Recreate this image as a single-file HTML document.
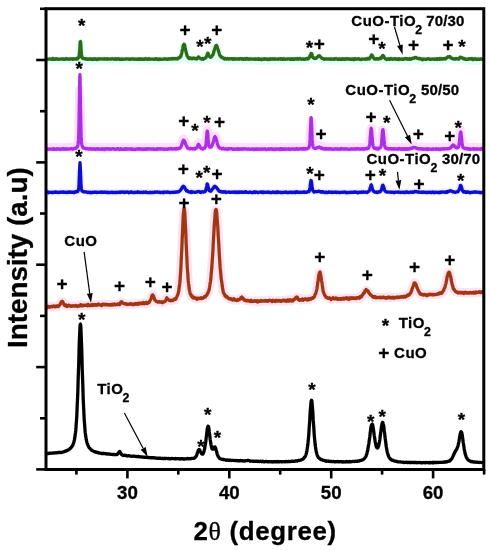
<!DOCTYPE html>
<html><head><meta charset="utf-8"><title>XRD patterns</title>
<style>html,body{margin:0;padding:0;background:#fff}body{width:490px;height:550px;overflow:hidden}</style></head>
<body>
<svg width="490" height="550" viewBox="0 0 490 550" style="display:block">
<rect width="490" height="550" fill="#fff"/>
<path d="M46.5,60.73 L47.5,60.68 L48.5,60.73 L49.5,60.50 L50.5,60.63 L51.5,60.55 L52.5,60.04 L53.5,60.61 L54.5,60.61 L55.5,60.41 L56.5,60.32 L57.5,60.50 L58.5,60.73 L59.5,60.60 L60.5,60.65 L61.5,60.59 L62.5,60.48 L63.5,60.38 L64.5,60.48 L65.5,60.46 L66.5,60.69 L67.5,60.68 L68.5,60.68 L69.5,60.54 L70.5,60.33 L71.5,60.53 L72.5,60.83 L73.5,60.67 L74.5,60.52 L75.5,60.33 L76.5,60.51 L77.5,60.51 L78.5,59.27 L79.5,53.78 L80.5,43.04 L81.5,55.74 L82.5,59.70 L83.5,60.14 L84.5,60.02 L85.5,60.38 L86.5,60.61 L87.5,60.71 L88.5,60.43 L89.5,60.56 L90.5,60.42 L91.5,60.77 L92.5,60.87 L93.5,60.32 L94.5,60.61 L95.5,60.64 L96.5,60.98 L97.5,60.49 L98.5,60.55 L99.5,60.43 L100.5,60.38 L101.5,60.60 L102.5,60.41 L103.5,60.36 L104.5,60.37 L105.5,60.43 L106.5,60.49 L107.5,60.71 L108.5,60.61 L109.5,60.56 L110.5,60.40 L111.5,60.47 L112.5,60.38 L113.5,60.66 L114.5,60.46 L115.5,60.67 L116.5,60.75 L117.5,60.51 L118.5,60.26 L119.5,60.77 L120.5,60.53 L121.5,60.44 L122.5,60.52 L123.5,60.73 L124.5,60.53 L125.5,60.32 L126.5,60.64 L127.5,60.42 L128.5,60.56 L129.5,60.55 L130.5,60.81 L131.5,60.46 L132.5,60.63 L133.5,60.49 L134.5,60.62 L135.5,60.60 L136.5,60.74 L137.5,60.69 L138.5,60.62 L139.5,60.45 L140.5,60.65 L141.5,60.78 L142.5,60.49 L143.5,60.71 L144.5,60.60 L145.5,60.48 L146.5,60.35 L147.5,60.51 L148.5,60.72 L149.5,60.39 L150.5,60.75 L151.5,60.55 L152.5,60.64 L153.5,60.59 L154.5,60.83 L155.5,60.60 L156.5,60.29 L157.5,60.85 L158.5,60.89 L159.5,60.48 L160.5,60.72 L161.5,60.97 L162.5,60.54 L163.5,60.48 L164.5,60.30 L165.5,60.61 L166.5,60.44 L167.5,60.96 L168.5,60.49 L169.5,60.69 L170.5,60.31 L171.5,60.36 L172.5,60.17 L173.5,60.53 L174.5,60.42 L175.5,60.37 L176.5,60.25 L177.5,60.46 L178.5,59.44 L179.5,59.13 L180.5,58.12 L181.5,55.42 L182.5,51.00 L183.5,46.62 L184.5,46.27 L185.5,51.12 L186.5,55.20 L187.5,57.94 L188.5,59.22 L189.5,60.08 L190.5,59.34 L191.5,60.19 L192.5,60.08 L193.5,59.78 L194.5,60.01 L195.5,60.19 L196.5,59.88 L197.5,59.77 L198.5,58.40 L199.5,59.26 L200.5,60.19 L201.5,60.60 L202.5,60.00 L203.5,60.65 L204.5,59.73 L205.5,59.26 L206.5,57.96 L207.5,55.25 L208.5,55.97 L209.5,57.97 L210.5,58.58 L211.5,58.02 L212.5,56.64 L213.5,54.82 L214.5,51.08 L215.5,48.00 L216.5,46.94 L217.5,49.49 L218.5,52.59 L219.5,56.09 L220.5,57.70 L221.5,58.84 L222.5,59.36 L223.5,59.58 L224.5,60.49 L225.5,59.98 L226.5,60.59 L227.5,60.16 L228.5,60.50 L229.5,60.36 L230.5,60.38 L231.5,60.18 L232.5,60.56 L233.5,60.20 L234.5,60.75 L235.5,60.35 L236.5,60.37 L237.5,60.35 L238.5,60.32 L239.5,60.33 L240.5,60.11 L241.5,60.42 L242.5,60.40 L243.5,60.75 L244.5,60.64 L245.5,60.12 L246.5,60.40 L247.5,60.58 L248.5,60.71 L249.5,60.49 L250.5,60.37 L251.5,60.57 L252.5,60.68 L253.5,60.67 L254.5,60.63 L255.5,60.38 L256.5,60.47 L257.5,60.85 L258.5,60.24 L259.5,60.89 L260.5,60.72 L261.5,61.19 L262.5,60.80 L263.5,60.84 L264.5,60.19 L265.5,60.55 L266.5,60.44 L267.5,60.68 L268.5,60.71 L269.5,60.42 L270.5,60.41 L271.5,60.33 L272.5,60.69 L273.5,60.50 L274.5,60.57 L275.5,60.40 L276.5,60.67 L277.5,60.55 L278.5,60.66 L279.5,60.43 L280.5,60.49 L281.5,60.55 L282.5,60.77 L283.5,60.81 L284.5,60.52 L285.5,60.81 L286.5,60.50 L287.5,60.56 L288.5,60.42 L289.5,60.32 L290.5,60.80 L291.5,60.24 L292.5,60.87 L293.5,60.51 L294.5,60.54 L295.5,60.10 L296.5,60.69 L297.5,60.07 L298.5,60.45 L299.5,60.19 L300.5,60.36 L301.5,60.87 L302.5,60.46 L303.5,60.78 L304.5,60.74 L305.5,60.64 L306.5,60.09 L307.5,60.14 L308.5,60.01 L309.5,58.76 L310.5,56.21 L311.5,54.88 L312.5,57.95 L313.5,59.37 L314.5,59.79 L315.5,59.69 L316.5,59.16 L317.5,58.55 L318.5,57.41 L319.5,57.44 L320.5,58.36 L321.5,59.29 L322.5,60.16 L323.5,60.20 L324.5,60.51 L325.5,60.46 L326.5,60.55 L327.5,60.46 L328.5,60.50 L329.5,60.68 L330.5,60.79 L331.5,60.47 L332.5,60.62 L333.5,60.83 L334.5,60.15 L335.5,60.43 L336.5,60.30 L337.5,60.85 L338.5,60.81 L339.5,60.42 L340.5,60.52 L341.5,60.96 L342.5,60.23 L343.5,60.42 L344.5,60.62 L345.5,60.28 L346.5,60.55 L347.5,60.30 L348.5,60.54 L349.5,60.65 L350.5,60.83 L351.5,60.63 L352.5,60.75 L353.5,60.89 L354.5,60.42 L355.5,60.65 L356.5,60.34 L357.5,60.56 L358.5,60.10 L359.5,60.71 L360.5,61.01 L361.5,60.81 L362.5,60.58 L363.5,60.61 L364.5,60.52 L365.5,60.51 L366.5,60.67 L367.5,60.02 L368.5,60.48 L369.5,60.22 L370.5,58.68 L371.5,56.60 L372.5,57.32 L373.5,59.10 L374.5,60.54 L375.5,60.61 L376.5,60.48 L377.5,60.23 L378.5,60.56 L379.5,60.01 L380.5,59.77 L381.5,59.34 L382.5,57.31 L383.5,57.65 L384.5,59.38 L385.5,60.36 L386.5,60.81 L387.5,60.40 L388.5,60.37 L389.5,60.40 L390.5,60.53 L391.5,60.58 L392.5,60.32 L393.5,60.50 L394.5,60.09 L395.5,60.18 L396.5,60.59 L397.5,60.48 L398.5,61.05 L399.5,60.51 L400.5,60.57 L401.5,60.50 L402.5,60.66 L403.5,60.81 L404.5,60.30 L405.5,60.23 L406.5,60.31 L407.5,60.67 L408.5,60.65 L409.5,60.43 L410.5,60.87 L411.5,60.41 L412.5,59.97 L413.5,59.92 L414.5,59.26 L415.5,59.08 L416.5,59.21 L417.5,59.82 L418.5,60.01 L419.5,60.39 L420.5,60.26 L421.5,60.72 L422.5,60.91 L423.5,60.98 L424.5,60.70 L425.5,60.79 L426.5,60.71 L427.5,60.49 L428.5,60.14 L429.5,60.49 L430.5,60.55 L431.5,60.65 L432.5,60.55 L433.5,60.57 L434.5,60.87 L435.5,60.77 L436.5,60.85 L437.5,61.02 L438.5,60.30 L439.5,60.49 L440.5,60.56 L441.5,60.37 L442.5,60.69 L443.5,60.48 L444.5,60.06 L445.5,60.27 L446.5,59.54 L447.5,58.83 L448.5,58.54 L449.5,58.37 L450.5,58.87 L451.5,59.30 L452.5,60.13 L453.5,60.39 L454.5,60.51 L455.5,60.57 L456.5,60.08 L457.5,60.51 L458.5,60.61 L459.5,59.61 L460.5,58.67 L461.5,59.11 L462.5,59.76 L463.5,59.78 L464.5,60.56 L465.5,60.43 L466.5,60.80 L467.5,60.90 L468.5,60.62 L469.5,60.43 L470.5,60.13 L471.5,60.21 L472.5,61.04 L473.5,61.02 L474.5,60.21 L475.5,60.31 L476.5,61.01 L477.5,60.71 L478.5,60.62 L479.5,60.71 L480.5,60.43 L481.5,60.66 L482.5,60.76" fill="none" stroke="#d8fff6" stroke-width="8" stroke-linejoin="round" opacity="0.8"/>
<path d="M46.5,147.57 L47.5,147.77 L48.5,147.64 L49.5,147.44 L50.5,147.61 L51.5,147.65 L52.5,147.51 L53.5,147.04 L54.5,147.81 L55.5,147.63 L56.5,147.71 L57.5,147.46 L58.5,147.46 L59.5,147.56 L60.5,148.03 L61.5,147.57 L62.5,147.55 L63.5,147.54 L64.5,147.44 L65.5,147.41 L66.5,147.43 L67.5,147.34 L68.5,147.59 L69.5,147.34 L70.5,147.28 L71.5,147.02 L72.5,147.66 L73.5,147.36 L74.5,146.84 L75.5,146.69 L76.5,146.04 L77.5,144.94 L78.5,138.21 L79.5,89.96 L80.5,104.74 L81.5,140.90 L82.5,145.03 L83.5,146.49 L84.5,146.65 L85.5,147.13 L86.5,146.91 L87.5,147.23 L88.5,147.56 L89.5,147.42 L90.5,147.18 L91.5,147.60 L92.5,147.58 L93.5,147.41 L94.5,147.50 L95.5,147.62 L96.5,147.42 L97.5,147.71 L98.5,147.44 L99.5,147.58 L100.5,147.51 L101.5,147.88 L102.5,147.56 L103.5,147.55 L104.5,148.21 L105.5,147.26 L106.5,147.26 L107.5,147.65 L108.5,147.44 L109.5,147.40 L110.5,147.84 L111.5,147.39 L112.5,147.33 L113.5,147.14 L114.5,147.69 L115.5,147.62 L116.5,147.47 L117.5,147.21 L118.5,147.38 L119.5,147.82 L120.5,147.26 L121.5,147.94 L122.5,147.87 L123.5,147.54 L124.5,147.67 L125.5,147.14 L126.5,147.50 L127.5,147.45 L128.5,147.61 L129.5,147.41 L130.5,147.44 L131.5,147.87 L132.5,147.63 L133.5,147.98 L134.5,147.68 L135.5,147.82 L136.5,147.45 L137.5,147.68 L138.5,147.16 L139.5,147.52 L140.5,147.78 L141.5,147.43 L142.5,147.41 L143.5,147.63 L144.5,147.92 L145.5,147.27 L146.5,147.58 L147.5,147.55 L148.5,147.45 L149.5,147.68 L150.5,147.39 L151.5,147.51 L152.5,147.24 L153.5,147.70 L154.5,147.51 L155.5,147.83 L156.5,147.76 L157.5,147.08 L158.5,147.23 L159.5,147.36 L160.5,147.16 L161.5,147.50 L162.5,147.52 L163.5,147.42 L164.5,147.98 L165.5,147.61 L166.5,147.55 L167.5,147.76 L168.5,147.26 L169.5,147.32 L170.5,147.43 L171.5,147.38 L172.5,147.59 L173.5,147.45 L174.5,147.24 L175.5,147.27 L176.5,147.05 L177.5,147.09 L178.5,146.83 L179.5,146.50 L180.5,146.05 L181.5,144.08 L182.5,140.99 L183.5,138.71 L184.5,139.91 L185.5,142.25 L186.5,144.57 L187.5,146.22 L188.5,146.91 L189.5,147.20 L190.5,147.01 L191.5,147.07 L192.5,147.33 L193.5,147.44 L194.5,146.86 L195.5,146.92 L196.5,146.40 L197.5,144.95 L198.5,142.72 L199.5,144.25 L200.5,146.12 L201.5,146.84 L202.5,147.49 L203.5,146.86 L204.5,146.66 L205.5,144.82 L206.5,136.98 L207.5,129.94 L208.5,141.34 L209.5,145.58 L210.5,145.68 L211.5,144.78 L212.5,142.67 L213.5,139.67 L214.5,136.00 L215.5,135.83 L216.5,138.72 L217.5,142.61 L218.5,145.07 L219.5,146.33 L220.5,146.59 L221.5,147.02 L222.5,146.91 L223.5,147.14 L224.5,147.61 L225.5,147.30 L226.5,147.45 L227.5,147.77 L228.5,147.21 L229.5,147.32 L230.5,147.43 L231.5,147.23 L232.5,147.34 L233.5,147.57 L234.5,147.93 L235.5,147.51 L236.5,147.70 L237.5,147.07 L238.5,147.88 L239.5,147.77 L240.5,147.40 L241.5,147.79 L242.5,147.17 L243.5,147.39 L244.5,147.32 L245.5,147.41 L246.5,147.38 L247.5,147.69 L248.5,147.58 L249.5,147.56 L250.5,147.55 L251.5,147.65 L252.5,147.37 L253.5,147.58 L254.5,147.78 L255.5,147.71 L256.5,147.27 L257.5,147.75 L258.5,147.40 L259.5,147.67 L260.5,147.81 L261.5,147.51 L262.5,147.85 L263.5,147.64 L264.5,147.63 L265.5,147.82 L266.5,148.08 L267.5,147.68 L268.5,147.22 L269.5,147.81 L270.5,147.35 L271.5,147.24 L272.5,147.91 L273.5,147.78 L274.5,148.10 L275.5,147.56 L276.5,147.77 L277.5,147.56 L278.5,147.38 L279.5,147.52 L280.5,147.13 L281.5,147.91 L282.5,147.65 L283.5,147.53 L284.5,147.91 L285.5,147.65 L286.5,147.71 L287.5,147.67 L288.5,147.22 L289.5,147.81 L290.5,147.78 L291.5,147.59 L292.5,147.33 L293.5,147.57 L294.5,147.70 L295.5,147.42 L296.5,147.25 L297.5,147.58 L298.5,147.83 L299.5,147.50 L300.5,147.14 L301.5,147.35 L302.5,147.48 L303.5,147.00 L304.5,147.33 L305.5,147.09 L306.5,147.18 L307.5,147.01 L308.5,146.37 L309.5,143.61 L310.5,126.69 L311.5,121.59 L312.5,141.75 L313.5,146.08 L314.5,146.77 L315.5,146.87 L316.5,146.47 L317.5,146.36 L318.5,145.60 L319.5,145.50 L320.5,146.20 L321.5,146.87 L322.5,146.98 L323.5,147.12 L324.5,147.48 L325.5,146.98 L326.5,147.49 L327.5,147.51 L328.5,147.51 L329.5,147.44 L330.5,147.42 L331.5,147.37 L332.5,147.72 L333.5,147.61 L334.5,147.64 L335.5,147.25 L336.5,147.54 L337.5,147.27 L338.5,147.70 L339.5,147.28 L340.5,147.48 L341.5,147.40 L342.5,147.41 L343.5,147.52 L344.5,147.58 L345.5,147.50 L346.5,147.27 L347.5,147.52 L348.5,147.61 L349.5,147.83 L350.5,147.35 L351.5,147.61 L352.5,147.52 L353.5,147.45 L354.5,147.59 L355.5,147.13 L356.5,147.35 L357.5,147.25 L358.5,147.40 L359.5,147.33 L360.5,147.28 L361.5,147.61 L362.5,147.63 L363.5,147.69 L364.5,147.14 L365.5,147.17 L366.5,147.10 L367.5,147.13 L368.5,146.65 L369.5,143.43 L370.5,133.31 L371.5,128.20 L372.5,140.31 L373.5,145.61 L374.5,146.80 L375.5,146.59 L376.5,146.96 L377.5,146.79 L378.5,147.52 L379.5,146.50 L380.5,145.80 L381.5,141.89 L382.5,130.05 L383.5,132.74 L384.5,143.11 L385.5,146.55 L386.5,146.91 L387.5,146.87 L388.5,147.40 L389.5,147.36 L390.5,147.26 L391.5,147.52 L392.5,147.26 L393.5,147.74 L394.5,147.49 L395.5,147.38 L396.5,147.66 L397.5,147.39 L398.5,147.41 L399.5,147.31 L400.5,147.46 L401.5,147.64 L402.5,147.41 L403.5,147.48 L404.5,147.67 L405.5,147.62 L406.5,147.12 L407.5,147.59 L408.5,147.71 L409.5,147.14 L410.5,146.65 L411.5,146.77 L412.5,146.30 L413.5,146.22 L414.5,145.93 L415.5,146.14 L416.5,146.80 L417.5,147.12 L418.5,147.35 L419.5,147.30 L420.5,147.22 L421.5,147.67 L422.5,147.20 L423.5,147.74 L424.5,147.56 L425.5,147.67 L426.5,147.24 L427.5,148.07 L428.5,147.36 L429.5,147.58 L430.5,147.65 L431.5,147.82 L432.5,147.50 L433.5,147.81 L434.5,147.62 L435.5,147.67 L436.5,147.09 L437.5,147.56 L438.5,147.51 L439.5,147.42 L440.5,147.90 L441.5,147.61 L442.5,147.58 L443.5,147.30 L444.5,147.55 L445.5,147.37 L446.5,147.34 L447.5,147.19 L448.5,147.15 L449.5,146.86 L450.5,146.33 L451.5,145.25 L452.5,143.98 L453.5,143.76 L454.5,144.85 L455.5,145.70 L456.5,146.14 L457.5,146.19 L458.5,145.44 L459.5,139.98 L460.5,130.81 L461.5,135.83 L462.5,144.01 L463.5,146.19 L464.5,146.72 L465.5,147.06 L466.5,146.99 L467.5,146.98 L468.5,147.50 L469.5,147.69 L470.5,147.45 L471.5,147.60 L472.5,147.42 L473.5,147.06 L474.5,147.84 L475.5,147.30 L476.5,147.71 L477.5,147.37 L478.5,147.53 L479.5,147.55 L480.5,147.76 L481.5,147.30 L482.5,147.34" fill="none" stroke="#ffd6ff" stroke-width="9" stroke-linejoin="round" opacity="0.8"/>
<path d="M46.5,192.41 L47.5,192.16 L48.5,192.40 L49.5,192.16 L50.5,192.32 L51.5,192.40 L52.5,192.26 L53.5,192.31 L54.5,192.45 L55.5,191.97 L56.5,192.25 L57.5,192.20 L58.5,192.46 L59.5,192.35 L60.5,192.05 L61.5,192.06 L62.5,191.94 L63.5,191.98 L64.5,192.38 L65.5,192.40 L66.5,192.45 L67.5,192.35 L68.5,192.28 L69.5,192.29 L70.5,192.18 L71.5,192.19 L72.5,192.13 L73.5,192.42 L74.5,191.84 L75.5,191.74 L76.5,191.43 L77.5,191.64 L78.5,189.64 L79.5,172.18 L80.5,172.32 L81.5,189.12 L82.5,191.07 L83.5,191.94 L84.5,191.88 L85.5,191.92 L86.5,192.21 L87.5,192.48 L88.5,192.20 L89.5,192.49 L90.5,192.25 L91.5,192.76 L92.5,192.31 L93.5,192.42 L94.5,192.17 L95.5,192.28 L96.5,192.60 L97.5,192.06 L98.5,192.42 L99.5,192.22 L100.5,192.25 L101.5,191.91 L102.5,192.42 L103.5,192.15 L104.5,192.09 L105.5,192.34 L106.5,192.17 L107.5,192.08 L108.5,192.45 L109.5,192.61 L110.5,192.31 L111.5,192.21 L112.5,192.55 L113.5,192.42 L114.5,192.50 L115.5,192.53 L116.5,192.36 L117.5,192.44 L118.5,192.26 L119.5,192.46 L120.5,192.45 L121.5,192.18 L122.5,192.08 L123.5,192.36 L124.5,192.01 L125.5,192.45 L126.5,192.21 L127.5,192.00 L128.5,192.56 L129.5,192.39 L130.5,192.01 L131.5,192.43 L132.5,192.26 L133.5,192.29 L134.5,192.37 L135.5,192.17 L136.5,192.43 L137.5,191.80 L138.5,192.02 L139.5,192.16 L140.5,192.38 L141.5,192.17 L142.5,192.48 L143.5,192.19 L144.5,192.42 L145.5,192.21 L146.5,192.02 L147.5,192.32 L148.5,192.58 L149.5,192.34 L150.5,192.17 L151.5,192.38 L152.5,192.29 L153.5,192.31 L154.5,191.99 L155.5,192.28 L156.5,192.10 L157.5,192.24 L158.5,192.30 L159.5,192.20 L160.5,192.62 L161.5,192.35 L162.5,192.20 L163.5,192.80 L164.5,192.10 L165.5,192.04 L166.5,192.36 L167.5,192.22 L168.5,192.17 L169.5,192.64 L170.5,192.56 L171.5,192.40 L172.5,192.40 L173.5,192.14 L174.5,192.31 L175.5,192.10 L176.5,191.99 L177.5,191.76 L178.5,191.74 L179.5,191.08 L180.5,190.31 L181.5,188.65 L182.5,187.01 L183.5,186.33 L184.5,187.22 L185.5,189.32 L186.5,190.91 L187.5,191.02 L188.5,191.76 L189.5,192.09 L190.5,192.09 L191.5,191.61 L192.5,192.28 L193.5,192.12 L194.5,192.34 L195.5,192.06 L196.5,192.01 L197.5,191.79 L198.5,191.41 L199.5,191.61 L200.5,192.27 L201.5,191.93 L202.5,191.87 L203.5,192.00 L204.5,191.93 L205.5,190.84 L206.5,187.13 L207.5,184.47 L208.5,188.76 L209.5,190.74 L210.5,191.08 L211.5,190.42 L212.5,188.79 L213.5,187.86 L214.5,186.36 L215.5,186.70 L216.5,187.70 L217.5,188.76 L218.5,190.12 L219.5,191.36 L220.5,191.76 L221.5,191.67 L222.5,192.02 L223.5,191.98 L224.5,192.19 L225.5,191.78 L226.5,192.08 L227.5,192.12 L228.5,191.98 L229.5,192.32 L230.5,192.06 L231.5,192.26 L232.5,192.13 L233.5,192.01 L234.5,192.02 L235.5,192.47 L236.5,191.95 L237.5,192.42 L238.5,192.03 L239.5,192.54 L240.5,192.04 L241.5,192.42 L242.5,192.43 L243.5,192.33 L244.5,192.27 L245.5,191.58 L246.5,192.43 L247.5,192.41 L248.5,192.49 L249.5,192.14 L250.5,192.17 L251.5,192.68 L252.5,192.68 L253.5,192.30 L254.5,192.04 L255.5,191.95 L256.5,192.11 L257.5,192.43 L258.5,192.36 L259.5,192.22 L260.5,192.26 L261.5,192.27 L262.5,192.53 L263.5,192.22 L264.5,192.17 L265.5,192.29 L266.5,192.32 L267.5,192.44 L268.5,192.15 L269.5,192.41 L270.5,192.55 L271.5,192.58 L272.5,192.05 L273.5,192.22 L274.5,192.13 L275.5,192.49 L276.5,192.26 L277.5,191.87 L278.5,192.07 L279.5,192.14 L280.5,192.44 L281.5,192.60 L282.5,192.32 L283.5,192.40 L284.5,192.45 L285.5,192.02 L286.5,192.23 L287.5,192.45 L288.5,192.53 L289.5,192.43 L290.5,192.36 L291.5,192.39 L292.5,192.53 L293.5,192.08 L294.5,192.26 L295.5,192.52 L296.5,191.94 L297.5,191.92 L298.5,192.17 L299.5,192.33 L300.5,192.22 L301.5,192.30 L302.5,192.16 L303.5,192.21 L304.5,192.09 L305.5,192.23 L306.5,192.16 L307.5,192.02 L308.5,191.24 L309.5,190.03 L310.5,183.51 L311.5,182.15 L312.5,189.25 L313.5,191.24 L314.5,191.99 L315.5,191.62 L316.5,191.54 L317.5,191.61 L318.5,191.20 L319.5,191.27 L320.5,191.74 L321.5,191.64 L322.5,191.70 L323.5,192.19 L324.5,192.38 L325.5,192.55 L326.5,192.08 L327.5,192.58 L328.5,192.24 L329.5,191.95 L330.5,192.19 L331.5,192.04 L332.5,192.64 L333.5,192.04 L334.5,192.42 L335.5,192.19 L336.5,192.50 L337.5,192.39 L338.5,192.38 L339.5,192.59 L340.5,192.43 L341.5,192.32 L342.5,192.08 L343.5,192.30 L344.5,191.91 L345.5,192.34 L346.5,192.62 L347.5,192.34 L348.5,192.51 L349.5,192.30 L350.5,192.31 L351.5,192.31 L352.5,192.31 L353.5,192.05 L354.5,192.11 L355.5,192.02 L356.5,192.28 L357.5,192.27 L358.5,192.60 L359.5,192.23 L360.5,192.36 L361.5,191.99 L362.5,192.25 L363.5,191.91 L364.5,192.44 L365.5,192.02 L366.5,192.18 L367.5,192.23 L368.5,191.37 L369.5,190.31 L370.5,187.00 L371.5,185.51 L372.5,189.25 L373.5,191.13 L374.5,191.95 L375.5,192.06 L376.5,192.13 L377.5,192.48 L378.5,191.93 L379.5,191.62 L380.5,191.37 L381.5,189.45 L382.5,185.53 L383.5,186.41 L384.5,189.89 L385.5,191.25 L386.5,191.85 L387.5,192.15 L388.5,192.03 L389.5,192.05 L390.5,191.99 L391.5,192.42 L392.5,192.16 L393.5,192.27 L394.5,192.37 L395.5,192.11 L396.5,192.04 L397.5,192.10 L398.5,192.04 L399.5,192.43 L400.5,192.51 L401.5,192.33 L402.5,192.06 L403.5,192.48 L404.5,192.29 L405.5,192.49 L406.5,191.98 L407.5,191.86 L408.5,192.33 L409.5,192.34 L410.5,192.22 L411.5,192.45 L412.5,191.89 L413.5,192.23 L414.5,191.77 L415.5,191.73 L416.5,191.65 L417.5,191.99 L418.5,191.95 L419.5,192.35 L420.5,192.12 L421.5,192.13 L422.5,192.20 L423.5,192.05 L424.5,192.41 L425.5,192.34 L426.5,192.44 L427.5,192.52 L428.5,192.26 L429.5,192.49 L430.5,192.39 L431.5,192.63 L432.5,192.01 L433.5,192.27 L434.5,192.47 L435.5,192.40 L436.5,192.23 L437.5,192.42 L438.5,192.53 L439.5,192.25 L440.5,192.14 L441.5,192.23 L442.5,191.90 L443.5,192.03 L444.5,192.09 L445.5,192.47 L446.5,191.70 L447.5,191.53 L448.5,191.53 L449.5,190.90 L450.5,190.77 L451.5,191.07 L452.5,191.76 L453.5,191.73 L454.5,192.21 L455.5,192.19 L456.5,191.93 L457.5,191.80 L458.5,190.75 L459.5,188.77 L460.5,185.36 L461.5,187.17 L462.5,190.62 L463.5,191.87 L464.5,191.96 L465.5,192.29 L466.5,192.16 L467.5,191.76 L468.5,192.39 L469.5,192.43 L470.5,192.36 L471.5,192.42 L472.5,192.45 L473.5,192.10 L474.5,191.92 L475.5,192.02 L476.5,192.03 L477.5,192.09 L478.5,192.32 L479.5,192.29 L480.5,192.30 L481.5,192.35 L482.5,192.05" fill="none" stroke="#ececff" stroke-width="7" stroke-linejoin="round" opacity="0.8"/>
<path d="M46.5,306.71 L47.5,306.50 L48.5,306.43 L49.5,307.16 L50.5,306.67 L51.5,306.28 L52.5,306.78 L53.5,306.37 L54.5,306.27 L55.5,306.72 L56.5,306.66 L57.5,305.85 L58.5,306.49 L59.5,305.08 L60.5,303.62 L61.5,301.78 L62.5,301.45 L63.5,303.34 L64.5,305.04 L65.5,305.59 L66.5,305.31 L67.5,306.09 L68.5,305.26 L69.5,305.63 L70.5,306.10 L71.5,305.80 L72.5,306.14 L73.5,305.64 L74.5,305.94 L75.5,305.78 L76.5,305.87 L77.5,306.57 L78.5,306.20 L79.5,305.90 L80.5,304.74 L81.5,305.52 L82.5,305.43 L83.5,305.42 L84.5,305.37 L85.5,305.34 L86.5,304.98 L87.5,305.77 L88.5,305.59 L89.5,305.53 L90.5,305.68 L91.5,305.20 L92.5,304.42 L93.5,304.88 L94.5,304.86 L95.5,305.29 L96.5,304.69 L97.5,304.60 L98.5,304.22 L99.5,304.90 L100.5,305.00 L101.5,305.54 L102.5,304.19 L103.5,304.61 L104.5,304.30 L105.5,304.79 L106.5,304.56 L107.5,304.71 L108.5,304.49 L109.5,305.19 L110.5,304.61 L111.5,304.54 L112.5,304.22 L113.5,304.59 L114.5,304.48 L115.5,304.77 L116.5,304.37 L117.5,304.39 L118.5,303.81 L119.5,304.76 L120.5,302.81 L121.5,302.07 L122.5,303.08 L123.5,303.26 L124.5,303.85 L125.5,303.64 L126.5,304.13 L127.5,304.24 L128.5,304.24 L129.5,304.25 L130.5,304.03 L131.5,303.97 L132.5,304.61 L133.5,304.68 L134.5,303.92 L135.5,303.60 L136.5,303.96 L137.5,303.46 L138.5,303.89 L139.5,303.72 L140.5,303.64 L141.5,303.46 L142.5,303.54 L143.5,302.41 L144.5,303.73 L145.5,303.37 L146.5,302.28 L147.5,303.35 L148.5,302.52 L149.5,301.70 L150.5,299.78 L151.5,297.31 L152.5,294.96 L153.5,296.05 L154.5,299.00 L155.5,300.35 L156.5,301.40 L157.5,301.87 L158.5,302.09 L159.5,301.69 L160.5,302.07 L161.5,302.40 L162.5,302.76 L163.5,301.86 L164.5,301.76 L165.5,300.55 L166.5,298.22 L167.5,299.08 L168.5,299.64 L169.5,300.44 L170.5,300.73 L171.5,300.09 L172.5,300.58 L173.5,299.94 L174.5,298.94 L175.5,299.28 L176.5,297.52 L177.5,295.25 L178.5,291.90 L179.5,285.15 L180.5,273.49 L181.5,254.90 L182.5,232.16 L183.5,212.72 L184.5,210.47 L185.5,227.26 L186.5,249.84 L187.5,270.13 L188.5,283.17 L189.5,290.31 L190.5,294.24 L191.5,296.23 L192.5,297.12 L193.5,298.08 L194.5,297.49 L195.5,298.01 L196.5,298.94 L197.5,298.70 L198.5,298.63 L199.5,298.54 L200.5,298.09 L201.5,298.48 L202.5,298.24 L203.5,298.01 L204.5,296.46 L205.5,296.56 L206.5,295.35 L207.5,293.61 L208.5,291.34 L209.5,287.55 L210.5,281.51 L211.5,270.92 L212.5,257.14 L213.5,239.39 L214.5,222.58 L215.5,210.58 L216.5,211.09 L217.5,223.20 L218.5,239.97 L219.5,257.15 L220.5,270.90 L221.5,280.68 L222.5,287.69 L223.5,292.70 L224.5,294.26 L225.5,295.56 L226.5,297.07 L227.5,297.33 L228.5,298.28 L229.5,298.48 L230.5,298.85 L231.5,299.00 L232.5,300.01 L233.5,299.67 L234.5,300.03 L235.5,299.96 L236.5,300.05 L237.5,300.05 L238.5,299.80 L239.5,299.74 L240.5,298.31 L241.5,297.46 L242.5,298.25 L243.5,299.10 L244.5,299.61 L245.5,300.47 L246.5,300.81 L247.5,300.81 L248.5,300.75 L249.5,300.95 L250.5,301.34 L251.5,300.92 L252.5,301.31 L253.5,301.35 L254.5,301.15 L255.5,300.86 L256.5,300.84 L257.5,302.10 L258.5,301.21 L259.5,301.23 L260.5,301.28 L261.5,300.67 L262.5,301.21 L263.5,300.85 L264.5,300.69 L265.5,301.07 L266.5,300.64 L267.5,300.77 L268.5,300.88 L269.5,300.35 L270.5,300.66 L271.5,301.02 L272.5,300.88 L273.5,300.60 L274.5,301.21 L275.5,301.10 L276.5,300.93 L277.5,300.61 L278.5,300.30 L279.5,300.78 L280.5,301.23 L281.5,301.21 L282.5,300.43 L283.5,300.53 L284.5,300.98 L285.5,300.34 L286.5,301.38 L287.5,299.80 L288.5,299.96 L289.5,300.63 L290.5,299.97 L291.5,300.97 L292.5,300.09 L293.5,299.83 L294.5,299.02 L295.5,298.37 L296.5,297.20 L297.5,297.53 L298.5,299.39 L299.5,300.06 L300.5,299.63 L301.5,300.03 L302.5,298.92 L303.5,299.74 L304.5,299.52 L305.5,299.03 L306.5,299.54 L307.5,299.89 L308.5,298.88 L309.5,299.39 L310.5,298.96 L311.5,298.28 L312.5,298.12 L313.5,297.54 L314.5,296.46 L315.5,293.97 L316.5,290.69 L317.5,284.94 L318.5,277.58 L319.5,272.67 L320.5,274.24 L321.5,280.52 L322.5,286.44 L323.5,291.92 L324.5,294.63 L325.5,296.23 L326.5,297.32 L327.5,297.64 L328.5,298.22 L329.5,297.97 L330.5,298.84 L331.5,298.97 L332.5,298.55 L333.5,298.58 L334.5,298.45 L335.5,298.81 L336.5,298.46 L337.5,299.09 L338.5,298.94 L339.5,298.65 L340.5,299.15 L341.5,298.68 L342.5,298.44 L343.5,298.76 L344.5,298.35 L345.5,298.53 L346.5,298.01 L347.5,298.31 L348.5,299.05 L349.5,298.54 L350.5,298.48 L351.5,298.16 L352.5,298.02 L353.5,298.03 L354.5,298.33 L355.5,298.23 L356.5,298.48 L357.5,298.06 L358.5,297.80 L359.5,298.28 L360.5,296.38 L361.5,296.89 L362.5,294.76 L363.5,293.19 L364.5,292.53 L365.5,291.01 L366.5,290.38 L367.5,290.87 L368.5,292.19 L369.5,293.52 L370.5,294.96 L371.5,295.49 L372.5,296.55 L373.5,297.38 L374.5,296.84 L375.5,297.48 L376.5,297.31 L377.5,297.55 L378.5,297.72 L379.5,297.49 L380.5,297.90 L381.5,297.73 L382.5,297.54 L383.5,297.24 L384.5,297.63 L385.5,297.42 L386.5,298.03 L387.5,297.52 L388.5,296.93 L389.5,297.64 L390.5,297.33 L391.5,297.70 L392.5,297.58 L393.5,297.46 L394.5,297.51 L395.5,297.58 L396.5,297.21 L397.5,297.40 L398.5,297.39 L399.5,297.03 L400.5,296.86 L401.5,296.66 L402.5,296.64 L403.5,296.62 L404.5,296.31 L405.5,297.02 L406.5,296.27 L407.5,294.99 L408.5,295.05 L409.5,294.36 L410.5,293.14 L411.5,290.92 L412.5,287.86 L413.5,285.61 L414.5,282.91 L415.5,283.67 L416.5,286.00 L417.5,288.71 L418.5,291.05 L419.5,292.66 L420.5,294.08 L421.5,294.50 L422.5,294.70 L423.5,295.11 L424.5,294.46 L425.5,294.59 L426.5,295.49 L427.5,295.45 L428.5,294.47 L429.5,294.47 L430.5,294.65 L431.5,294.51 L432.5,294.40 L433.5,294.35 L434.5,294.50 L435.5,294.53 L436.5,294.43 L437.5,294.24 L438.5,293.54 L439.5,293.87 L440.5,292.76 L441.5,293.29 L442.5,292.07 L443.5,290.40 L444.5,288.15 L445.5,284.83 L446.5,280.52 L447.5,275.65 L448.5,272.76 L449.5,272.59 L450.5,276.17 L451.5,281.52 L452.5,285.72 L453.5,289.10 L454.5,289.99 L455.5,291.42 L456.5,292.20 L457.5,292.48 L458.5,292.19 L459.5,292.46 L460.5,292.91 L461.5,292.34 L462.5,292.72 L463.5,292.90 L464.5,292.65 L465.5,292.32 L466.5,292.93 L467.5,292.93 L468.5,292.67 L469.5,293.14 L470.5,292.38 L471.5,293.02 L472.5,292.92 L473.5,292.15 L474.5,292.66 L475.5,292.27 L476.5,292.79 L477.5,292.43 L478.5,292.40 L479.5,291.90 L480.5,292.22 L481.5,292.00 L482.5,291.56" fill="none" stroke="#ffdbee" stroke-width="9" stroke-linejoin="round" opacity="0.8"/>
<path d="M46.5,59.23 L46.8,59.30 L47.0,59.11 L47.2,58.97 L47.5,59.18 L47.8,59.20 L48.0,59.09 L48.2,59.18 L48.5,59.23 L48.8,59.18 L49.0,59.17 L49.2,59.13 L49.5,59.00 L49.8,58.96 L50.0,59.05 L50.2,59.16 L50.5,59.13 L50.8,58.97 L51.0,58.91 L51.2,58.98 L51.5,59.05 L51.8,59.16 L52.0,59.38 L52.2,59.14 L52.5,58.54 L52.8,58.50 L53.0,58.86 L53.2,59.02 L53.5,59.11 L53.8,59.33 L54.0,59.38 L54.2,59.05 L54.5,59.11 L54.8,59.47 L55.0,59.44 L55.2,59.22 L55.5,58.91 L55.8,58.77 L56.0,58.98 L56.2,59.01 L56.5,58.82 L56.8,58.85 L57.0,58.93 L57.2,58.91 L57.5,59.00 L57.8,59.10 L58.0,59.06 L58.2,59.05 L58.5,59.23 L58.8,59.32 L59.0,59.15 L59.2,59.03 L59.5,59.10 L59.8,59.14 L60.0,59.10 L60.2,59.05 L60.5,59.15 L60.8,59.05 L61.0,58.84 L61.2,58.92 L61.5,59.09 L61.8,59.05 L62.0,58.84 L62.2,58.82 L62.5,58.98 L62.8,59.04 L63.0,59.15 L63.2,59.09 L63.5,58.88 L63.8,59.09 L64.0,59.29 L64.2,59.06 L64.5,58.98 L64.8,59.16 L65.0,59.27 L65.2,59.23 L65.5,58.96 L65.8,58.77 L66.0,58.89 L66.2,59.05 L66.5,59.19 L66.8,59.03 L67.0,58.70 L67.2,58.79 L67.5,59.18 L67.8,59.21 L68.0,59.01 L68.2,59.05 L68.5,59.18 L68.8,59.26 L69.0,59.28 L69.2,59.17 L69.5,59.04 L69.8,59.10 L70.0,59.02 L70.2,58.74 L70.5,58.83 L70.8,58.92 L71.0,58.83 L71.2,58.92 L71.5,59.03 L71.8,59.12 L72.0,59.15 L72.2,59.24 L72.5,59.33 L72.8,59.12 L73.0,58.76 L73.2,58.82 L73.5,59.17 L73.8,59.07 L74.0,58.87 L74.2,58.93 L74.5,59.02 L74.8,59.09 L75.0,59.03 L75.2,58.87 L75.5,58.83 L75.8,58.82 L76.0,58.79 L76.2,59.01 L76.5,59.01 L76.8,58.42 L77.0,58.21 L77.2,58.79 L77.5,59.01 L77.8,58.44 L78.0,58.13 L78.2,58.12 L78.5,57.77 L78.8,57.21 L79.0,56.41 L79.2,54.86 L79.5,52.28 L79.8,48.82 L80.0,44.90 L80.2,41.87 L80.5,41.54 L80.8,44.07 L81.0,47.87 L81.2,51.36 L81.5,54.24 L81.8,56.36 L82.0,57.37 L82.2,57.86 L82.5,58.20 L82.8,58.30 L83.0,58.44 L83.2,58.66 L83.5,58.64 L83.8,58.61 L84.0,58.76 L84.2,58.68 L84.5,58.52 L84.8,58.58 L85.0,58.88 L85.2,59.06 L85.5,58.88 L85.8,58.68 L86.0,58.59 L86.2,58.86 L86.5,59.11 L86.8,58.97 L87.0,58.88 L87.2,59.05 L87.5,59.21 L87.8,59.36 L88.0,59.44 L88.2,59.18 L88.5,58.93 L88.8,58.95 L89.0,59.02 L89.2,59.05 L89.5,59.06 L89.8,58.92 L90.0,58.84 L90.2,59.00 L90.5,58.92 L90.8,58.85 L91.0,59.18 L91.2,59.39 L91.5,59.27 L91.8,59.05 L92.0,59.16 L92.2,59.56 L92.5,59.37 L92.8,58.87 L93.0,58.84 L93.2,58.88 L93.5,58.82 L93.8,58.92 L94.0,59.11 L94.2,59.33 L94.5,59.11 L94.8,58.68 L95.0,58.70 L95.2,58.89 L95.5,59.14 L95.8,59.25 L96.0,59.09 L96.2,59.10 L96.5,59.48 L96.8,59.50 L97.0,59.10 L97.2,58.99 L97.5,58.99 L97.8,58.90 L98.0,59.02 L98.2,59.21 L98.5,59.05 L98.8,58.99 L99.0,59.09 L99.2,58.99 L99.5,58.93 L99.8,58.95 L100.0,58.90 L100.2,58.83 L100.5,58.88 L100.8,58.98 L101.0,59.01 L101.2,59.04 L101.5,59.10 L101.8,59.16 L102.0,59.08 L102.2,58.97 L102.5,58.91 L102.8,58.82 L103.0,58.86 L103.2,58.96 L103.5,58.86 L103.8,58.88 L104.0,59.12 L104.2,59.15 L104.5,58.87 L104.8,58.73 L105.0,59.00 L105.2,59.04 L105.5,58.93 L105.8,59.03 L106.0,58.93 L106.2,58.83 L106.5,58.99 L106.8,59.08 L107.0,58.96 L107.2,58.98 L107.5,59.21 L107.8,59.00 L108.0,58.82 L108.2,59.03 L108.5,59.11 L108.8,59.08 L109.0,59.05 L109.2,59.07 L109.5,59.06 L109.8,59.04 L110.0,59.10 L110.2,58.99 L110.5,58.90 L110.8,59.06 L111.0,59.15 L111.2,59.01 L111.5,58.97 L111.8,58.96 L112.0,58.74 L112.2,58.75 L112.5,58.88 L112.8,58.85 L113.0,58.97 L113.2,59.16 L113.5,59.16 L113.8,58.95 L114.0,58.92 L114.2,58.87 L114.5,58.96 L114.8,59.35 L115.0,59.17 L115.2,58.97 L115.5,59.17 L115.8,59.00 L116.0,58.82 L116.2,59.12 L116.5,59.25 L116.8,59.06 L117.0,59.04 L117.2,59.07 L117.5,59.01 L117.8,59.10 L118.0,59.10 L118.2,58.86 L118.5,58.76 L118.8,58.85 L119.0,59.00 L119.2,59.20 L119.5,59.27 L119.8,59.25 L120.0,59.20 L120.2,59.07 L120.5,59.03 L120.8,59.29 L121.0,59.43 L121.2,59.14 L121.5,58.94 L121.8,58.96 L122.0,58.92 L122.2,58.93 L122.5,59.02 L122.8,59.17 L123.0,59.31 L123.2,59.24 L123.5,59.23 L123.8,59.25 L124.0,59.24 L124.2,59.26 L124.5,59.03 L124.8,58.85 L125.0,58.94 L125.2,58.91 L125.5,58.82 L125.8,58.81 L126.0,58.91 L126.2,59.18 L126.5,59.14 L126.8,58.88 L127.0,58.83 L127.2,58.92 L127.5,58.92 L127.8,58.80 L128.0,58.81 L128.2,58.92 L128.5,59.06 L128.8,59.30 L129.0,59.37 L129.2,59.23 L129.5,59.05 L129.8,58.95 L130.0,59.07 L130.2,59.18 L130.5,59.31 L130.8,59.21 L131.0,58.84 L131.2,58.83 L131.5,58.96 L131.8,58.97 L132.0,58.86 L132.2,58.90 L132.5,59.13 L132.8,59.21 L133.0,59.08 L133.2,58.90 L133.5,58.99 L133.8,59.19 L134.0,59.01 L134.2,58.86 L134.5,59.12 L134.8,59.30 L135.0,59.24 L135.2,59.17 L135.5,59.10 L135.8,59.02 L136.0,59.04 L136.2,59.10 L136.5,59.24 L136.8,59.25 L137.0,59.03 L137.2,59.01 L137.5,59.19 L137.8,59.35 L138.0,59.20 L138.2,58.97 L138.5,59.12 L138.8,59.44 L139.0,59.37 L139.2,58.92 L139.5,58.95 L139.8,59.15 L140.0,58.85 L140.2,58.79 L140.5,59.15 L140.8,59.24 L141.0,59.10 L141.2,59.12 L141.5,59.28 L141.8,59.35 L142.0,59.30 L142.2,59.17 L142.5,58.99 L142.8,58.95 L143.0,59.14 L143.2,59.32 L143.5,59.21 L143.8,59.05 L144.0,59.20 L144.2,59.26 L144.5,59.10 L144.8,59.00 L145.0,58.87 L145.2,58.77 L145.5,58.98 L145.8,59.05 L146.0,59.00 L146.2,59.00 L146.5,58.85 L146.8,58.81 L147.0,59.11 L147.2,59.24 L147.5,59.01 L147.8,59.11 L148.0,59.32 L148.2,59.32 L148.5,59.22 L148.8,58.79 L149.0,58.65 L149.2,58.90 L149.5,58.89 L149.8,58.80 L150.0,58.92 L150.2,59.22 L150.5,59.25 L150.8,59.09 L151.0,59.17 L151.2,59.15 L151.5,59.05 L151.8,59.04 L152.0,59.09 L152.2,59.18 L152.5,59.14 L152.8,59.11 L153.0,59.15 L153.2,59.07 L153.5,59.09 L153.8,59.29 L154.0,59.31 L154.2,59.25 L154.5,59.33 L154.8,59.22 L155.0,58.98 L155.2,58.97 L155.5,59.10 L155.8,59.02 L156.0,58.76 L156.2,58.71 L156.5,58.79 L156.8,58.98 L157.0,59.30 L157.2,59.46 L157.5,59.35 L157.8,59.15 L158.0,59.01 L158.2,59.10 L158.5,59.39 L158.8,59.58 L159.0,59.37 L159.2,59.08 L159.5,58.98 L159.8,58.89 L160.0,58.84 L160.2,58.95 L160.5,59.22 L160.8,59.38 L161.0,59.32 L161.2,59.43 L161.5,59.47 L161.8,59.34 L162.0,59.38 L162.2,59.26 L162.5,59.04 L162.8,59.04 L163.0,59.03 L163.2,58.97 L163.5,58.98 L163.8,59.06 L164.0,59.03 L164.2,58.90 L164.5,58.80 L164.8,58.77 L165.0,58.98 L165.2,59.15 L165.5,59.11 L165.8,59.12 L166.0,59.07 L166.2,58.91 L166.5,58.94 L166.8,59.15 L167.0,59.25 L167.2,59.37 L167.5,59.46 L167.8,59.28 L168.0,59.26 L168.2,59.27 L168.5,58.99 L168.8,58.71 L169.0,58.70 L169.2,58.98 L169.5,59.19 L169.8,59.11 L170.0,58.97 L170.2,58.94 L170.5,58.81 L170.8,58.62 L171.0,58.78 L171.2,58.82 L171.5,58.86 L171.8,59.04 L172.0,58.75 L172.2,58.47 L172.5,58.67 L172.8,58.88 L173.0,58.86 L173.2,58.94 L173.5,59.03 L173.8,58.81 L174.0,58.56 L174.2,58.73 L174.5,58.92 L174.8,58.62 L175.0,58.49 L175.2,58.71 L175.5,58.87 L175.8,58.88 L176.0,58.74 L176.2,58.62 L176.5,58.75 L176.8,58.64 L177.0,58.47 L177.2,58.86 L177.5,58.96 L177.8,58.52 L178.0,58.46 L178.2,58.45 L178.5,57.94 L178.8,57.56 L179.0,57.59 L179.2,57.64 L179.5,57.63 L179.8,57.59 L180.0,57.23 L180.2,56.75 L180.5,56.62 L180.8,56.43 L181.0,55.79 L181.2,54.87 L181.5,53.92 L181.8,52.87 L182.0,51.69 L182.2,50.60 L182.5,49.50 L182.8,48.36 L183.0,47.05 L183.2,45.78 L183.5,45.12 L183.8,44.67 L184.0,44.21 L184.2,44.28 L184.5,44.77 L184.8,45.67 L185.0,47.11 L185.2,48.51 L185.5,49.62 L185.8,50.65 L186.0,51.73 L186.2,52.74 L186.5,53.70 L186.8,54.76 L187.0,55.65 L187.2,56.14 L187.5,56.44 L187.8,56.82 L188.0,57.34 L188.2,57.80 L188.5,57.72 L188.8,57.59 L189.0,58.08 L189.2,58.55 L189.5,58.58 L189.8,58.50 L190.0,58.26 L190.2,57.89 L190.5,57.84 L190.8,58.09 L191.0,58.41 L191.2,58.65 L191.5,58.69 L191.8,58.68 L192.0,58.73 L192.2,58.61 L192.5,58.58 L192.8,58.67 L193.0,58.35 L193.2,58.04 L193.5,58.28 L193.8,58.36 L194.0,58.15 L194.2,58.36 L194.5,58.51 L194.8,58.32 L195.0,58.30 L195.2,58.47 L195.5,58.69 L195.8,58.92 L196.0,58.73 L196.2,58.34 L196.5,58.38 L196.8,58.75 L197.0,58.84 L197.2,58.50 L197.5,58.27 L197.8,58.11 L198.0,57.64 L198.2,57.12 L198.5,56.90 L198.8,57.27 L199.0,57.71 L199.2,57.70 L199.5,57.76 L199.8,57.99 L200.0,58.37 L200.2,58.66 L200.5,58.69 L200.8,58.81 L201.0,58.90 L201.2,58.97 L201.5,59.10 L201.8,58.95 L202.0,58.64 L202.2,58.46 L202.5,58.50 L202.8,58.64 L203.0,58.87 L203.2,59.24 L203.5,59.15 L203.8,58.67 L204.0,58.62 L204.2,58.61 L204.5,58.23 L204.8,58.22 L205.0,58.33 L205.2,58.03 L205.5,57.76 L205.8,57.64 L206.0,57.43 L206.2,57.00 L206.5,56.46 L206.8,55.84 L207.0,55.19 L207.2,54.54 L207.5,53.75 L207.8,53.19 L208.0,53.15 L208.2,53.60 L208.5,54.47 L208.8,55.38 L209.0,55.89 L209.2,56.15 L209.5,56.47 L209.8,56.85 L210.0,57.11 L210.2,57.13 L210.5,57.08 L210.8,57.27 L211.0,57.24 L211.2,56.83 L211.5,56.52 L211.8,56.31 L212.0,56.15 L212.2,55.70 L212.5,55.14 L212.8,55.05 L213.0,54.81 L213.2,54.11 L213.5,53.32 L213.8,52.24 L214.0,51.16 L214.2,50.49 L214.5,49.58 L214.8,48.62 L215.0,48.02 L215.2,47.26 L215.5,46.50 L215.8,45.98 L216.0,45.56 L216.2,45.38 L216.5,45.44 L216.8,45.70 L217.0,46.26 L217.2,47.11 L217.5,47.99 L217.8,48.74 L218.0,49.37 L218.2,50.25 L218.5,51.09 L218.8,51.58 L219.0,52.55 L219.2,53.77 L219.5,54.59 L219.8,55.13 L220.0,55.58 L220.2,55.99 L220.5,56.20 L220.8,56.30 L221.0,56.60 L221.2,57.03 L221.5,57.34 L221.8,57.25 L222.0,57.01 L222.2,57.29 L222.5,57.86 L222.8,58.14 L223.0,58.11 L223.2,57.92 L223.5,58.08 L223.8,58.49 L224.0,58.61 L224.2,58.85 L224.5,58.99 L224.8,58.71 L225.0,58.54 L225.2,58.50 L225.5,58.48 L225.8,58.62 L226.0,58.76 L226.2,58.89 L226.5,59.09 L226.8,59.10 L227.0,58.93 L227.2,58.85 L227.5,58.66 L227.8,58.51 L228.0,58.53 L228.2,58.68 L228.5,59.00 L228.8,59.20 L229.0,59.15 L229.2,58.99 L229.5,58.86 L229.8,58.69 L230.0,58.67 L230.2,58.89 L230.5,58.88 L230.8,58.78 L231.0,58.76 L231.2,58.64 L231.5,58.68 L231.8,58.75 L232.0,58.68 L232.2,58.78 L232.5,59.06 L232.8,59.23 L233.0,59.22 L233.2,58.96 L233.5,58.70 L233.8,58.67 L234.0,58.76 L234.2,59.04 L234.5,59.25 L234.8,59.08 L235.0,58.86 L235.2,58.87 L235.5,58.85 L235.8,58.76 L236.0,58.90 L236.2,58.98 L236.5,58.87 L236.8,58.88 L237.0,58.91 L237.2,58.79 L237.5,58.85 L237.8,59.08 L238.0,59.25 L238.2,59.23 L238.5,58.82 L238.8,58.68 L239.0,59.10 L239.2,59.19 L239.5,58.83 L239.8,58.68 L240.0,58.72 L240.2,58.67 L240.5,58.61 L240.8,58.58 L241.0,58.59 L241.2,58.60 L241.5,58.92 L241.8,59.24 L242.0,59.17 L242.2,59.07 L242.5,58.90 L242.8,58.67 L243.0,58.77 L243.2,59.07 L243.5,59.25 L243.8,59.20 L244.0,58.94 L244.2,58.89 L244.5,59.14 L244.8,59.44 L245.0,59.41 L245.2,58.97 L245.5,58.62 L245.8,58.74 L246.0,59.10 L246.2,59.07 L246.5,58.90 L246.8,58.74 L247.0,58.42 L247.2,58.58 L247.5,59.08 L247.8,59.20 L248.0,59.01 L248.2,58.92 L248.5,59.21 L248.8,59.29 L249.0,58.98 L249.2,58.89 L249.5,58.99 L249.8,59.06 L250.0,59.06 L250.2,58.93 L250.5,58.87 L250.8,58.90 L251.0,58.92 L251.2,58.95 L251.5,59.07 L251.8,59.10 L252.0,58.97 L252.2,59.03 L252.5,59.18 L252.8,59.07 L253.0,59.05 L253.2,59.20 L253.5,59.17 L253.8,59.10 L254.0,58.98 L254.2,58.89 L254.5,59.13 L254.8,59.37 L255.0,59.13 L255.2,58.85 L255.5,58.88 L255.8,58.89 L256.0,58.94 L256.2,58.95 L256.5,58.97 L256.8,59.18 L257.0,59.23 L257.2,59.24 L257.5,59.35 L257.8,59.45 L258.0,59.25 L258.2,58.90 L258.5,58.74 L258.8,58.64 L259.0,58.85 L259.2,59.22 L259.5,59.39 L259.8,59.33 L260.0,59.13 L260.2,59.09 L260.5,59.22 L260.8,59.43 L261.0,59.42 L261.2,59.47 L261.5,59.69 L261.8,59.36 L262.0,59.05 L262.2,59.20 L262.5,59.30 L262.8,59.17 L263.0,59.13 L263.2,59.27 L263.5,59.34 L263.8,59.46 L264.0,59.33 L264.2,58.88 L264.5,58.69 L264.8,58.83 L265.0,59.03 L265.2,59.12 L265.5,59.05 L265.8,58.99 L266.0,59.19 L266.2,59.24 L266.5,58.94 L266.8,58.94 L267.0,59.08 L267.2,59.05 L267.5,59.18 L267.8,59.48 L268.0,59.53 L268.2,59.27 L268.5,59.21 L268.8,59.43 L269.0,59.28 L269.2,58.97 L269.5,58.92 L269.8,59.14 L270.0,59.42 L270.2,59.30 L270.5,58.91 L270.8,58.76 L271.0,58.92 L271.2,58.85 L271.5,58.83 L271.8,59.00 L272.0,59.05 L272.2,59.24 L272.5,59.19 L272.8,58.84 L273.0,58.75 L273.2,58.78 L273.5,59.00 L273.8,59.11 L274.0,59.07 L274.2,59.24 L274.5,59.07 L274.8,58.83 L275.0,59.02 L275.2,59.08 L275.5,58.90 L275.8,58.83 L276.0,58.94 L276.2,59.18 L276.5,59.17 L276.8,59.10 L277.0,59.10 L277.2,58.90 L277.5,59.05 L277.8,59.35 L278.0,59.33 L278.2,59.32 L278.5,59.16 L278.8,58.94 L279.0,58.97 L279.2,59.03 L279.5,58.93 L279.8,58.82 L280.0,58.73 L280.2,58.75 L280.5,58.99 L280.8,59.22 L281.0,59.08 L281.2,58.89 L281.5,59.05 L281.8,59.01 L282.0,58.83 L282.2,59.03 L282.5,59.27 L282.8,59.30 L283.0,59.33 L283.2,59.38 L283.5,59.31 L283.8,58.96 L284.0,58.63 L284.2,58.78 L284.5,59.02 L284.8,59.08 L285.0,59.22 L285.2,59.27 L285.5,59.31 L285.8,59.32 L286.0,59.14 L286.2,59.11 L286.5,59.00 L286.8,58.94 L287.0,59.05 L287.2,59.09 L287.5,59.06 L287.8,58.94 L288.0,58.90 L288.2,58.90 L288.5,58.92 L288.8,58.88 L289.0,58.89 L289.2,58.97 L289.5,58.82 L289.8,58.86 L290.0,59.22 L290.2,59.37 L290.5,59.30 L290.8,59.39 L291.0,59.39 L291.2,58.99 L291.5,58.74 L291.8,58.90 L292.0,59.16 L292.2,59.29 L292.5,59.37 L292.8,59.31 L293.0,59.04 L293.2,58.81 L293.5,59.01 L293.8,59.45 L294.0,59.48 L294.2,59.22 L294.5,59.04 L294.8,58.97 L295.0,58.95 L295.2,58.76 L295.5,58.60 L295.8,58.80 L296.0,59.01 L296.2,59.09 L296.5,59.19 L296.8,59.22 L297.0,59.20 L297.2,58.97 L297.5,58.57 L297.8,58.78 L298.0,59.15 L298.2,58.96 L298.5,58.95 L298.8,59.07 L299.0,59.02 L299.2,58.97 L299.5,58.69 L299.8,58.46 L300.0,58.49 L300.2,58.63 L300.5,58.86 L300.8,59.01 L301.0,58.97 L301.2,59.10 L301.5,59.37 L301.8,59.23 L302.0,59.05 L302.2,59.07 L302.5,58.96 L302.8,58.89 L303.0,59.05 L303.2,59.23 L303.5,59.28 L303.8,59.17 L304.0,58.90 L304.2,58.97 L304.5,59.24 L304.8,59.15 L305.0,59.09 L305.2,59.25 L305.5,59.14 L305.8,58.78 L306.0,58.68 L306.2,58.76 L306.5,58.59 L306.8,58.41 L307.0,58.37 L307.2,58.33 L307.5,58.64 L307.8,58.93 L308.0,58.75 L308.2,58.55 L308.5,58.51 L308.8,58.20 L309.0,57.79 L309.2,57.51 L309.5,57.26 L309.8,57.00 L310.0,56.33 L310.2,55.31 L310.5,54.71 L310.8,54.33 L311.0,53.82 L311.2,53.38 L311.5,53.38 L311.8,53.84 L312.0,54.41 L312.2,55.33 L312.5,56.45 L312.8,57.17 L313.0,57.54 L313.2,57.77 L313.5,57.87 L313.8,58.12 L314.0,58.47 L314.2,58.48 L314.5,58.29 L314.8,58.20 L315.0,58.39 L315.2,58.44 L315.5,58.19 L315.8,58.21 L316.0,58.36 L316.2,58.11 L316.5,57.66 L316.8,57.32 L317.0,57.15 L317.2,57.16 L317.5,57.05 L317.8,56.79 L318.0,56.56 L318.2,56.12 L318.5,55.91 L318.8,55.96 L319.0,55.79 L319.2,55.69 L319.5,55.94 L319.8,56.10 L320.0,56.12 L320.2,56.46 L320.5,56.86 L320.8,57.18 L321.0,57.49 L321.2,57.62 L321.5,57.79 L321.8,58.12 L322.0,58.36 L322.2,58.54 L322.5,58.66 L322.8,58.68 L323.0,58.74 L323.2,58.67 L323.5,58.70 L323.8,59.05 L324.0,59.32 L324.2,59.17 L324.5,59.01 L324.8,59.08 L325.0,58.93 L325.2,58.82 L325.5,58.96 L325.8,59.10 L326.0,59.09 L326.2,58.99 L326.5,59.05 L326.8,59.16 L327.0,59.09 L327.2,58.95 L327.5,58.96 L327.8,59.12 L328.0,59.16 L328.2,59.08 L328.5,59.00 L328.8,58.90 L329.0,58.85 L329.2,59.02 L329.5,59.18 L329.8,59.19 L330.0,59.22 L330.2,59.29 L330.5,59.29 L330.8,58.98 L331.0,58.78 L331.2,58.96 L331.5,58.97 L331.8,58.92 L332.0,59.10 L332.2,59.19 L332.5,59.12 L332.8,59.05 L333.0,59.08 L333.2,59.27 L333.5,59.33 L333.8,59.09 L334.0,59.03 L334.2,58.97 L334.5,58.65 L334.8,58.82 L335.0,59.15 L335.2,58.99 L335.5,58.93 L335.8,58.90 L336.0,58.68 L336.2,58.57 L336.5,58.80 L336.8,59.00 L337.0,58.94 L337.2,59.08 L337.5,59.35 L337.8,59.41 L338.0,59.27 L338.2,59.33 L338.5,59.31 L338.8,58.95 L339.0,58.89 L339.2,59.07 L339.5,58.92 L339.8,58.95 L340.0,59.28 L340.2,59.27 L340.5,59.02 L340.8,58.97 L341.0,59.13 L341.2,59.48 L341.5,59.46 L341.8,59.05 L342.0,58.82 L342.2,58.65 L342.5,58.73 L342.8,59.06 L343.0,59.34 L343.2,59.22 L343.5,58.92 L343.8,58.87 L344.0,58.95 L344.2,59.05 L344.5,59.12 L344.8,59.31 L345.0,59.47 L345.2,59.23 L345.5,58.78 L345.8,58.62 L346.0,58.89 L346.2,59.17 L346.5,59.05 L346.8,58.94 L347.0,58.92 L347.2,58.74 L347.5,58.80 L347.8,59.04 L348.0,59.03 L348.2,59.00 L348.5,59.04 L348.8,58.94 L349.0,58.87 L349.2,58.99 L349.5,59.15 L349.8,59.04 L350.0,58.85 L350.2,58.98 L350.5,59.33 L350.8,59.36 L351.0,59.07 L351.2,59.01 L351.5,59.13 L351.8,59.24 L352.0,59.36 L352.2,59.42 L352.5,59.25 L352.8,58.98 L353.0,58.97 L353.2,59.14 L353.5,59.39 L353.8,59.68 L354.0,59.48 L354.2,59.05 L354.5,58.92 L354.8,58.73 L355.0,58.73 L355.2,59.11 L355.5,59.15 L355.8,59.08 L356.0,59.19 L356.2,58.94 L356.5,58.84 L356.8,59.10 L357.0,59.15 L357.2,59.06 L357.5,59.06 L357.8,59.09 L358.0,59.05 L358.2,58.86 L358.5,58.60 L358.8,58.72 L359.0,58.99 L359.2,59.04 L359.5,59.21 L359.8,59.30 L360.0,59.14 L360.2,59.26 L360.5,59.51 L360.8,59.53 L361.0,59.58 L361.2,59.56 L361.5,59.31 L361.8,59.03 L362.0,58.80 L362.2,58.83 L362.5,59.08 L362.8,59.16 L363.0,59.13 L363.2,59.13 L363.5,59.11 L363.8,59.18 L364.0,59.14 L364.2,59.03 L364.5,59.02 L364.8,59.23 L365.0,59.31 L365.2,58.97 L365.5,59.01 L365.8,59.30 L366.0,59.21 L366.2,59.15 L366.5,59.17 L366.8,58.82 L367.0,58.69 L367.2,58.80 L367.5,58.52 L367.8,58.45 L368.0,58.90 L368.2,59.14 L368.5,58.98 L368.8,58.76 L369.0,58.60 L369.2,58.58 L369.5,58.72 L369.8,58.56 L370.0,57.94 L370.2,57.33 L370.5,57.18 L370.8,56.99 L371.0,56.41 L371.2,55.72 L371.5,55.10 L371.8,54.87 L372.0,55.07 L372.2,55.43 L372.5,55.82 L372.8,56.44 L373.0,57.03 L373.2,57.29 L373.5,57.60 L373.8,58.07 L374.0,58.59 L374.2,58.96 L374.5,59.04 L374.8,58.84 L375.0,58.78 L375.2,59.11 L375.5,59.11 L375.8,58.90 L376.0,58.85 L376.2,58.88 L376.5,58.98 L376.8,58.97 L377.0,58.66 L377.2,58.43 L377.5,58.73 L377.8,59.05 L378.0,59.04 L378.2,58.97 L378.5,59.06 L378.8,59.08 L379.0,59.02 L379.2,58.91 L379.5,58.51 L379.8,58.33 L380.0,58.26 L380.2,58.07 L380.5,58.27 L380.8,58.63 L381.0,58.50 L381.2,58.15 L381.5,57.84 L381.8,57.23 L382.0,56.57 L382.2,56.13 L382.5,55.81 L382.8,55.49 L383.0,55.37 L383.2,55.69 L383.5,56.15 L383.8,56.50 L384.0,56.77 L384.2,57.24 L384.5,57.88 L384.8,58.19 L385.0,58.38 L385.2,58.77 L385.5,58.86 L385.8,58.82 L386.0,59.00 L386.2,59.09 L386.5,59.31 L386.8,59.50 L387.0,59.23 L387.2,58.89 L387.5,58.90 L387.8,59.07 L388.0,59.01 L388.2,58.81 L388.5,58.87 L388.8,59.27 L389.0,59.25 L389.2,58.83 L389.5,58.90 L389.8,59.12 L390.0,59.23 L390.2,59.26 L390.5,59.03 L390.8,58.74 L391.0,58.54 L391.2,58.70 L391.5,59.08 L391.8,59.07 L392.0,58.91 L392.2,58.84 L392.5,58.82 L392.8,59.11 L393.0,59.41 L393.2,59.24 L393.5,59.00 L393.8,59.09 L394.0,58.88 L394.2,58.55 L394.5,58.59 L394.8,58.78 L395.0,58.89 L395.2,58.75 L395.5,58.68 L395.8,59.05 L396.0,59.32 L396.2,59.15 L396.5,59.09 L396.8,59.35 L397.0,59.37 L397.2,59.06 L397.5,58.98 L397.8,58.89 L398.0,58.84 L398.2,59.28 L398.5,59.55 L398.8,59.05 L399.0,58.78 L399.2,59.05 L399.5,59.01 L399.8,58.95 L400.0,59.05 L400.2,59.07 L400.5,59.07 L400.8,59.13 L401.0,59.23 L401.2,59.21 L401.5,59.00 L401.8,58.80 L402.0,58.86 L402.2,59.07 L402.5,59.16 L402.8,59.20 L403.0,59.35 L403.2,59.42 L403.5,59.31 L403.8,59.10 L404.0,58.82 L404.2,58.73 L404.5,58.80 L404.8,58.87 L405.0,58.95 L405.2,58.88 L405.5,58.73 L405.8,58.52 L406.0,58.61 L406.2,58.86 L406.5,58.81 L406.8,58.71 L407.0,58.98 L407.2,59.27 L407.5,59.17 L407.8,58.92 L408.0,58.76 L408.2,58.81 L408.5,59.15 L408.8,59.27 L409.0,58.88 L409.2,58.66 L409.5,58.93 L409.8,58.87 L410.0,58.54 L410.2,58.90 L410.5,59.37 L410.8,59.26 L411.0,59.05 L411.2,59.02 L411.5,58.91 L411.8,58.57 L412.0,58.46 L412.2,58.53 L412.5,58.47 L412.8,58.27 L413.0,58.13 L413.2,58.33 L413.5,58.42 L413.8,58.21 L414.0,58.21 L414.2,58.16 L414.5,57.76 L414.8,57.49 L415.0,57.49 L415.2,57.53 L415.5,57.58 L415.8,57.68 L416.0,57.63 L416.2,57.48 L416.5,57.71 L416.8,58.15 L417.0,58.24 L417.2,58.21 L417.5,58.32 L417.8,58.48 L418.0,58.67 L418.2,58.68 L418.5,58.51 L418.8,58.40 L419.0,58.37 L419.2,58.60 L419.5,58.89 L419.8,58.65 L420.0,58.39 L420.2,58.52 L420.5,58.76 L420.8,58.87 L421.0,58.89 L421.2,59.03 L421.5,59.22 L421.8,59.45 L422.0,59.75 L422.2,59.83 L422.5,59.41 L422.8,58.90 L423.0,58.88 L423.2,59.22 L423.5,59.48 L423.8,59.44 L424.0,59.30 L424.2,59.17 L424.5,59.20 L424.8,59.18 L425.0,59.10 L425.2,59.24 L425.5,59.29 L425.8,59.21 L426.0,59.36 L426.2,59.44 L426.5,59.21 L426.8,59.03 L427.0,58.95 L427.2,58.93 L427.5,58.99 L427.8,58.97 L428.0,58.90 L428.2,58.76 L428.5,58.64 L428.8,58.79 L429.0,58.93 L429.2,58.82 L429.5,58.99 L429.8,59.39 L430.0,59.34 L430.2,59.09 L430.5,59.05 L430.8,59.14 L431.0,59.24 L431.2,59.11 L431.5,59.15 L431.8,59.24 L432.0,59.15 L432.2,59.14 L432.5,59.05 L432.8,59.00 L433.0,59.02 L433.2,59.03 L433.5,59.07 L433.8,58.97 L434.0,58.95 L434.2,59.18 L434.5,59.37 L434.8,59.47 L435.0,59.29 L435.2,59.05 L435.5,59.27 L435.8,59.35 L436.0,59.16 L436.2,59.31 L436.5,59.35 L436.8,58.96 L437.0,58.72 L437.2,59.10 L437.5,59.52 L437.8,59.22 L438.0,58.82 L438.2,58.80 L438.5,58.80 L438.8,58.88 L439.0,58.78 L439.2,58.61 L439.5,58.99 L439.8,59.28 L440.0,59.07 L440.2,59.02 L440.5,59.06 L440.8,58.77 L441.0,58.54 L441.2,58.62 L441.5,58.87 L441.8,59.03 L442.0,59.04 L442.2,59.12 L442.5,59.19 L442.8,59.02 L443.0,58.80 L443.2,58.89 L443.5,58.98 L443.8,58.75 L444.0,58.64 L444.2,58.66 L444.5,58.56 L444.8,58.34 L445.0,58.50 L445.2,58.94 L445.5,58.77 L445.8,58.30 L446.0,58.22 L446.2,58.20 L446.5,58.04 L446.8,57.87 L447.0,57.62 L447.2,57.43 L447.5,57.33 L447.8,56.97 L448.0,56.68 L448.2,56.85 L448.5,57.04 L448.8,56.92 L449.0,56.78 L449.2,56.89 L449.5,56.87 L449.8,56.55 L450.0,56.64 L450.2,57.08 L450.5,57.37 L450.8,57.83 L451.0,58.11 L451.2,57.86 L451.5,57.80 L451.8,58.10 L452.0,58.24 L452.2,58.30 L452.5,58.63 L452.8,58.85 L453.0,58.74 L453.2,58.69 L453.5,58.89 L453.8,58.88 L454.0,58.84 L454.2,59.05 L454.5,59.01 L454.8,58.86 L455.0,58.86 L455.2,59.02 L455.5,59.07 L455.8,58.72 L456.0,58.51 L456.2,58.58 L456.5,58.58 L456.8,58.65 L457.0,58.81 L457.2,58.98 L457.5,59.01 L457.8,58.82 L458.0,58.74 L458.2,58.82 L458.5,59.11 L458.8,59.19 L459.0,58.91 L459.2,58.63 L459.5,58.11 L459.8,57.58 L460.0,57.33 L460.2,57.18 L460.5,57.17 L460.8,57.37 L461.0,57.60 L461.2,57.66 L461.5,57.61 L461.8,57.56 L462.0,57.68 L462.2,57.99 L462.5,58.26 L462.8,58.47 L463.0,58.60 L463.2,58.48 L463.5,58.28 L463.8,58.36 L464.0,58.76 L464.2,59.09 L464.5,59.06 L464.8,59.16 L465.0,59.32 L465.2,59.14 L465.5,58.93 L465.8,58.83 L466.0,58.83 L466.2,59.08 L466.5,59.30 L466.8,59.30 L467.0,59.28 L467.2,59.41 L467.5,59.40 L467.8,59.12 L468.0,59.08 L468.2,59.30 L468.5,59.12 L468.8,58.69 L469.0,58.73 L469.2,58.88 L469.5,58.93 L469.8,59.14 L470.0,59.14 L470.2,58.87 L470.5,58.63 L470.8,58.60 L471.0,58.82 L471.2,58.95 L471.5,58.71 L471.8,58.47 L472.0,58.58 L472.2,58.99 L472.5,59.54 L472.8,59.62 L473.0,59.29 L473.2,59.32 L473.5,59.52 L473.8,59.42 L474.0,59.06 L474.2,58.80 L474.5,58.71 L474.8,58.73 L475.0,59.03 L475.2,59.07 L475.5,58.81 L475.8,58.93 L476.0,59.24 L476.2,59.45 L476.5,59.51 L476.8,59.28 L477.0,59.00 L477.2,59.06 L477.5,59.21 L477.8,59.08 L478.0,59.16 L478.2,59.37 L478.5,59.12 L478.8,58.83 L479.0,58.97 L479.2,59.16 L479.5,59.21 L479.8,59.39 L480.0,59.36 L480.2,59.04 L480.5,58.93 L480.8,58.92 L481.0,58.90 L481.2,59.03 L481.5,59.16 L481.8,59.16 L482.0,58.97 L482.2,59.04 L482.5,59.26 L482.8,59.04 L483.0,58.91" fill="none" stroke="#2f6b17" stroke-width="3.3" stroke-linejoin="round" stroke-linecap="butt"/>
<path d="M46.5,149.07 L46.8,148.98 L47.0,148.78 L47.2,148.80 L47.5,149.27 L47.8,149.38 L48.0,149.18 L48.2,149.20 L48.5,149.14 L48.8,149.09 L49.0,149.17 L49.2,149.08 L49.5,148.94 L49.8,148.96 L50.0,149.08 L50.2,149.14 L50.5,149.11 L50.8,149.03 L51.0,148.98 L51.2,149.01 L51.5,149.15 L51.8,149.20 L52.0,149.18 L52.2,149.09 L52.5,149.01 L52.8,149.28 L53.0,149.33 L53.2,148.84 L53.5,148.54 L53.8,148.76 L54.0,149.10 L54.2,149.25 L54.5,149.31 L54.8,149.29 L55.0,149.18 L55.2,149.12 L55.5,149.13 L55.8,149.10 L56.0,148.92 L56.2,148.93 L56.5,149.21 L56.8,149.31 L57.0,149.00 L57.2,148.78 L57.5,148.96 L57.8,149.15 L58.0,149.21 L58.2,149.10 L58.5,148.96 L58.8,149.17 L59.0,149.20 L59.2,148.92 L59.5,149.06 L59.8,149.27 L60.0,149.24 L60.2,149.41 L60.5,149.53 L60.8,149.26 L61.0,148.96 L61.2,148.95 L61.5,149.07 L61.8,149.05 L62.0,148.99 L62.2,149.06 L62.5,149.05 L62.8,148.80 L63.0,148.51 L63.2,148.62 L63.5,149.04 L63.8,149.26 L64.0,149.28 L64.2,149.09 L64.5,148.94 L64.8,149.03 L65.0,148.94 L65.2,148.74 L65.5,148.91 L65.8,149.25 L66.0,149.24 L66.2,149.08 L66.5,148.93 L66.8,148.94 L67.0,149.07 L67.2,148.98 L67.5,148.84 L67.8,148.83 L68.0,148.83 L68.2,149.02 L68.5,149.09 L68.8,149.03 L69.0,149.06 L69.2,148.96 L69.5,148.84 L69.8,148.79 L70.0,148.82 L70.2,148.87 L70.5,148.78 L70.8,148.69 L71.0,148.65 L71.2,148.56 L71.5,148.52 L71.8,148.70 L72.0,148.94 L72.2,149.03 L72.5,149.16 L72.8,149.23 L73.0,148.95 L73.2,148.81 L73.5,148.86 L73.8,148.70 L74.0,148.60 L74.2,148.52 L74.5,148.34 L74.8,148.24 L75.0,148.36 L75.2,148.28 L75.5,148.19 L75.8,148.37 L76.0,148.25 L76.2,147.85 L76.5,147.54 L76.8,147.35 L77.0,147.17 L77.2,146.95 L77.5,146.44 L77.8,145.57 L78.0,144.50 L78.2,142.82 L78.5,139.71 L78.8,134.09 L79.0,124.36 L79.2,109.66 L79.5,91.46 L79.8,76.28 L80.0,74.57 L80.2,87.83 L80.5,106.24 L80.8,121.97 L81.0,132.69 L81.2,138.96 L81.5,142.40 L81.8,144.37 L82.0,145.48 L82.2,146.10 L82.5,146.53 L82.8,146.99 L83.0,147.42 L83.2,147.80 L83.5,147.99 L83.8,148.00 L84.0,147.99 L84.2,148.09 L84.5,148.15 L84.8,148.23 L85.0,148.38 L85.2,148.47 L85.5,148.63 L85.8,148.79 L86.0,148.79 L86.2,148.60 L86.5,148.41 L86.8,148.48 L87.0,148.49 L87.2,148.48 L87.5,148.73 L87.8,148.82 L88.0,148.85 L88.2,149.03 L88.5,149.06 L88.8,148.88 L89.0,148.77 L89.2,148.90 L89.5,148.92 L89.8,148.89 L90.0,149.06 L90.2,148.94 L90.5,148.68 L90.8,148.71 L91.0,148.85 L91.2,149.11 L91.5,149.10 L91.8,148.79 L92.0,148.76 L92.2,148.91 L92.5,149.08 L92.8,149.27 L93.0,149.21 L93.2,149.06 L93.5,148.91 L93.8,148.75 L94.0,148.96 L94.2,149.16 L94.5,149.00 L94.8,148.93 L95.0,149.21 L95.2,149.40 L95.5,149.12 L95.8,148.98 L96.0,149.02 L96.2,148.89 L96.5,148.92 L96.8,149.06 L97.0,149.07 L97.2,149.08 L97.5,149.21 L97.8,149.06 L98.0,148.63 L98.2,148.56 L98.5,148.94 L98.8,149.24 L99.0,149.18 L99.2,149.05 L99.5,149.08 L99.8,149.18 L100.0,149.19 L100.2,149.05 L100.5,149.01 L100.8,149.27 L101.0,149.26 L101.2,149.14 L101.5,149.38 L101.8,149.32 L102.0,148.89 L102.2,148.77 L102.5,149.06 L102.8,149.16 L103.0,148.87 L103.2,148.82 L103.5,149.05 L103.8,149.02 L104.0,149.17 L104.2,149.65 L104.5,149.71 L104.8,149.35 L105.0,149.12 L105.2,148.95 L105.5,148.76 L105.8,148.84 L106.0,148.85 L106.2,148.68 L106.5,148.76 L106.8,149.03 L107.0,149.14 L107.2,149.17 L107.5,149.15 L107.8,148.90 L108.0,148.66 L108.2,148.66 L108.5,148.94 L108.8,149.16 L109.0,149.16 L109.2,149.07 L109.5,148.90 L109.8,148.84 L110.0,148.81 L110.2,148.96 L110.5,149.34 L110.8,149.30 L111.0,148.96 L111.2,148.89 L111.5,148.89 L111.8,148.88 L112.0,148.93 L112.2,148.87 L112.5,148.83 L112.8,148.84 L113.0,148.81 L113.2,148.70 L113.5,148.64 L113.8,148.74 L114.0,148.87 L114.2,148.98 L114.5,149.19 L114.8,149.39 L115.0,149.31 L115.2,149.16 L115.5,149.12 L115.8,149.14 L116.0,149.30 L116.2,149.17 L116.5,148.97 L116.8,149.16 L117.0,149.06 L117.2,148.66 L117.5,148.71 L117.8,148.79 L118.0,148.65 L118.2,148.68 L118.5,148.88 L118.8,149.11 L119.0,149.38 L119.2,149.49 L119.5,149.32 L119.8,149.24 L120.0,149.21 L120.2,149.04 L120.5,148.76 L120.8,148.62 L121.0,148.87 L121.2,149.27 L121.5,149.44 L121.8,149.34 L122.0,149.14 L122.2,149.11 L122.5,149.37 L122.8,149.38 L123.0,149.10 L123.2,148.95 L123.5,149.04 L123.8,149.27 L124.0,149.26 L124.2,149.13 L124.5,149.17 L124.8,149.15 L125.0,148.95 L125.2,148.75 L125.5,148.64 L125.8,148.74 L126.0,149.19 L126.2,149.34 L126.5,149.00 L126.8,149.00 L127.0,149.08 L127.2,148.97 L127.5,148.95 L127.8,149.02 L128.0,149.14 L128.2,149.09 L128.5,149.11 L128.8,149.16 L129.0,148.92 L129.2,148.72 L129.5,148.91 L129.8,149.15 L130.0,149.15 L130.2,149.03 L130.5,148.94 L130.8,149.08 L131.0,149.21 L131.2,149.30 L131.5,149.37 L131.8,149.12 L132.0,148.77 L132.2,148.83 L132.5,149.13 L132.8,149.25 L133.0,149.28 L133.2,149.37 L133.5,149.48 L133.8,149.38 L134.0,149.14 L134.2,149.18 L134.5,149.18 L134.8,149.09 L135.0,149.31 L135.2,149.47 L135.5,149.32 L135.8,149.15 L136.0,149.02 L136.2,148.93 L136.5,148.95 L136.8,149.00 L137.0,149.01 L137.2,149.03 L137.5,149.18 L137.8,149.19 L138.0,149.04 L138.2,148.96 L138.5,148.66 L138.8,148.57 L139.0,148.89 L139.2,149.11 L139.5,149.02 L139.8,148.85 L140.0,148.95 L140.2,149.20 L140.5,149.28 L140.8,149.21 L141.0,149.08 L141.2,148.95 L141.5,148.93 L141.8,149.05 L142.0,149.08 L142.2,148.91 L142.5,148.91 L142.8,149.25 L143.0,149.44 L143.2,149.31 L143.5,149.13 L143.8,149.13 L144.0,149.27 L144.2,149.39 L144.5,149.42 L144.8,149.19 L145.0,148.91 L145.2,148.83 L145.5,148.77 L145.8,148.90 L146.0,149.24 L146.2,149.21 L146.5,149.08 L146.8,149.28 L147.0,149.18 L147.2,148.97 L147.5,149.05 L147.8,149.03 L148.0,148.79 L148.2,148.70 L148.5,148.95 L148.8,148.92 L149.0,148.73 L149.2,149.01 L149.5,149.18 L149.8,149.06 L150.0,149.03 L150.2,148.97 L150.5,148.89 L150.8,149.06 L151.0,149.14 L151.2,148.97 L151.5,149.01 L151.8,149.06 L152.0,148.94 L152.2,148.83 L152.5,148.74 L152.8,148.82 L153.0,149.03 L153.2,149.05 L153.5,149.20 L153.8,149.44 L154.0,149.23 L154.2,149.02 L154.5,149.01 L154.8,149.09 L155.0,149.20 L155.2,149.20 L155.5,149.33 L155.8,149.27 L156.0,149.07 L156.2,149.09 L156.5,149.26 L156.8,149.42 L157.0,149.14 L157.2,148.73 L157.5,148.58 L157.8,148.65 L158.0,148.78 L158.2,148.76 L158.5,148.73 L158.8,148.83 L159.0,149.09 L159.2,149.14 L159.5,148.86 L159.8,148.76 L160.0,148.74 L160.2,148.63 L160.5,148.66 L160.8,148.86 L161.0,149.08 L161.2,149.03 L161.5,149.00 L161.8,149.13 L162.0,149.13 L162.2,149.07 L162.5,149.02 L162.8,148.99 L163.0,149.12 L163.2,149.14 L163.5,148.92 L163.8,148.94 L164.0,149.19 L164.2,149.42 L164.5,149.48 L164.8,149.25 L165.0,149.09 L165.2,149.05 L165.5,149.11 L165.8,149.12 L166.0,148.96 L166.2,148.96 L166.5,149.05 L166.8,149.10 L167.0,149.21 L167.2,149.30 L167.5,149.26 L167.8,149.10 L168.0,148.89 L168.2,148.75 L168.5,148.76 L168.8,148.92 L169.0,149.04 L169.2,148.90 L169.5,148.82 L169.8,148.93 L170.0,148.86 L170.2,148.79 L170.5,148.93 L170.8,148.85 L171.0,148.54 L171.2,148.62 L171.5,148.88 L171.8,148.85 L172.0,148.75 L172.2,148.91 L172.5,149.09 L172.8,149.04 L173.0,149.08 L173.2,149.08 L173.5,148.95 L173.8,148.92 L174.0,148.83 L174.2,148.68 L174.5,148.74 L174.8,148.90 L175.0,148.84 L175.2,148.65 L175.5,148.77 L175.8,149.10 L176.0,149.08 L176.2,148.79 L176.5,148.55 L176.8,148.49 L177.0,148.70 L177.2,148.68 L177.5,148.59 L177.8,148.80 L178.0,148.77 L178.2,148.45 L178.5,148.33 L178.8,148.37 L179.0,148.37 L179.2,148.14 L179.5,148.00 L179.8,148.13 L180.0,148.07 L180.2,147.89 L180.5,147.55 L180.8,147.00 L181.0,146.57 L181.2,146.19 L181.5,145.58 L181.8,144.77 L182.0,144.00 L182.2,143.28 L182.5,142.49 L182.8,141.63 L183.0,140.94 L183.2,140.54 L183.5,140.21 L183.8,140.08 L184.0,140.29 L184.2,140.80 L184.5,141.41 L184.8,141.74 L185.0,142.16 L185.2,142.94 L185.5,143.75 L185.8,144.46 L186.0,145.02 L186.2,145.53 L186.5,146.07 L186.8,146.42 L187.0,146.70 L187.2,147.16 L187.5,147.72 L187.8,148.06 L188.0,148.08 L188.2,148.16 L188.5,148.41 L188.8,148.65 L189.0,148.80 L189.2,148.73 L189.5,148.70 L189.8,148.92 L190.0,148.93 L190.2,148.70 L190.5,148.51 L190.8,148.39 L191.0,148.43 L191.2,148.52 L191.5,148.57 L191.8,148.62 L192.0,148.66 L192.2,148.75 L192.5,148.83 L192.8,148.77 L193.0,148.57 L193.2,148.59 L193.5,148.94 L193.8,149.02 L194.0,148.80 L194.2,148.64 L194.5,148.36 L194.8,148.27 L195.0,148.59 L195.2,148.73 L195.5,148.42 L195.8,148.36 L196.0,148.37 L196.2,148.03 L196.5,147.90 L196.8,147.70 L197.0,147.19 L197.2,146.90 L197.5,146.45 L197.8,145.53 L198.0,144.83 L198.2,144.48 L198.5,144.22 L198.8,144.45 L199.0,145.14 L199.2,145.52 L199.5,145.75 L199.8,146.40 L200.0,147.15 L200.2,147.49 L200.5,147.62 L200.8,147.95 L201.0,148.28 L201.2,148.44 L201.5,148.34 L201.8,148.32 L202.0,148.62 L202.2,148.78 L202.5,148.99 L202.8,149.03 L203.0,148.52 L203.2,148.24 L203.5,148.36 L203.8,148.29 L204.0,148.04 L204.2,148.06 L204.5,148.16 L204.8,147.79 L205.0,147.29 L205.2,146.91 L205.5,146.32 L205.8,145.35 L206.0,143.67 L206.2,141.32 L206.5,138.48 L206.8,135.23 L207.0,132.48 L207.2,131.04 L207.5,131.44 L207.8,133.78 L208.0,137.15 L208.2,140.36 L208.5,142.84 L208.8,144.64 L209.0,145.88 L209.2,146.69 L209.5,147.08 L209.8,147.12 L210.0,147.19 L210.2,147.24 L210.5,147.18 L210.8,147.17 L211.0,147.08 L211.2,146.74 L211.5,146.28 L211.8,146.01 L212.0,145.85 L212.2,145.19 L212.5,144.17 L212.8,143.52 L213.0,143.12 L213.2,142.28 L213.5,141.17 L213.8,140.07 L214.0,138.92 L214.2,138.17 L214.5,137.50 L214.8,136.73 L215.0,136.57 L215.2,136.97 L215.5,137.33 L215.8,137.71 L216.0,138.57 L216.2,139.57 L216.5,140.22 L216.8,140.98 L217.0,142.03 L217.2,143.12 L217.5,144.11 L217.8,144.74 L218.0,145.42 L218.2,146.20 L218.5,146.57 L218.8,146.92 L219.0,147.39 L219.2,147.66 L219.5,147.83 L219.8,147.98 L220.0,147.95 L220.2,147.90 L220.5,148.09 L220.8,148.27 L221.0,148.37 L221.2,148.41 L221.5,148.52 L221.8,148.83 L222.0,148.76 L222.2,148.39 L222.5,148.41 L222.8,148.35 L223.0,148.25 L223.2,148.52 L223.5,148.64 L223.8,148.59 L224.0,148.72 L224.2,149.01 L224.5,149.11 L224.8,149.01 L225.0,148.95 L225.2,148.89 L225.5,148.80 L225.8,148.75 L226.0,148.76 L226.2,148.80 L226.5,148.95 L226.8,149.08 L227.0,149.11 L227.2,149.34 L227.5,149.27 L227.8,148.80 L228.0,148.72 L228.2,148.81 L228.5,148.71 L228.8,148.69 L229.0,148.83 L229.2,148.87 L229.5,148.82 L229.8,148.82 L230.0,148.66 L230.2,148.63 L230.5,148.93 L230.8,148.94 L231.0,148.83 L231.2,148.90 L231.5,148.73 L231.8,148.66 L232.0,148.83 L232.2,148.78 L232.5,148.84 L232.8,149.11 L233.0,149.32 L233.2,149.32 L233.5,149.07 L233.8,148.87 L234.0,148.97 L234.2,149.30 L234.5,149.43 L234.8,149.20 L235.0,149.04 L235.2,149.10 L235.5,149.01 L235.8,148.91 L236.0,148.99 L236.2,149.12 L236.5,149.20 L236.8,149.31 L237.0,149.36 L237.2,149.03 L237.5,148.57 L237.8,148.59 L238.0,148.92 L238.2,149.21 L238.5,149.38 L238.8,149.19 L239.0,149.09 L239.2,149.26 L239.5,149.27 L239.8,149.13 L240.0,149.01 L240.2,148.83 L240.5,148.90 L240.8,149.06 L241.0,148.99 L241.2,149.14 L241.5,149.29 L241.8,149.30 L242.0,149.30 L242.2,149.04 L242.5,148.67 L242.8,148.67 L243.0,148.95 L243.2,149.06 L243.5,148.89 L243.8,148.82 L244.0,149.05 L244.2,149.12 L244.5,148.82 L244.8,148.78 L245.0,148.88 L245.2,148.80 L245.5,148.91 L245.8,148.89 L246.0,148.74 L246.2,148.79 L246.5,148.88 L246.8,149.04 L247.0,149.25 L247.2,149.33 L247.5,149.19 L247.8,149.03 L248.0,148.98 L248.2,149.10 L248.5,149.08 L248.8,148.89 L249.0,148.97 L249.2,149.04 L249.5,149.06 L249.8,149.19 L250.0,149.25 L250.2,149.14 L250.5,149.05 L250.8,149.09 L251.0,149.08 L251.2,149.05 L251.5,149.15 L251.8,149.24 L252.0,149.17 L252.2,149.00 L252.5,148.87 L252.8,148.80 L253.0,148.82 L253.2,148.96 L253.5,149.08 L253.8,149.44 L254.0,149.62 L254.2,149.35 L254.5,149.28 L254.8,149.20 L255.0,148.95 L255.2,148.94 L255.5,149.21 L255.8,149.37 L256.0,149.12 L256.2,148.78 L256.5,148.77 L256.8,149.06 L257.0,149.29 L257.2,149.25 L257.5,149.25 L257.8,149.28 L258.0,149.13 L258.2,149.03 L258.5,148.90 L258.8,148.81 L259.0,149.04 L259.2,149.26 L259.5,149.17 L259.8,148.90 L260.0,148.92 L260.2,149.19 L260.5,149.31 L260.8,149.25 L261.0,149.06 L261.2,148.98 L261.5,149.01 L261.8,149.03 L262.0,149.07 L262.2,149.21 L262.5,149.35 L262.8,149.13 L263.0,148.92 L263.2,149.12 L263.5,149.14 L263.8,148.87 L264.0,148.85 L264.2,149.05 L264.5,149.13 L264.8,148.92 L265.0,148.80 L265.2,149.01 L265.5,149.32 L265.8,149.38 L266.0,149.27 L266.2,149.52 L266.5,149.58 L266.8,149.40 L267.0,149.38 L267.2,149.30 L267.5,149.18 L267.8,149.05 L268.0,148.95 L268.2,148.80 L268.5,148.72 L268.8,148.86 L269.0,149.00 L269.2,149.22 L269.5,149.31 L269.8,149.16 L270.0,149.09 L270.2,148.98 L270.5,148.85 L270.8,148.99 L271.0,149.10 L271.2,148.98 L271.5,148.74 L271.8,148.65 L272.0,148.90 L272.2,149.22 L272.5,149.41 L272.8,149.48 L273.0,149.43 L273.2,149.35 L273.5,149.28 L273.8,149.19 L274.0,149.24 L274.2,149.49 L274.5,149.60 L274.8,149.23 L275.0,149.00 L275.2,149.13 L275.5,149.06 L275.8,148.98 L276.0,148.95 L276.2,149.02 L276.5,149.27 L276.8,149.23 L277.0,149.03 L277.2,149.00 L277.5,149.06 L277.8,149.11 L278.0,149.00 L278.2,148.87 L278.5,148.88 L278.8,148.98 L279.0,149.01 L279.2,148.95 L279.5,149.02 L279.8,149.33 L280.0,149.55 L280.2,149.16 L280.5,148.63 L280.8,148.72 L281.0,149.00 L281.2,149.22 L281.5,149.41 L281.8,149.14 L282.0,148.79 L282.2,148.95 L282.5,149.15 L282.8,149.26 L283.0,149.24 L283.2,149.10 L283.5,149.03 L283.8,148.90 L284.0,148.98 L284.2,149.32 L284.5,149.41 L284.8,149.01 L285.0,148.80 L285.2,148.99 L285.5,149.15 L285.8,149.21 L286.0,149.01 L286.2,148.97 L286.5,149.21 L286.8,149.26 L287.0,149.12 L287.2,149.05 L287.5,149.17 L287.8,149.17 L288.0,149.07 L288.2,148.85 L288.5,148.72 L288.8,148.92 L289.0,149.20 L289.2,149.36 L289.5,149.31 L289.8,149.26 L290.0,149.48 L290.2,149.55 L290.5,149.28 L290.8,149.19 L291.0,149.16 L291.2,149.05 L291.5,149.09 L291.8,149.10 L292.0,148.85 L292.2,148.73 L292.5,148.83 L292.8,148.91 L293.0,149.15 L293.2,149.20 L293.5,149.07 L293.8,149.07 L294.0,149.01 L294.2,148.99 L294.5,149.20 L294.8,149.35 L295.0,149.13 L295.2,148.83 L295.5,148.92 L295.8,149.03 L296.0,148.84 L296.2,148.80 L296.5,148.75 L296.8,148.58 L297.0,148.85 L297.2,149.18 L297.5,149.08 L297.8,148.96 L298.0,149.11 L298.2,149.33 L298.5,149.33 L298.8,149.03 L299.0,148.90 L299.2,148.98 L299.5,149.00 L299.8,149.01 L300.0,148.94 L300.2,148.76 L300.5,148.64 L300.8,148.67 L301.0,148.64 L301.2,148.66 L301.5,148.85 L301.8,149.08 L302.0,149.06 L302.2,148.89 L302.5,148.98 L302.8,149.09 L303.0,148.86 L303.2,148.49 L303.5,148.50 L303.8,148.93 L304.0,149.12 L304.2,148.91 L304.5,148.83 L304.8,149.09 L305.0,149.13 L305.2,148.88 L305.5,148.59 L305.8,148.48 L306.0,148.56 L306.2,148.54 L306.5,148.68 L306.8,148.78 L307.0,148.74 L307.2,148.71 L307.5,148.51 L307.8,148.43 L308.0,148.37 L308.2,148.09 L308.5,147.87 L308.8,147.74 L309.0,147.26 L309.2,146.39 L309.5,145.11 L309.8,143.16 L310.0,139.88 L310.2,134.69 L310.5,128.19 L310.8,121.77 L311.0,117.61 L311.2,118.14 L311.5,123.09 L311.8,129.53 L312.0,135.32 L312.2,139.94 L312.5,143.25 L312.8,145.19 L313.0,146.29 L313.2,147.11 L313.5,147.58 L313.8,147.85 L314.0,148.03 L314.2,148.15 L314.5,148.27 L314.8,148.24 L315.0,148.35 L315.2,148.45 L315.5,148.37 L315.8,148.26 L316.0,148.00 L316.2,147.89 L316.5,147.97 L316.8,148.00 L317.0,148.02 L317.2,147.97 L317.5,147.86 L317.8,147.71 L318.0,147.51 L318.2,147.31 L318.5,147.10 L318.8,147.16 L319.0,147.20 L319.2,146.91 L319.5,147.00 L319.8,147.35 L320.0,147.55 L320.2,147.74 L320.5,147.70 L320.8,147.57 L321.0,147.65 L321.2,147.90 L321.5,148.37 L321.8,148.61 L322.0,148.53 L322.2,148.56 L322.5,148.48 L322.8,148.39 L323.0,148.43 L323.2,148.45 L323.5,148.62 L323.8,148.90 L324.0,149.11 L324.2,149.13 L324.5,148.98 L324.8,148.97 L325.0,149.06 L325.2,148.84 L325.5,148.48 L325.8,148.67 L326.0,148.94 L326.2,148.87 L326.5,148.99 L326.8,148.98 L327.0,148.73 L327.2,148.82 L327.5,149.01 L327.8,148.89 L328.0,148.78 L328.2,148.89 L328.5,149.01 L328.8,149.13 L329.0,149.10 L329.2,148.97 L329.5,148.94 L329.8,148.86 L330.0,148.72 L330.2,148.69 L330.5,148.92 L330.8,149.14 L331.0,149.10 L331.2,148.97 L331.5,148.87 L331.8,148.94 L332.0,148.98 L332.2,149.00 L332.5,149.22 L332.8,149.35 L333.0,149.46 L333.2,149.35 L333.5,149.11 L333.8,149.13 L334.0,149.16 L334.2,149.18 L334.5,149.14 L334.8,148.95 L335.0,148.85 L335.2,148.80 L335.5,148.75 L335.8,148.89 L336.0,149.06 L336.2,149.10 L336.5,149.04 L336.8,149.04 L337.0,148.95 L337.2,148.72 L337.5,148.77 L337.8,149.01 L338.0,149.19 L338.2,149.26 L338.5,149.20 L338.8,149.16 L339.0,149.09 L339.2,148.94 L339.5,148.78 L339.8,148.82 L340.0,149.25 L340.2,149.36 L340.5,148.98 L340.8,148.66 L341.0,148.49 L341.2,148.61 L341.5,148.90 L341.8,148.88 L342.0,148.73 L342.2,148.76 L342.5,148.91 L342.8,149.09 L343.0,149.15 L343.2,149.05 L343.5,149.02 L343.8,148.86 L344.0,148.70 L344.2,148.87 L344.5,149.08 L344.8,148.98 L345.0,148.84 L345.2,148.94 L345.5,149.00 L345.8,149.10 L346.0,149.11 L346.2,148.77 L346.5,148.77 L346.8,148.98 L347.0,148.84 L347.2,148.82 L347.5,149.02 L347.8,149.09 L348.0,149.15 L348.2,149.12 L348.5,149.11 L348.8,149.34 L349.0,149.43 L349.2,149.29 L349.5,149.33 L349.8,149.32 L350.0,149.16 L350.2,149.02 L350.5,148.85 L350.8,148.86 L351.0,149.00 L351.2,149.13 L351.5,149.11 L351.8,148.88 L352.0,148.81 L352.2,148.87 L352.5,149.02 L352.8,149.08 L353.0,148.97 L353.2,149.00 L353.5,148.95 L353.8,148.98 L354.0,149.11 L354.2,149.09 L354.5,149.09 L354.8,149.06 L355.0,148.95 L355.2,148.79 L355.5,148.63 L355.8,148.75 L356.0,148.98 L356.2,148.92 L356.5,148.85 L356.8,149.08 L357.0,149.06 L357.2,148.74 L357.5,148.75 L357.8,148.84 L358.0,148.68 L358.2,148.72 L358.5,148.90 L358.8,148.95 L359.0,148.98 L359.2,148.96 L359.5,148.83 L359.8,148.99 L360.0,149.14 L360.2,148.86 L360.5,148.78 L360.8,148.88 L361.0,148.95 L361.2,149.09 L361.5,149.11 L361.8,148.85 L362.0,148.66 L362.2,148.99 L362.5,149.13 L362.8,148.98 L363.0,149.07 L363.2,149.11 L363.5,149.19 L363.8,149.24 L364.0,148.94 L364.2,148.69 L364.5,148.64 L364.8,148.54 L365.0,148.50 L365.2,148.53 L365.5,148.67 L365.8,148.92 L366.0,148.85 L366.2,148.68 L366.5,148.60 L366.8,148.35 L367.0,148.27 L367.2,148.48 L367.5,148.63 L367.8,148.54 L368.0,148.42 L368.2,148.33 L368.5,148.15 L368.8,147.72 L369.0,146.87 L369.2,145.88 L369.5,144.93 L369.8,143.46 L370.0,141.14 L370.2,138.19 L370.5,134.81 L370.8,131.49 L371.0,128.99 L371.2,128.29 L371.5,129.70 L371.8,132.45 L372.0,135.73 L372.2,139.02 L372.5,141.81 L372.8,143.97 L373.0,145.55 L373.2,146.47 L373.5,147.11 L373.8,147.52 L374.0,147.80 L374.2,148.12 L374.5,148.30 L374.8,148.37 L375.0,148.21 L375.2,148.01 L375.5,148.09 L375.8,148.47 L376.0,148.71 L376.2,148.62 L376.5,148.46 L376.8,148.58 L377.0,148.91 L377.2,148.71 L377.5,148.29 L377.8,148.13 L378.0,148.20 L378.2,148.70 L378.5,149.02 L378.8,148.81 L379.0,148.43 L379.2,148.10 L379.5,148.00 L379.8,148.04 L380.0,147.87 L380.2,147.60 L380.5,147.30 L380.8,146.93 L381.0,146.43 L381.2,145.33 L381.5,143.39 L381.8,140.81 L382.0,137.69 L382.2,134.38 L382.5,131.55 L382.8,129.84 L383.0,129.75 L383.2,131.46 L383.5,134.24 L383.8,137.23 L384.0,140.10 L384.2,142.57 L384.5,144.61 L384.8,146.25 L385.0,147.06 L385.2,147.56 L385.5,148.05 L385.8,148.17 L386.0,148.23 L386.2,148.35 L386.5,148.41 L386.8,148.48 L387.0,148.70 L387.2,148.76 L387.5,148.37 L387.8,148.33 L388.0,148.76 L388.2,148.95 L388.5,148.90 L388.8,148.94 L389.0,149.18 L389.2,149.15 L389.5,148.86 L389.8,148.82 L390.0,148.70 L390.2,148.55 L390.5,148.76 L390.8,148.86 L391.0,148.63 L391.2,148.70 L391.5,149.02 L391.8,149.07 L392.0,148.91 L392.2,148.74 L392.5,148.76 L392.8,148.93 L393.0,149.01 L393.2,149.12 L393.5,149.24 L393.8,148.99 L394.0,148.66 L394.2,148.70 L394.5,148.99 L394.8,149.12 L395.0,148.93 L395.2,148.85 L395.5,148.88 L395.8,148.79 L396.0,148.77 L396.2,148.95 L396.5,149.16 L396.8,149.12 L397.0,149.01 L397.2,148.92 L397.5,148.89 L397.8,149.10 L398.0,149.21 L398.2,148.96 L398.5,148.91 L398.8,148.95 L399.0,148.60 L399.2,148.51 L399.5,148.81 L399.8,148.90 L400.0,148.82 L400.2,148.89 L400.5,148.96 L400.8,149.00 L401.0,149.22 L401.2,149.32 L401.5,149.14 L401.8,148.79 L402.0,148.72 L402.2,149.02 L402.5,148.91 L402.8,148.67 L403.0,148.98 L403.2,149.22 L403.5,148.98 L403.8,148.96 L404.0,149.30 L404.2,149.29 L404.5,149.17 L404.8,149.00 L405.0,148.70 L405.2,148.77 L405.5,149.12 L405.8,149.28 L406.0,149.01 L406.2,148.72 L406.5,148.62 L406.8,148.69 L407.0,148.87 L407.2,148.95 L407.5,149.09 L407.8,149.27 L408.0,149.21 L408.2,149.15 L408.5,149.21 L408.8,149.04 L409.0,148.68 L409.2,148.55 L409.5,148.64 L409.8,148.74 L410.0,148.77 L410.2,148.44 L410.5,148.15 L410.8,148.41 L411.0,148.58 L411.2,148.40 L411.5,148.27 L411.8,148.32 L412.0,148.36 L412.2,148.12 L412.5,147.80 L412.8,147.49 L413.0,147.43 L413.2,147.74 L413.5,147.72 L413.8,147.44 L414.0,147.49 L414.2,147.53 L414.5,147.43 L414.8,147.53 L415.0,147.63 L415.2,147.55 L415.5,147.64 L415.8,147.88 L416.0,148.01 L416.2,148.13 L416.5,148.30 L416.8,148.37 L417.0,148.33 L417.2,148.40 L417.5,148.62 L417.8,148.72 L418.0,148.57 L418.2,148.64 L418.5,148.85 L418.8,148.80 L419.0,148.72 L419.2,148.78 L419.5,148.80 L419.8,148.74 L420.0,148.81 L420.2,148.79 L420.5,148.72 L420.8,148.84 L421.0,148.93 L421.2,149.05 L421.5,149.17 L421.8,149.01 L422.0,148.85 L422.2,148.81 L422.5,148.70 L422.8,148.88 L423.0,149.21 L423.2,149.26 L423.5,149.24 L423.8,149.10 L424.0,148.91 L424.2,148.91 L424.5,149.06 L424.8,149.11 L425.0,149.14 L425.2,149.18 L425.5,149.17 L425.8,149.12 L426.0,149.05 L426.2,148.97 L426.5,148.74 L426.8,148.67 L427.0,149.11 L427.2,149.50 L427.5,149.57 L427.8,149.54 L428.0,149.23 L428.2,148.84 L428.5,148.86 L428.8,149.11 L429.0,149.15 L429.2,149.11 L429.5,149.08 L429.8,149.01 L430.0,149.04 L430.2,149.06 L430.5,149.15 L430.8,149.24 L431.0,149.24 L431.2,149.37 L431.5,149.32 L431.8,149.22 L432.0,149.27 L432.2,149.03 L432.5,149.00 L432.8,148.98 L433.0,148.83 L433.2,149.13 L433.5,149.31 L433.8,149.15 L434.0,149.10 L434.2,149.09 L434.5,149.12 L434.8,149.18 L435.0,149.07 L435.2,149.04 L435.5,149.17 L435.8,149.31 L436.0,149.18 L436.2,148.73 L436.5,148.59 L436.8,148.85 L437.0,148.94 L437.2,148.89 L437.5,149.06 L437.8,149.20 L438.0,149.29 L438.2,149.25 L438.5,149.01 L438.8,149.11 L439.0,149.41 L439.2,149.21 L439.5,148.92 L439.8,149.07 L440.0,149.41 L440.2,149.51 L440.5,149.40 L440.8,149.18 L441.0,148.91 L441.2,148.98 L441.5,149.11 L441.8,148.95 L442.0,148.77 L442.2,148.82 L442.5,149.08 L442.8,149.14 L443.0,148.96 L443.2,148.69 L443.5,148.80 L443.8,149.14 L444.0,149.03 L444.2,148.90 L444.5,149.05 L444.8,148.93 L445.0,148.60 L445.2,148.64 L445.5,148.87 L445.8,148.97 L446.0,148.95 L446.2,148.85 L446.5,148.84 L446.8,148.85 L447.0,148.72 L447.2,148.63 L447.5,148.69 L447.8,148.77 L448.0,148.74 L448.2,148.66 L448.5,148.65 L448.8,148.68 L449.0,148.70 L449.2,148.53 L449.5,148.36 L449.8,148.27 L450.0,148.08 L450.2,147.95 L450.5,147.83 L450.8,147.76 L451.0,147.44 L451.2,146.92 L451.5,146.75 L451.8,146.52 L452.0,146.11 L452.2,145.80 L452.5,145.48 L452.8,145.17 L453.0,145.01 L453.2,145.12 L453.5,145.26 L453.8,145.27 L454.0,145.46 L454.2,146.01 L454.5,146.35 L454.8,146.31 L455.0,146.39 L455.2,146.73 L455.5,147.20 L455.8,147.43 L456.0,147.26 L456.2,147.27 L456.5,147.64 L456.8,147.86 L457.0,147.93 L457.2,147.87 L457.5,147.69 L457.8,147.62 L458.0,147.52 L458.2,147.35 L458.5,146.94 L458.8,145.97 L459.0,144.78 L459.2,143.46 L459.5,141.48 L459.8,138.79 L460.0,135.98 L460.2,133.71 L460.5,132.31 L460.8,131.95 L461.0,132.87 L461.2,134.89 L461.5,137.33 L461.8,139.88 L462.0,142.24 L462.2,144.06 L462.5,145.51 L462.8,146.68 L463.0,147.33 L463.2,147.55 L463.5,147.69 L463.8,147.75 L464.0,147.94 L464.2,148.24 L464.5,148.22 L464.8,148.20 L465.0,148.42 L465.2,148.49 L465.5,148.56 L465.8,148.76 L466.0,148.81 L466.2,148.61 L466.5,148.49 L466.8,148.68 L467.0,148.65 L467.2,148.38 L467.5,148.48 L467.8,148.91 L468.0,149.01 L468.2,148.97 L468.5,149.00 L468.8,148.83 L469.0,148.73 L469.2,149.00 L469.5,149.19 L469.8,149.23 L470.0,149.39 L470.2,149.32 L470.5,148.95 L470.8,148.90 L471.0,149.09 L471.2,149.09 L471.5,149.10 L471.8,149.21 L472.0,149.15 L472.2,148.99 L472.5,148.92 L472.8,148.88 L473.0,148.82 L473.2,148.65 L473.5,148.56 L473.8,148.73 L474.0,148.95 L474.2,149.24 L474.5,149.34 L474.8,149.19 L475.0,149.05 L475.2,148.89 L475.5,148.80 L475.8,148.89 L476.0,148.99 L476.2,149.07 L476.5,149.21 L476.8,149.29 L477.0,149.00 L477.2,148.77 L477.5,148.87 L477.8,148.96 L478.0,149.11 L478.2,149.19 L478.5,149.03 L478.8,149.02 L479.0,149.05 L479.2,148.96 L479.5,149.05 L479.8,149.22 L480.0,149.31 L480.2,149.34 L480.5,149.26 L480.8,149.05 L481.0,148.65 L481.2,148.44 L481.5,148.80 L481.8,149.22 L482.0,149.01 L482.2,148.68 L482.5,148.84 L482.8,148.94 L483.0,148.80" fill="none" stroke="#ab2fe4" stroke-width="3.3" stroke-linejoin="round" stroke-linecap="butt"/>
<path d="M46.5,192.41 L46.8,192.08 L47.0,192.11 L47.2,192.20 L47.5,192.16 L47.8,192.06 L48.0,191.93 L48.2,192.02 L48.5,192.40 L48.8,192.77 L49.0,192.56 L49.2,192.23 L49.5,192.16 L49.8,192.08 L50.0,192.04 L50.2,192.18 L50.5,192.32 L50.8,192.37 L51.0,192.41 L51.2,192.34 L51.5,192.40 L51.8,192.58 L52.0,192.46 L52.2,192.24 L52.5,192.26 L52.8,192.52 L53.0,192.62 L53.2,192.38 L53.5,192.31 L53.8,192.36 L54.0,192.20 L54.2,192.24 L54.5,192.45 L54.8,192.46 L55.0,192.40 L55.2,192.18 L55.5,191.97 L55.8,192.15 L56.0,192.08 L56.2,191.96 L56.5,192.25 L56.8,192.38 L57.0,192.18 L57.2,192.08 L57.5,192.20 L57.8,192.39 L58.0,192.56 L58.2,192.53 L58.5,192.46 L58.8,192.46 L59.0,192.26 L59.2,192.16 L59.5,192.35 L59.8,192.40 L60.0,192.23 L60.2,192.16 L60.5,192.05 L60.8,191.95 L61.0,192.23 L61.2,192.28 L61.5,192.06 L61.8,192.08 L62.0,192.19 L62.2,192.16 L62.5,191.94 L62.8,192.02 L63.0,192.41 L63.2,192.34 L63.5,191.98 L63.8,192.05 L64.0,192.24 L64.2,192.33 L64.5,192.38 L64.8,192.23 L65.0,192.15 L65.2,192.24 L65.5,192.40 L65.8,192.34 L66.0,192.06 L66.2,192.09 L66.5,192.45 L66.8,192.57 L67.0,192.53 L67.2,192.53 L67.5,192.35 L67.8,192.11 L68.0,192.01 L68.2,192.17 L68.5,192.28 L68.8,192.07 L69.0,192.00 L69.2,192.16 L69.5,192.29 L69.8,192.24 L70.0,191.94 L70.2,191.85 L70.5,192.18 L70.8,192.47 L71.0,192.45 L71.2,192.28 L71.5,192.19 L71.8,192.20 L72.0,192.24 L72.2,192.23 L72.5,192.13 L72.8,192.12 L73.0,192.20 L73.2,192.25 L73.5,192.42 L73.8,192.67 L74.0,192.67 L74.2,192.29 L74.5,191.84 L74.8,191.79 L75.0,191.95 L75.2,191.85 L75.5,191.74 L75.8,192.02 L76.0,192.04 L76.2,191.63 L76.5,191.43 L76.8,191.47 L77.0,191.57 L77.2,191.71 L77.5,191.64 L77.8,191.25 L78.0,190.85 L78.2,190.44 L78.5,189.64 L78.8,187.89 L79.0,184.52 L79.2,179.13 L79.5,172.18 L79.8,165.44 L80.0,162.53 L80.2,165.67 L80.5,172.32 L80.8,179.15 L81.0,184.31 L81.2,187.37 L81.5,189.12 L81.8,190.41 L82.0,191.14 L82.2,191.16 L82.5,191.07 L82.8,191.11 L83.0,191.31 L83.2,191.72 L83.5,191.94 L83.8,191.92 L84.0,191.94 L84.2,191.98 L84.5,191.88 L84.8,191.73 L85.0,191.84 L85.2,191.97 L85.5,191.92 L85.8,191.89 L86.0,191.91 L86.2,192.07 L86.5,192.21 L86.8,192.14 L87.0,192.17 L87.2,192.34 L87.5,192.48 L87.8,192.34 L88.0,192.06 L88.2,192.13 L88.5,192.20 L88.8,192.26 L89.0,192.44 L89.2,192.54 L89.5,192.49 L89.8,192.46 L90.0,192.48 L90.2,192.30 L90.5,192.25 L90.8,192.31 L91.0,192.39 L91.2,192.63 L91.5,192.76 L91.8,192.67 L92.0,192.39 L92.2,192.20 L92.5,192.31 L92.8,192.34 L93.0,192.25 L93.2,192.27 L93.5,192.42 L93.8,192.46 L94.0,192.37 L94.2,192.33 L94.5,192.17 L94.8,192.00 L95.0,191.98 L95.2,192.03 L95.5,192.28 L95.8,192.46 L96.0,192.43 L96.2,192.51 L96.5,192.60 L96.8,192.46 L97.0,192.30 L97.2,192.12 L97.5,192.06 L97.8,192.13 L98.0,192.11 L98.2,192.24 L98.5,192.42 L98.8,192.45 L99.0,192.29 L99.2,192.17 L99.5,192.22 L99.8,192.20 L100.0,192.21 L100.2,192.26 L100.5,192.25 L100.8,192.17 L101.0,192.12 L101.2,192.01 L101.5,191.91 L101.8,191.99 L102.0,192.17 L102.2,192.47 L102.5,192.42 L102.8,192.08 L103.0,192.14 L103.2,192.19 L103.5,192.15 L103.8,192.25 L104.0,192.11 L104.2,191.94 L104.5,192.09 L104.8,192.25 L105.0,192.19 L105.2,192.15 L105.5,192.34 L105.8,192.36 L106.0,192.11 L106.2,192.08 L106.5,192.17 L106.8,192.33 L107.0,192.54 L107.2,192.38 L107.5,192.08 L107.8,192.07 L108.0,192.40 L108.2,192.64 L108.5,192.45 L108.8,192.33 L109.0,192.38 L109.2,192.50 L109.5,192.61 L109.8,192.44 L110.0,192.38 L110.2,192.42 L110.5,192.31 L110.8,192.29 L111.0,192.47 L111.2,192.41 L111.5,192.21 L111.8,192.08 L112.0,192.14 L112.2,192.40 L112.5,192.55 L112.8,192.58 L113.0,192.60 L113.2,192.50 L113.5,192.42 L113.8,192.47 L114.0,192.44 L114.2,192.38 L114.5,192.50 L114.8,192.57 L115.0,192.40 L115.2,192.31 L115.5,192.53 L115.8,192.63 L116.0,192.40 L116.2,192.25 L116.5,192.36 L116.8,192.33 L117.0,192.12 L117.2,192.30 L117.5,192.44 L117.8,192.37 L118.0,192.51 L118.2,192.45 L118.5,192.26 L118.8,192.16 L119.0,192.01 L119.2,192.22 L119.5,192.46 L119.8,192.44 L120.0,192.51 L120.2,192.50 L120.5,192.45 L120.8,192.20 L121.0,191.89 L121.2,192.03 L121.5,192.18 L121.8,192.01 L122.0,192.01 L122.2,192.19 L122.5,192.08 L122.8,191.91 L123.0,192.11 L123.2,192.33 L123.5,192.36 L123.8,192.52 L124.0,192.61 L124.2,192.33 L124.5,192.01 L124.8,191.99 L125.0,192.25 L125.2,192.45 L125.5,192.45 L125.8,192.36 L126.0,192.29 L126.2,192.26 L126.5,192.21 L126.8,192.10 L127.0,191.93 L127.2,191.90 L127.5,192.00 L127.8,192.00 L128.0,192.10 L128.2,192.31 L128.5,192.56 L128.8,192.82 L129.0,192.62 L129.2,192.32 L129.5,192.39 L129.8,192.35 L130.0,192.30 L130.2,192.35 L130.5,192.01 L130.8,191.80 L131.0,192.12 L131.2,192.37 L131.5,192.43 L131.8,192.21 L132.0,192.17 L132.2,192.36 L132.5,192.26 L132.8,192.35 L133.0,192.55 L133.2,192.42 L133.5,192.29 L133.8,192.37 L134.0,192.37 L134.2,192.27 L134.5,192.37 L134.8,192.62 L135.0,192.68 L135.2,192.35 L135.5,192.17 L135.8,192.30 L136.0,192.31 L136.2,192.31 L136.5,192.43 L136.8,192.43 L137.0,192.27 L137.2,192.02 L137.5,191.80 L137.8,192.06 L138.0,192.41 L138.2,192.24 L138.5,192.02 L138.8,192.08 L139.0,192.30 L139.2,192.27 L139.5,192.16 L139.8,192.32 L140.0,192.44 L140.2,192.38 L140.5,192.38 L140.8,192.55 L141.0,192.48 L141.2,192.26 L141.5,192.17 L141.8,192.27 L142.0,192.38 L142.2,192.40 L142.5,192.48 L142.8,192.57 L143.0,192.61 L143.2,192.52 L143.5,192.19 L143.8,192.00 L144.0,192.24 L144.2,192.45 L144.5,192.42 L144.8,192.35 L145.0,192.22 L145.2,192.11 L145.5,192.21 L145.8,192.44 L146.0,192.38 L146.2,192.11 L146.5,192.02 L146.8,192.27 L147.0,192.54 L147.2,192.41 L147.5,192.32 L147.8,192.57 L148.0,192.70 L148.2,192.62 L148.5,192.58 L148.8,192.57 L149.0,192.52 L149.2,192.39 L149.5,192.34 L149.8,192.48 L150.0,192.60 L150.2,192.46 L150.5,192.17 L150.8,192.31 L151.0,192.47 L151.2,192.34 L151.5,192.38 L151.8,192.48 L152.0,192.39 L152.2,192.23 L152.5,192.29 L152.8,192.53 L153.0,192.57 L153.2,192.40 L153.5,192.31 L153.8,192.40 L154.0,192.37 L154.2,192.08 L154.5,191.99 L154.8,192.10 L155.0,192.06 L155.2,192.10 L155.5,192.28 L155.8,192.27 L156.0,192.20 L156.2,192.17 L156.5,192.10 L156.8,192.09 L157.0,191.96 L157.2,191.99 L157.5,192.24 L157.8,192.19 L158.0,192.07 L158.2,192.17 L158.5,192.30 L158.8,192.29 L159.0,192.34 L159.2,192.38 L159.5,192.20 L159.8,192.09 L160.0,192.24 L160.2,192.49 L160.5,192.62 L160.8,192.55 L161.0,192.35 L161.2,192.30 L161.5,192.35 L161.8,192.33 L162.0,192.42 L162.2,192.39 L162.5,192.20 L162.8,192.18 L163.0,192.37 L163.2,192.73 L163.5,192.80 L163.8,192.45 L164.0,192.07 L164.2,191.91 L164.5,192.10 L164.8,192.18 L165.0,192.14 L165.2,192.16 L165.5,192.04 L165.8,192.10 L166.0,192.15 L166.2,192.12 L166.5,192.36 L166.8,192.37 L167.0,191.99 L167.2,191.95 L167.5,192.22 L167.8,192.18 L168.0,192.01 L168.2,192.08 L168.5,192.17 L168.8,192.26 L169.0,192.37 L169.2,192.49 L169.5,192.64 L169.8,192.63 L170.0,192.52 L170.2,192.54 L170.5,192.56 L170.8,192.32 L171.0,192.13 L171.2,192.24 L171.5,192.40 L171.8,192.46 L172.0,192.37 L172.2,192.30 L172.5,192.40 L172.8,192.48 L173.0,192.30 L173.2,192.15 L173.5,192.14 L173.8,192.11 L174.0,192.13 L174.2,192.16 L174.5,192.31 L174.8,192.41 L175.0,192.19 L175.2,192.04 L175.5,192.10 L175.8,192.06 L176.0,191.86 L176.2,191.82 L176.5,191.99 L176.8,192.07 L177.0,191.96 L177.2,191.78 L177.5,191.76 L177.8,191.98 L178.0,192.10 L178.2,191.91 L178.5,191.74 L178.8,191.57 L179.0,191.30 L179.2,191.15 L179.5,191.08 L179.8,190.94 L180.0,190.60 L180.2,190.30 L180.5,190.31 L180.8,190.08 L181.0,189.48 L181.2,189.01 L181.5,188.65 L181.8,188.10 L182.0,187.59 L182.2,187.32 L182.5,187.01 L182.8,186.73 L183.0,186.44 L183.2,186.21 L183.5,186.33 L183.8,186.53 L184.0,186.63 L184.2,186.90 L184.5,187.22 L184.8,187.68 L185.0,188.45 L185.2,188.96 L185.5,189.32 L185.8,189.69 L186.0,189.88 L186.2,190.32 L186.5,190.91 L186.8,190.93 L187.0,190.49 L187.2,190.42 L187.5,191.02 L187.8,191.54 L188.0,191.59 L188.2,191.66 L188.5,191.76 L188.8,191.73 L189.0,191.88 L189.2,192.07 L189.5,192.09 L189.8,192.00 L190.0,191.95 L190.2,191.99 L190.5,192.09 L190.8,192.40 L191.0,192.49 L191.2,191.96 L191.5,191.61 L191.8,191.85 L192.0,192.18 L192.2,192.36 L192.5,192.28 L192.8,191.99 L193.0,192.01 L193.2,192.15 L193.5,192.12 L193.8,192.17 L194.0,192.22 L194.2,192.27 L194.5,192.34 L194.8,192.35 L195.0,192.22 L195.2,192.03 L195.5,192.06 L195.8,192.13 L196.0,192.22 L196.2,192.24 L196.5,192.01 L196.8,191.77 L197.0,191.71 L197.2,191.79 L197.5,191.79 L197.8,191.71 L198.0,191.75 L198.2,191.68 L198.5,191.41 L198.8,191.34 L199.0,191.59 L199.2,191.66 L199.5,191.61 L199.8,192.00 L200.0,192.26 L200.2,192.15 L200.5,192.27 L200.8,192.52 L201.0,192.33 L201.2,191.97 L201.5,191.93 L201.8,191.98 L202.0,191.78 L202.2,191.67 L202.5,191.87 L202.8,191.94 L203.0,191.91 L203.2,191.98 L203.5,192.00 L203.8,191.82 L204.0,191.71 L204.2,191.90 L204.5,191.93 L204.8,191.75 L205.0,191.64 L205.2,191.28 L205.5,190.84 L205.8,190.35 L206.0,189.47 L206.2,188.40 L206.5,187.13 L206.8,185.72 L207.0,184.45 L207.2,183.98 L207.5,184.47 L207.8,185.36 L208.0,186.46 L208.2,187.70 L208.5,188.76 L208.8,189.43 L209.0,190.01 L209.2,190.53 L209.5,190.74 L209.8,190.87 L210.0,191.01 L210.2,191.02 L210.5,191.08 L210.8,191.22 L211.0,191.14 L211.2,190.85 L211.5,190.42 L211.8,189.93 L212.0,189.55 L212.2,189.20 L212.5,188.79 L212.8,188.64 L213.0,188.65 L213.2,188.45 L213.5,187.86 L213.8,187.23 L214.0,186.83 L214.2,186.54 L214.5,186.36 L214.8,186.24 L215.0,186.37 L215.2,186.60 L215.5,186.70 L215.8,186.83 L216.0,186.84 L216.2,187.06 L216.5,187.70 L216.8,188.12 L217.0,188.25 L217.2,188.46 L217.5,188.76 L217.8,189.30 L218.0,189.84 L218.2,190.06 L218.5,190.12 L218.8,190.35 L219.0,190.83 L219.2,191.22 L219.5,191.36 L219.8,191.32 L220.0,191.41 L220.2,191.73 L220.5,191.76 L220.8,191.74 L221.0,191.71 L221.2,191.53 L221.5,191.67 L221.8,191.90 L222.0,192.09 L222.2,192.24 L222.5,192.02 L222.8,191.72 L223.0,191.83 L223.2,192.05 L223.5,191.98 L223.8,191.73 L224.0,191.75 L224.2,192.07 L224.5,192.19 L224.8,191.99 L225.0,191.98 L225.2,192.03 L225.5,191.78 L225.8,192.01 L226.0,192.43 L226.2,192.31 L226.5,192.08 L226.8,192.10 L227.0,192.18 L227.2,192.09 L227.5,192.12 L227.8,192.14 L228.0,192.10 L228.2,192.13 L228.5,191.98 L228.8,191.97 L229.0,192.10 L229.2,192.17 L229.5,192.32 L229.8,192.37 L230.0,192.19 L230.2,192.06 L230.5,192.06 L230.8,192.18 L231.0,192.30 L231.2,192.28 L231.5,192.26 L231.8,192.17 L232.0,192.15 L232.2,192.22 L232.5,192.13 L232.8,192.27 L233.0,192.38 L233.2,192.17 L233.5,192.01 L233.8,191.94 L234.0,191.91 L234.2,191.93 L234.5,192.02 L234.8,192.14 L235.0,192.35 L235.2,192.53 L235.5,192.47 L235.8,192.37 L236.0,192.27 L236.2,192.14 L236.5,191.95 L236.8,191.90 L237.0,192.25 L237.2,192.56 L237.5,192.42 L237.8,192.34 L238.0,192.44 L238.2,192.27 L238.5,192.03 L238.8,191.94 L239.0,191.99 L239.2,192.30 L239.5,192.54 L239.8,192.31 L240.0,192.03 L240.2,192.07 L240.5,192.04 L240.8,191.98 L241.0,192.20 L241.2,192.41 L241.5,192.42 L241.8,192.28 L242.0,191.97 L242.2,192.00 L242.5,192.43 L242.8,192.42 L243.0,192.13 L243.2,192.18 L243.5,192.33 L243.8,192.38 L244.0,192.31 L244.2,192.22 L244.5,192.27 L244.8,192.31 L245.0,192.13 L245.2,191.73 L245.5,191.58 L245.8,191.78 L246.0,191.97 L246.2,192.24 L246.5,192.43 L246.8,192.34 L247.0,192.24 L247.2,192.35 L247.5,192.41 L247.8,192.33 L248.0,192.42 L248.2,192.48 L248.5,192.49 L248.8,192.47 L249.0,192.35 L249.2,192.30 L249.5,192.14 L249.8,192.00 L250.0,192.08 L250.2,192.19 L250.5,192.17 L250.8,192.12 L251.0,192.19 L251.2,192.51 L251.5,192.68 L251.8,192.59 L252.0,192.61 L252.2,192.67 L252.5,192.68 L252.8,192.34 L253.0,192.16 L253.2,192.38 L253.5,192.30 L253.8,192.05 L254.0,191.96 L254.2,191.96 L254.5,192.04 L254.8,192.22 L255.0,192.49 L255.2,192.37 L255.5,191.95 L255.8,191.86 L256.0,191.92 L256.2,191.92 L256.5,192.11 L256.8,192.21 L257.0,192.11 L257.2,192.17 L257.5,192.43 L257.8,192.67 L258.0,192.64 L258.2,192.48 L258.5,192.36 L258.8,192.27 L259.0,192.21 L259.2,192.22 L259.5,192.22 L259.8,192.07 L260.0,192.03 L260.2,192.25 L260.5,192.26 L260.8,192.06 L261.0,192.09 L261.2,192.28 L261.5,192.27 L261.8,192.18 L262.0,192.21 L262.2,192.36 L262.5,192.53 L262.8,192.38 L263.0,191.94 L263.2,191.84 L263.5,192.22 L263.8,192.50 L264.0,192.48 L264.2,192.40 L264.5,192.17 L264.8,192.09 L265.0,192.30 L265.2,192.42 L265.5,192.29 L265.8,192.13 L266.0,192.15 L266.2,192.27 L266.5,192.32 L266.8,192.21 L267.0,192.10 L267.2,192.25 L267.5,192.44 L267.8,192.33 L268.0,192.09 L268.2,191.98 L268.5,192.15 L268.8,192.29 L269.0,192.05 L269.2,192.06 L269.5,192.41 L269.8,192.51 L270.0,192.42 L270.2,192.46 L270.5,192.55 L270.8,192.51 L271.0,192.51 L271.2,192.57 L271.5,192.58 L271.8,192.47 L272.0,192.31 L272.2,192.26 L272.5,192.05 L272.8,191.99 L273.0,192.19 L273.2,192.24 L273.5,192.22 L273.8,192.29 L274.0,192.47 L274.2,192.34 L274.5,192.13 L274.8,192.31 L275.0,192.39 L275.2,192.29 L275.5,192.49 L275.8,192.74 L276.0,192.60 L276.2,192.32 L276.5,192.26 L276.8,192.23 L277.0,191.86 L277.2,191.64 L277.5,191.87 L277.8,192.22 L278.0,192.51 L278.2,192.39 L278.5,192.07 L278.8,192.08 L279.0,192.23 L279.2,192.17 L279.5,192.14 L279.8,192.25 L280.0,192.32 L280.2,192.34 L280.5,192.44 L280.8,192.66 L281.0,192.55 L281.2,192.39 L281.5,192.60 L281.8,192.63 L282.0,192.46 L282.2,192.32 L282.5,192.32 L282.8,192.38 L283.0,192.41 L283.2,192.50 L283.5,192.40 L283.8,192.19 L284.0,192.27 L284.2,192.47 L284.5,192.45 L284.8,192.29 L285.0,192.22 L285.2,192.17 L285.5,192.02 L285.8,192.14 L286.0,192.42 L286.2,192.38 L286.5,192.23 L286.8,192.30 L287.0,192.60 L287.2,192.67 L287.5,192.45 L287.8,192.31 L288.0,192.37 L288.2,192.60 L288.5,192.53 L288.8,192.35 L289.0,192.47 L289.2,192.50 L289.5,192.43 L289.8,192.34 L290.0,192.18 L290.2,192.21 L290.5,192.36 L290.8,192.27 L291.0,192.31 L291.2,192.54 L291.5,192.39 L291.8,192.14 L292.0,192.20 L292.2,192.43 L292.5,192.53 L292.8,192.49 L293.0,192.34 L293.2,192.10 L293.5,192.08 L293.8,192.19 L294.0,192.30 L294.2,192.21 L294.5,192.26 L294.8,192.56 L295.0,192.43 L295.2,192.35 L295.5,192.52 L295.8,192.51 L296.0,192.16 L296.2,191.76 L296.5,191.94 L296.8,192.25 L297.0,192.11 L297.2,191.85 L297.5,191.92 L297.8,192.33 L298.0,192.39 L298.2,192.16 L298.5,192.17 L298.8,192.16 L299.0,192.06 L299.2,192.16 L299.5,192.33 L299.8,192.47 L300.0,192.51 L300.2,192.33 L300.5,192.22 L300.8,192.23 L301.0,192.08 L301.2,192.09 L301.5,192.30 L301.8,192.28 L302.0,192.28 L302.2,192.26 L302.5,192.16 L302.8,192.28 L303.0,192.34 L303.2,192.27 L303.5,192.21 L303.8,191.95 L304.0,191.77 L304.2,191.90 L304.5,192.09 L304.8,192.27 L305.0,192.24 L305.2,192.10 L305.5,192.23 L305.8,192.45 L306.0,192.44 L306.2,192.29 L306.5,192.16 L306.8,192.04 L307.0,192.04 L307.2,192.08 L307.5,192.02 L307.8,191.87 L308.0,191.57 L308.2,191.29 L308.5,191.24 L308.8,191.42 L309.0,191.55 L309.2,191.10 L309.5,190.03 L309.8,188.94 L310.0,187.77 L310.2,185.84 L310.5,183.51 L310.8,181.62 L311.0,180.51 L311.2,180.69 L311.5,182.15 L311.8,184.24 L312.0,186.25 L312.2,187.90 L312.5,189.25 L312.8,190.29 L313.0,190.94 L313.2,191.08 L313.5,191.24 L313.8,191.72 L314.0,192.08 L314.2,192.19 L314.5,191.99 L314.8,191.63 L315.0,191.58 L315.2,191.71 L315.5,191.62 L315.8,191.46 L316.0,191.62 L316.2,191.69 L316.5,191.54 L316.8,191.63 L317.0,191.72 L317.2,191.63 L317.5,191.61 L317.8,191.56 L318.0,191.39 L318.2,191.22 L318.5,191.20 L318.8,191.25 L319.0,191.12 L319.2,191.10 L319.5,191.27 L319.8,191.33 L320.0,191.54 L320.2,191.75 L320.5,191.74 L320.8,191.81 L321.0,192.01 L321.2,191.94 L321.5,191.64 L321.8,191.76 L322.0,192.18 L322.2,192.08 L322.5,191.70 L322.8,191.75 L323.0,191.97 L323.2,192.05 L323.5,192.19 L323.8,192.29 L324.0,192.20 L324.2,192.12 L324.5,192.38 L324.8,192.53 L325.0,192.37 L325.2,192.46 L325.5,192.55 L325.8,192.42 L326.0,192.19 L326.2,191.99 L326.5,192.08 L326.8,192.38 L327.0,192.57 L327.2,192.61 L327.5,192.58 L327.8,192.45 L328.0,192.17 L328.2,192.05 L328.5,192.24 L328.8,192.37 L329.0,192.20 L329.2,191.99 L329.5,191.95 L329.8,192.01 L330.0,192.09 L330.2,192.10 L330.5,192.19 L330.8,192.32 L331.0,192.43 L331.2,192.42 L331.5,192.04 L331.8,191.92 L332.0,192.37 L332.2,192.69 L332.5,192.64 L332.8,192.48 L333.0,192.40 L333.2,192.24 L333.5,192.04 L333.8,192.13 L334.0,192.27 L334.2,192.38 L334.5,192.42 L334.8,192.16 L335.0,192.18 L335.2,192.38 L335.5,192.19 L335.8,191.95 L336.0,191.92 L336.2,192.18 L336.5,192.50 L336.8,192.52 L337.0,192.36 L337.2,192.31 L337.5,192.39 L337.8,192.30 L338.0,192.11 L338.2,192.16 L338.5,192.38 L338.8,192.49 L339.0,192.41 L339.2,192.53 L339.5,192.59 L339.8,192.23 L340.0,192.11 L340.2,192.38 L340.5,192.43 L340.8,192.33 L341.0,192.30 L341.2,192.30 L341.5,192.32 L341.8,192.34 L342.0,192.30 L342.2,192.10 L342.5,192.08 L342.8,192.21 L343.0,192.28 L343.2,192.36 L343.5,192.30 L343.8,192.22 L344.0,192.24 L344.2,192.10 L344.5,191.91 L344.8,191.92 L345.0,192.04 L345.2,192.16 L345.5,192.34 L345.8,192.49 L346.0,192.60 L346.2,192.72 L346.5,192.62 L346.8,192.50 L347.0,192.64 L347.2,192.58 L347.5,192.34 L347.8,192.39 L348.0,192.51 L348.2,192.50 L348.5,192.51 L348.8,192.49 L349.0,192.41 L349.2,192.33 L349.5,192.30 L349.8,192.32 L350.0,192.24 L350.2,192.10 L350.5,192.31 L350.8,192.57 L351.0,192.48 L351.2,192.38 L351.5,192.31 L351.8,192.13 L352.0,192.06 L352.2,192.15 L352.5,192.31 L352.8,192.36 L353.0,192.30 L353.2,192.25 L353.5,192.05 L353.8,192.03 L354.0,192.31 L354.2,192.42 L354.5,192.11 L354.8,191.93 L355.0,192.18 L355.2,192.23 L355.5,192.02 L355.8,191.97 L356.0,192.09 L356.2,192.29 L356.5,192.28 L356.8,192.28 L357.0,192.52 L357.2,192.42 L357.5,192.27 L357.8,192.36 L358.0,192.53 L358.2,192.74 L358.5,192.60 L358.8,192.27 L359.0,192.14 L359.2,192.13 L359.5,192.23 L359.8,192.29 L360.0,192.34 L360.2,192.46 L360.5,192.36 L360.8,192.30 L361.0,192.24 L361.2,191.94 L361.5,191.99 L361.8,192.27 L362.0,192.29 L362.2,192.27 L362.5,192.25 L362.8,192.15 L363.0,192.04 L363.2,191.84 L363.5,191.91 L363.8,192.19 L364.0,192.10 L364.2,192.12 L364.5,192.44 L364.8,192.42 L365.0,192.13 L365.2,192.03 L365.5,192.02 L365.8,192.03 L366.0,192.15 L366.2,192.19 L366.5,192.18 L366.8,192.26 L367.0,192.37 L367.2,192.49 L367.5,192.23 L367.8,191.84 L368.0,191.78 L368.2,191.54 L368.5,191.37 L368.8,191.38 L369.0,191.07 L369.2,190.74 L369.5,190.31 L369.8,189.43 L370.0,188.51 L370.2,187.80 L370.5,187.00 L370.8,185.90 L371.0,184.98 L371.2,184.84 L371.5,185.51 L371.8,186.54 L372.0,187.48 L372.2,188.41 L372.5,189.25 L372.8,189.89 L373.0,190.52 L373.2,190.95 L373.5,191.13 L373.8,191.46 L374.0,191.66 L374.2,191.70 L374.5,191.95 L374.8,192.17 L375.0,192.10 L375.2,191.93 L375.5,192.06 L375.8,192.31 L376.0,192.20 L376.2,191.99 L376.5,192.13 L376.8,192.28 L377.0,192.18 L377.2,192.30 L377.5,192.48 L377.8,192.23 L378.0,191.92 L378.2,191.79 L378.5,191.93 L378.8,192.15 L379.0,191.95 L379.2,191.64 L379.5,191.62 L379.8,191.79 L380.0,191.77 L380.2,191.56 L380.5,191.37 L380.8,191.06 L381.0,190.69 L381.2,190.23 L381.5,189.45 L381.8,188.44 L382.0,187.49 L382.2,186.49 L382.5,185.53 L382.8,185.12 L383.0,185.29 L383.2,185.75 L383.5,186.41 L383.8,187.29 L384.0,188.25 L384.2,189.07 L384.5,189.89 L384.8,190.62 L385.0,190.99 L385.2,191.15 L385.5,191.25 L385.8,191.41 L386.0,191.73 L386.2,191.89 L386.5,191.85 L386.8,191.82 L387.0,191.95 L387.2,192.19 L387.5,192.15 L387.8,192.02 L388.0,192.12 L388.2,192.10 L388.5,192.03 L388.8,192.13 L389.0,192.12 L389.2,192.04 L389.5,192.05 L389.8,192.16 L390.0,192.19 L390.2,192.09 L390.5,191.99 L390.8,192.08 L391.0,192.33 L391.2,192.44 L391.5,192.42 L391.8,192.44 L392.0,192.24 L392.2,192.10 L392.5,192.16 L392.8,192.16 L393.0,192.30 L393.2,192.41 L393.5,192.27 L393.8,192.40 L394.0,192.65 L394.2,192.50 L394.5,192.37 L394.8,192.38 L395.0,192.29 L395.2,192.26 L395.5,192.11 L395.8,192.01 L396.0,192.20 L396.2,192.11 L396.5,192.04 L396.8,192.26 L397.0,192.20 L397.2,192.08 L397.5,192.10 L397.8,192.04 L398.0,191.94 L398.2,191.90 L398.5,192.04 L398.8,192.27 L399.0,192.34 L399.2,192.39 L399.5,192.43 L399.8,192.28 L400.0,192.13 L400.2,192.30 L400.5,192.51 L400.8,192.43 L401.0,192.31 L401.2,192.29 L401.5,192.33 L401.8,192.35 L402.0,192.28 L402.2,192.18 L402.5,192.06 L402.8,192.10 L403.0,192.32 L403.2,192.49 L403.5,192.48 L403.8,192.28 L404.0,192.19 L404.2,192.35 L404.5,192.29 L404.8,192.14 L405.0,192.32 L405.2,192.55 L405.5,192.49 L405.8,192.11 L406.0,192.03 L406.2,192.14 L406.5,191.98 L406.8,191.91 L407.0,191.95 L407.2,191.86 L407.5,191.86 L407.8,192.15 L408.0,192.43 L408.2,192.44 L408.5,192.33 L408.8,192.35 L409.0,192.50 L409.2,192.53 L409.5,192.34 L409.8,192.11 L410.0,192.08 L410.2,192.11 L410.5,192.22 L410.8,192.20 L411.0,192.08 L411.2,192.25 L411.5,192.45 L411.8,192.42 L412.0,192.26 L412.2,192.03 L412.5,191.89 L412.8,191.92 L413.0,192.15 L413.2,192.33 L413.5,192.23 L413.8,191.98 L414.0,191.86 L414.2,191.93 L414.5,191.77 L414.8,191.43 L415.0,191.39 L415.2,191.54 L415.5,191.73 L415.8,191.93 L416.0,191.77 L416.2,191.50 L416.5,191.65 L416.8,191.83 L417.0,191.74 L417.2,191.80 L417.5,191.99 L417.8,192.09 L418.0,191.99 L418.2,191.88 L418.5,191.95 L418.8,192.07 L419.0,192.13 L419.2,192.23 L419.5,192.35 L419.8,192.25 L420.0,192.11 L420.2,192.07 L420.5,192.12 L420.8,192.20 L421.0,192.29 L421.2,192.31 L421.5,192.13 L421.8,192.13 L422.0,192.32 L422.2,192.23 L422.5,192.20 L422.8,192.44 L423.0,192.26 L423.2,191.86 L423.5,192.05 L423.8,192.42 L424.0,192.42 L424.2,192.37 L424.5,192.41 L424.8,192.25 L425.0,192.18 L425.2,192.27 L425.5,192.34 L425.8,192.48 L426.0,192.50 L426.2,192.46 L426.5,192.44 L426.8,192.26 L427.0,192.33 L427.2,192.54 L427.5,192.52 L427.8,192.42 L428.0,192.27 L428.2,192.19 L428.5,192.26 L428.8,192.27 L429.0,192.24 L429.2,192.31 L429.5,192.49 L429.8,192.54 L430.0,192.45 L430.2,192.47 L430.5,192.39 L430.8,192.06 L431.0,192.08 L431.2,192.52 L431.5,192.63 L431.8,192.43 L432.0,192.27 L432.2,192.05 L432.5,192.01 L432.8,192.10 L433.0,192.14 L433.2,192.26 L433.5,192.27 L433.8,192.43 L434.0,192.76 L434.2,192.71 L434.5,192.47 L434.8,192.35 L435.0,192.15 L435.2,192.13 L435.5,192.40 L435.8,192.48 L436.0,192.34 L436.2,192.32 L436.5,192.23 L436.8,192.07 L437.0,192.27 L437.2,192.49 L437.5,192.42 L437.8,192.41 L438.0,192.38 L438.2,192.32 L438.5,192.53 L438.8,192.73 L439.0,192.75 L439.2,192.56 L439.5,192.25 L439.8,192.07 L440.0,192.02 L440.2,191.99 L440.5,192.14 L440.8,192.47 L441.0,192.51 L441.2,192.33 L441.5,192.23 L441.8,192.08 L442.0,192.01 L442.2,191.93 L442.5,191.90 L442.8,192.12 L443.0,192.21 L443.2,192.13 L443.5,192.03 L443.8,192.01 L444.0,192.06 L444.2,192.12 L444.5,192.09 L444.8,192.03 L445.0,192.16 L445.2,192.36 L445.5,192.47 L445.8,192.41 L446.0,192.16 L446.2,191.84 L446.5,191.70 L446.8,191.98 L447.0,192.33 L447.2,192.10 L447.5,191.53 L447.8,191.45 L448.0,191.54 L448.2,191.48 L448.5,191.53 L448.8,191.48 L449.0,191.33 L449.2,191.15 L449.5,190.90 L449.8,190.80 L450.0,190.93 L450.2,190.96 L450.5,190.77 L450.8,190.85 L451.0,191.05 L451.2,191.08 L451.5,191.07 L451.8,191.05 L452.0,191.21 L452.2,191.55 L452.5,191.76 L452.8,191.76 L453.0,191.72 L453.2,191.64 L453.5,191.73 L453.8,191.96 L454.0,192.05 L454.2,192.10 L454.5,192.21 L454.8,192.44 L455.0,192.37 L455.2,192.11 L455.5,192.19 L455.8,192.19 L456.0,192.04 L456.2,192.01 L456.5,191.93 L456.8,191.72 L457.0,191.60 L457.2,191.66 L457.5,191.80 L457.8,191.87 L458.0,191.71 L458.2,191.34 L458.5,190.75 L458.8,190.25 L459.0,189.95 L459.2,189.44 L459.5,188.77 L459.8,187.99 L460.0,186.98 L460.2,185.95 L460.5,185.36 L460.8,185.48 L461.0,185.84 L461.2,186.37 L461.5,187.17 L461.8,187.93 L462.0,188.91 L462.2,189.99 L462.5,190.62 L462.8,191.03 L463.0,191.38 L463.2,191.58 L463.5,191.87 L463.8,192.12 L464.0,192.07 L464.2,192.00 L464.5,191.96 L464.8,191.73 L465.0,191.46 L465.2,191.68 L465.5,192.29 L465.8,192.43 L466.0,192.16 L466.2,192.14 L466.5,192.16 L466.8,192.19 L467.0,192.29 L467.2,192.09 L467.5,191.76 L467.8,191.81 L468.0,192.22 L468.2,192.46 L468.5,192.39 L468.8,192.21 L469.0,192.20 L469.2,192.28 L469.5,192.43 L469.8,192.76 L470.0,192.87 L470.2,192.61 L470.5,192.36 L470.8,192.46 L471.0,192.58 L471.2,192.49 L471.5,192.42 L471.8,192.30 L472.0,192.17 L472.2,192.35 L472.5,192.45 L472.8,192.23 L473.0,192.26 L473.2,192.29 L473.5,192.10 L473.8,192.00 L474.0,191.93 L474.2,191.92 L474.5,191.92 L474.8,191.97 L475.0,192.10 L475.2,192.17 L475.5,192.02 L475.8,192.00 L476.0,192.31 L476.2,192.27 L476.5,192.03 L476.8,192.11 L477.0,192.19 L477.2,192.11 L477.5,192.09 L477.8,192.21 L478.0,192.26 L478.2,192.24 L478.5,192.32 L478.8,192.36 L479.0,192.38 L479.2,192.47 L479.5,192.29 L479.8,192.12 L480.0,192.24 L480.2,192.32 L480.5,192.30 L480.8,192.50 L481.0,192.69 L481.2,192.54 L481.5,192.35 L481.8,192.38 L482.0,192.47 L482.2,192.32 L482.5,192.05 L482.8,192.07 L483.0,192.27" fill="none" stroke="#0e0ed0" stroke-width="3.3" stroke-linejoin="round" stroke-linecap="butt"/>
<path d="M46.5,306.71 L46.8,307.00 L47.0,307.43 L47.2,307.07 L47.5,306.50 L47.8,306.54 L48.0,306.70 L48.2,306.57 L48.5,306.43 L48.8,306.69 L49.0,307.12 L49.2,307.31 L49.5,307.16 L49.8,306.75 L50.0,306.73 L50.2,306.90 L50.5,306.67 L50.8,306.72 L51.0,306.65 L51.2,306.31 L51.5,306.28 L51.8,306.45 L52.0,306.66 L52.2,306.88 L52.5,306.78 L52.8,306.31 L53.0,306.22 L53.2,306.45 L53.5,306.37 L53.8,306.03 L54.0,306.18 L54.2,306.34 L54.5,306.27 L54.8,306.59 L55.0,306.81 L55.2,306.91 L55.5,306.72 L55.8,306.17 L56.0,306.02 L56.2,306.32 L56.5,306.66 L56.8,306.58 L57.0,306.14 L57.2,305.89 L57.5,305.85 L57.8,305.89 L58.0,305.98 L58.2,306.30 L58.5,306.49 L58.8,306.00 L59.0,305.67 L59.2,305.53 L59.5,305.08 L59.8,304.80 L60.0,304.72 L60.2,304.24 L60.5,303.62 L60.8,303.26 L61.0,302.63 L61.2,302.05 L61.5,301.78 L61.8,301.53 L62.0,301.36 L62.2,301.25 L62.5,301.45 L62.8,301.81 L63.0,302.36 L63.2,303.10 L63.5,303.34 L63.8,303.89 L64.0,304.87 L64.2,304.93 L64.5,305.04 L64.8,305.65 L65.0,305.82 L65.2,305.76 L65.5,305.59 L65.8,305.35 L66.0,305.04 L66.2,304.94 L66.5,305.31 L66.8,305.83 L67.0,306.44 L67.2,306.54 L67.5,306.09 L67.8,305.96 L68.0,305.86 L68.2,305.57 L68.5,305.26 L68.8,305.17 L69.0,305.31 L69.2,305.45 L69.5,305.63 L69.8,305.87 L70.0,306.16 L70.2,306.12 L70.5,306.10 L70.8,306.28 L71.0,306.16 L71.2,305.90 L71.5,305.80 L71.8,305.94 L72.0,306.22 L72.2,306.24 L72.5,306.14 L72.8,306.00 L73.0,305.83 L73.2,305.66 L73.5,305.64 L73.8,305.96 L74.0,306.00 L74.2,305.90 L74.5,305.94 L74.8,305.78 L75.0,305.82 L75.2,306.03 L75.5,305.78 L75.8,305.52 L76.0,305.44 L76.2,305.49 L76.5,305.87 L76.8,305.85 L77.0,305.95 L77.2,306.58 L77.5,306.57 L77.8,306.04 L78.0,305.95 L78.2,306.23 L78.5,306.20 L78.8,305.80 L79.0,305.76 L79.2,305.96 L79.5,305.90 L79.8,305.88 L80.0,305.65 L80.2,305.17 L80.5,304.74 L80.8,304.61 L81.0,305.24 L81.2,305.66 L81.5,305.52 L81.8,305.79 L82.0,305.90 L82.2,305.56 L82.5,305.43 L82.8,305.32 L83.0,305.14 L83.2,305.19 L83.5,305.42 L83.8,305.66 L84.0,305.57 L84.2,305.38 L84.5,305.37 L84.8,305.21 L85.0,305.22 L85.2,305.39 L85.5,305.34 L85.8,305.30 L86.0,305.27 L86.2,305.07 L86.5,304.98 L86.8,305.24 L87.0,305.47 L87.2,305.61 L87.5,305.77 L87.8,305.12 L88.0,304.34 L88.2,304.89 L88.5,305.59 L88.8,305.35 L89.0,304.92 L89.2,305.03 L89.5,305.53 L89.8,305.69 L90.0,305.51 L90.2,305.53 L90.5,305.68 L90.8,305.35 L91.0,304.96 L91.2,305.13 L91.5,305.20 L91.8,305.15 L92.0,305.24 L92.2,304.73 L92.5,304.42 L92.8,305.18 L93.0,305.49 L93.2,305.04 L93.5,304.88 L93.8,304.79 L94.0,304.67 L94.2,304.82 L94.5,304.86 L94.8,304.66 L95.0,304.51 L95.2,304.73 L95.5,305.29 L95.8,305.48 L96.0,305.19 L96.2,304.79 L96.5,304.69 L96.8,305.14 L97.0,305.15 L97.2,304.75 L97.5,304.60 L97.8,304.30 L98.0,304.44 L98.2,304.64 L98.5,304.22 L98.8,304.16 L99.0,304.70 L99.2,304.93 L99.5,304.90 L99.8,304.91 L100.0,304.91 L100.2,305.09 L100.5,305.00 L100.8,304.85 L101.0,304.93 L101.2,305.11 L101.5,305.54 L101.8,305.62 L102.0,305.10 L102.2,304.52 L102.5,304.19 L102.8,304.27 L103.0,304.53 L103.2,304.61 L103.5,304.61 L103.8,304.70 L104.0,304.58 L104.2,304.17 L104.5,304.30 L104.8,304.90 L105.0,304.93 L105.2,304.75 L105.5,304.79 L105.8,304.55 L106.0,304.17 L106.2,304.16 L106.5,304.56 L106.8,304.84 L107.0,304.97 L107.2,304.93 L107.5,304.71 L107.8,304.79 L108.0,304.89 L108.2,304.65 L108.5,304.49 L108.8,304.65 L109.0,304.90 L109.2,305.18 L109.5,305.19 L109.8,304.95 L110.0,304.78 L110.2,304.60 L110.5,304.61 L110.8,304.88 L111.0,305.10 L111.2,304.86 L111.5,304.54 L111.8,304.65 L112.0,304.63 L112.2,304.41 L112.5,304.22 L112.8,304.56 L113.0,305.13 L113.2,305.03 L113.5,304.59 L113.8,304.11 L114.0,303.96 L114.2,304.22 L114.5,304.48 L114.8,304.49 L115.0,304.32 L115.2,304.63 L115.5,304.77 L115.8,304.48 L116.0,304.37 L116.2,304.28 L116.5,304.37 L116.8,304.74 L117.0,304.77 L117.2,304.39 L117.5,304.39 L117.8,304.43 L118.0,304.06 L118.2,303.92 L118.5,303.81 L118.8,303.86 L119.0,304.19 L119.2,304.54 L119.5,304.76 L119.8,304.50 L120.0,303.90 L120.2,303.23 L120.5,302.81 L120.8,302.33 L121.0,302.05 L121.2,302.32 L121.5,302.07 L121.8,301.72 L122.0,302.12 L122.2,302.80 L122.5,303.08 L122.8,303.03 L123.0,303.19 L123.2,303.24 L123.5,303.26 L123.8,303.59 L124.0,303.62 L124.2,303.63 L124.5,303.85 L124.8,303.77 L125.0,303.76 L125.2,303.72 L125.5,303.64 L125.8,303.91 L126.0,304.05 L126.2,303.86 L126.5,304.13 L126.8,304.45 L127.0,304.16 L127.2,304.13 L127.5,304.24 L127.8,304.14 L128.0,304.10 L128.2,304.11 L128.5,304.24 L128.8,304.11 L129.0,304.07 L129.2,304.37 L129.5,304.25 L129.8,303.89 L130.0,303.75 L130.2,303.83 L130.5,304.03 L130.8,304.29 L131.0,304.24 L131.2,303.82 L131.5,303.97 L131.8,304.39 L132.0,304.35 L132.2,304.43 L132.5,304.61 L132.8,304.44 L133.0,304.22 L133.2,304.35 L133.5,304.68 L133.8,304.47 L134.0,304.05 L134.2,303.91 L134.5,303.92 L134.8,304.25 L135.0,304.32 L135.2,303.99 L135.5,303.60 L135.8,303.53 L136.0,303.92 L136.2,304.00 L136.5,303.96 L136.8,304.02 L137.0,303.78 L137.2,303.58 L137.5,303.46 L137.8,303.78 L138.0,304.37 L138.2,304.14 L138.5,303.89 L138.8,303.65 L139.0,303.12 L139.2,303.42 L139.5,303.72 L139.8,303.64 L140.0,303.55 L140.2,303.32 L140.5,303.64 L140.8,303.72 L141.0,303.06 L141.2,303.00 L141.5,303.46 L141.8,303.57 L142.0,303.53 L142.2,303.68 L142.5,303.54 L142.8,303.23 L143.0,303.16 L143.2,302.87 L143.5,302.41 L143.8,302.66 L144.0,303.39 L144.2,303.81 L144.5,303.73 L144.8,303.19 L145.0,303.09 L145.2,303.34 L145.5,303.37 L145.8,303.40 L146.0,303.25 L146.2,302.71 L146.5,302.28 L146.8,302.76 L147.0,303.52 L147.2,303.65 L147.5,303.35 L147.8,302.87 L148.0,302.52 L148.2,302.45 L148.5,302.52 L148.8,302.49 L149.0,302.53 L149.2,302.33 L149.5,301.70 L149.8,301.12 L150.0,300.66 L150.2,300.36 L150.5,299.78 L150.8,299.09 L151.0,298.76 L151.2,298.31 L151.5,297.31 L151.8,296.21 L152.0,295.59 L152.2,295.30 L152.5,294.96 L152.8,294.89 L153.0,295.30 L153.2,295.68 L153.5,296.05 L153.8,296.96 L154.0,297.63 L154.2,297.92 L154.5,299.00 L154.8,299.84 L155.0,299.90 L155.2,300.07 L155.5,300.35 L155.8,300.83 L156.0,301.28 L156.2,301.44 L156.5,301.40 L156.8,301.47 L157.0,301.67 L157.2,301.75 L157.5,301.87 L157.8,301.92 L158.0,301.90 L158.2,302.15 L158.5,302.09 L158.8,301.75 L159.0,301.93 L159.2,301.97 L159.5,301.69 L159.8,301.64 L160.0,301.75 L160.2,301.99 L160.5,302.07 L160.8,302.07 L161.0,302.21 L161.2,302.21 L161.5,302.40 L161.8,302.38 L162.0,302.08 L162.2,302.53 L162.5,302.76 L162.8,302.29 L163.0,302.07 L163.2,302.00 L163.5,301.86 L163.8,301.69 L164.0,301.64 L164.2,301.83 L164.5,301.76 L164.8,301.54 L165.0,301.53 L165.2,301.26 L165.5,300.55 L165.8,300.09 L166.0,300.14 L166.2,299.47 L166.5,298.22 L166.8,297.87 L167.0,298.28 L167.2,298.84 L167.5,299.08 L167.8,299.02 L168.0,299.33 L168.2,299.57 L168.5,299.64 L168.8,300.03 L169.0,300.32 L169.2,300.47 L169.5,300.44 L169.8,300.20 L170.0,300.28 L170.2,300.62 L170.5,300.73 L170.8,300.78 L171.0,300.86 L171.2,300.47 L171.5,300.09 L171.8,300.16 L172.0,300.26 L172.2,300.39 L172.5,300.58 L172.8,300.55 L173.0,300.44 L173.2,300.18 L173.5,299.94 L173.8,299.85 L174.0,299.59 L174.2,299.23 L174.5,298.94 L174.8,298.84 L175.0,298.79 L175.2,298.92 L175.5,299.28 L175.8,299.21 L176.0,298.50 L176.2,297.84 L176.5,297.52 L176.8,296.98 L177.0,296.32 L177.2,295.84 L177.5,295.25 L177.8,294.75 L178.0,294.22 L178.2,293.06 L178.5,291.90 L178.8,290.79 L179.0,289.01 L179.2,286.99 L179.5,285.15 L179.8,283.18 L180.0,280.59 L180.2,277.32 L180.5,273.49 L180.8,269.55 L181.0,265.27 L181.2,260.23 L181.5,254.90 L181.8,249.38 L182.0,243.74 L182.2,238.22 L182.5,232.16 L182.8,226.06 L183.0,221.01 L183.2,216.43 L183.5,212.72 L183.8,210.15 L184.0,208.57 L184.2,208.75 L184.5,210.47 L184.8,213.16 L185.0,217.00 L185.2,221.97 L185.5,227.26 L185.8,232.95 L186.0,239.26 L186.2,244.83 L186.5,249.84 L186.8,255.70 L187.0,261.69 L187.2,266.52 L187.5,270.13 L187.8,273.44 L188.0,277.17 L188.2,280.65 L188.5,283.17 L188.8,285.08 L189.0,287.02 L189.2,288.91 L189.5,290.31 L189.8,291.52 L190.0,292.80 L190.2,293.77 L190.5,294.24 L190.8,294.37 L191.0,294.71 L191.2,295.64 L191.5,296.23 L191.8,295.95 L192.0,295.71 L192.2,296.21 L192.5,297.12 L192.8,297.76 L193.0,297.83 L193.2,297.83 L193.5,298.08 L193.8,298.01 L194.0,297.54 L194.2,297.33 L194.5,297.49 L194.8,297.77 L195.0,298.02 L195.2,298.04 L195.5,298.01 L195.8,298.08 L196.0,298.43 L196.2,298.80 L196.5,298.94 L196.8,299.33 L197.0,299.13 L197.2,298.53 L197.5,298.70 L197.8,298.61 L198.0,298.27 L198.2,298.47 L198.5,298.63 L198.8,298.48 L199.0,298.30 L199.2,298.40 L199.5,298.54 L199.8,298.35 L200.0,298.18 L200.2,298.10 L200.5,298.09 L200.8,297.91 L201.0,297.81 L201.2,298.30 L201.5,298.48 L201.8,298.39 L202.0,298.20 L202.2,298.10 L202.5,298.24 L202.8,297.93 L203.0,297.80 L203.2,298.03 L203.5,298.01 L203.8,297.48 L204.0,297.03 L204.2,296.81 L204.5,296.46 L204.8,296.53 L205.0,296.90 L205.2,297.00 L205.5,296.56 L205.8,296.01 L206.0,295.67 L206.2,295.39 L206.5,295.35 L206.8,295.14 L207.0,294.58 L207.2,294.06 L207.5,293.61 L207.8,293.35 L208.0,292.87 L208.2,291.98 L208.5,291.34 L208.8,290.88 L209.0,290.25 L209.2,289.17 L209.5,287.55 L209.8,285.69 L210.0,284.17 L210.2,283.10 L210.5,281.51 L210.8,279.31 L211.0,276.82 L211.2,273.79 L211.5,270.92 L211.8,267.98 L212.0,264.39 L212.2,260.84 L212.5,257.14 L212.8,253.23 L213.0,249.07 L213.2,244.28 L213.5,239.39 L213.8,234.69 L214.0,230.42 L214.2,226.47 L214.5,222.58 L214.8,219.03 L215.0,215.82 L215.2,212.77 L215.5,210.58 L215.8,209.80 L216.0,209.54 L216.2,209.61 L216.5,211.09 L216.8,213.75 L217.0,216.59 L217.2,219.68 L217.5,223.20 L217.8,226.94 L218.0,231.11 L218.2,235.62 L218.5,239.97 L218.8,244.29 L219.0,248.71 L219.2,253.10 L219.5,257.15 L219.8,261.09 L220.0,264.93 L220.2,267.89 L220.5,270.90 L220.8,274.01 L221.0,276.40 L221.2,278.73 L221.5,280.68 L221.8,282.22 L222.0,284.18 L222.2,286.06 L222.5,287.69 L222.8,289.25 L223.0,290.60 L223.2,291.81 L223.5,292.70 L223.8,293.17 L224.0,293.61 L224.2,294.05 L224.5,294.26 L224.8,294.89 L225.0,295.76 L225.2,295.84 L225.5,295.56 L225.8,295.98 L226.0,296.74 L226.2,297.17 L226.5,297.07 L226.8,296.61 L227.0,296.67 L227.2,297.10 L227.5,297.33 L227.8,297.65 L228.0,297.99 L228.2,298.15 L228.5,298.28 L228.8,298.56 L229.0,298.74 L229.2,298.51 L229.5,298.48 L229.8,298.94 L230.0,299.11 L230.2,299.06 L230.5,298.85 L230.8,298.70 L231.0,298.96 L231.2,298.91 L231.5,299.00 L231.8,299.46 L232.0,299.51 L232.2,299.60 L232.5,300.01 L232.8,299.87 L233.0,299.20 L233.2,299.26 L233.5,299.67 L233.8,299.17 L234.0,298.77 L234.2,299.41 L234.5,300.03 L234.8,300.16 L235.0,300.02 L235.2,299.87 L235.5,299.96 L235.8,299.94 L236.0,299.90 L236.2,300.09 L236.5,300.05 L236.8,299.98 L237.0,300.35 L237.2,300.59 L237.5,300.05 L237.8,299.45 L238.0,299.71 L238.2,299.90 L238.5,299.80 L238.8,299.76 L239.0,299.68 L239.2,299.90 L239.5,299.74 L239.8,299.41 L240.0,299.41 L240.2,299.07 L240.5,298.31 L240.8,297.71 L241.0,297.77 L241.2,297.94 L241.5,297.46 L241.8,297.09 L242.0,297.66 L242.2,298.25 L242.5,298.25 L242.8,298.03 L243.0,298.03 L243.2,298.46 L243.5,299.10 L243.8,299.71 L244.0,299.97 L244.2,299.72 L244.5,299.61 L244.8,299.81 L245.0,300.19 L245.2,300.52 L245.5,300.47 L245.8,300.68 L246.0,300.79 L246.2,300.64 L246.5,300.81 L246.8,300.69 L247.0,300.35 L247.2,300.38 L247.5,300.81 L247.8,300.82 L248.0,300.49 L248.2,300.68 L248.5,300.75 L248.8,300.57 L249.0,300.70 L249.2,300.82 L249.5,300.95 L249.8,300.96 L250.0,301.01 L250.2,301.44 L250.5,301.34 L250.8,300.59 L251.0,300.28 L251.2,300.59 L251.5,300.92 L251.8,301.19 L252.0,301.53 L252.2,301.58 L252.5,301.31 L252.8,301.12 L253.0,300.92 L253.2,301.04 L253.5,301.35 L253.8,301.16 L254.0,300.91 L254.2,300.94 L254.5,301.15 L254.8,301.22 L255.0,300.92 L255.2,300.75 L255.5,300.86 L255.8,300.81 L256.0,300.87 L256.2,301.11 L256.5,300.84 L256.8,300.69 L257.0,301.34 L257.2,301.82 L257.5,302.10 L257.8,301.94 L258.0,301.10 L258.2,300.83 L258.5,301.21 L258.8,301.32 L259.0,301.04 L259.2,301.09 L259.5,301.23 L259.8,301.03 L260.0,301.19 L260.2,301.40 L260.5,301.28 L260.8,301.26 L261.0,300.94 L261.2,300.54 L261.5,300.67 L261.8,300.89 L262.0,300.94 L262.2,301.07 L262.5,301.21 L262.8,301.21 L263.0,301.07 L263.2,300.90 L263.5,300.85 L263.8,300.80 L264.0,300.99 L264.2,301.04 L264.5,300.69 L264.8,300.56 L265.0,300.47 L265.2,300.69 L265.5,301.07 L265.8,301.19 L266.0,301.18 L266.2,300.84 L266.5,300.64 L266.8,300.72 L267.0,300.80 L267.2,300.78 L267.5,300.77 L267.8,301.03 L268.0,301.24 L268.2,301.09 L268.5,300.88 L268.8,300.70 L269.0,300.42 L269.2,300.20 L269.5,300.35 L269.8,300.43 L270.0,300.39 L270.2,300.68 L270.5,300.66 L270.8,300.41 L271.0,300.61 L271.2,300.96 L271.5,301.02 L271.8,301.16 L272.0,301.65 L272.2,301.51 L272.5,300.88 L272.8,300.75 L273.0,300.51 L273.2,300.23 L273.5,300.60 L273.8,300.97 L274.0,300.79 L274.2,300.82 L274.5,301.21 L274.8,301.14 L275.0,301.12 L275.2,301.38 L275.5,301.10 L275.8,300.53 L276.0,300.35 L276.2,300.56 L276.5,300.93 L276.8,301.22 L277.0,301.19 L277.2,300.79 L277.5,300.61 L277.8,300.90 L278.0,300.79 L278.2,300.31 L278.5,300.30 L278.8,300.70 L279.0,301.00 L279.2,300.85 L279.5,300.78 L279.8,300.84 L280.0,300.48 L280.2,300.64 L280.5,301.23 L280.8,301.05 L281.0,300.66 L281.2,300.90 L281.5,301.21 L281.8,300.91 L282.0,300.72 L282.2,300.76 L282.5,300.43 L282.8,300.27 L283.0,300.27 L283.2,300.30 L283.5,300.53 L283.8,300.52 L284.0,300.34 L284.2,300.65 L284.5,300.98 L284.8,300.85 L285.0,300.78 L285.2,300.64 L285.5,300.34 L285.8,300.33 L286.0,300.55 L286.2,300.94 L286.5,301.38 L286.8,301.18 L287.0,300.53 L287.2,300.15 L287.5,299.80 L287.8,299.85 L288.0,300.57 L288.2,300.50 L288.5,299.96 L288.8,300.49 L289.0,301.15 L289.2,300.95 L289.5,300.63 L289.8,300.40 L290.0,300.02 L290.2,299.80 L290.5,299.97 L290.8,300.22 L291.0,300.37 L291.2,300.72 L291.5,300.97 L291.8,300.81 L292.0,300.52 L292.2,300.07 L292.5,300.09 L292.8,300.70 L293.0,300.81 L293.2,300.46 L293.5,299.83 L293.8,299.57 L294.0,299.62 L294.2,299.19 L294.5,299.02 L294.8,299.08 L295.0,299.05 L295.2,299.03 L295.5,298.37 L295.8,297.66 L296.0,297.41 L296.2,297.17 L296.5,297.20 L296.8,297.16 L297.0,297.01 L297.2,297.20 L297.5,297.53 L297.8,298.23 L298.0,298.97 L298.2,299.24 L298.5,299.39 L298.8,299.70 L299.0,300.08 L299.2,300.36 L299.5,300.06 L299.8,299.62 L300.0,299.53 L300.2,299.53 L300.5,299.63 L300.8,299.87 L301.0,300.14 L301.2,300.18 L301.5,300.03 L301.8,299.86 L302.0,299.60 L302.2,299.21 L302.5,298.92 L302.8,299.15 L303.0,299.89 L303.2,300.23 L303.5,299.74 L303.8,299.51 L304.0,299.40 L304.2,299.23 L304.5,299.52 L304.8,299.48 L305.0,298.88 L305.2,298.73 L305.5,299.03 L305.8,299.24 L306.0,299.48 L306.2,299.59 L306.5,299.54 L306.8,299.65 L307.0,299.91 L307.2,300.01 L307.5,299.89 L307.8,299.41 L308.0,298.79 L308.2,298.61 L308.5,298.88 L308.8,299.06 L309.0,299.31 L309.2,299.65 L309.5,299.39 L309.8,299.07 L310.0,298.78 L310.2,298.61 L310.5,298.96 L310.8,299.13 L311.0,298.79 L311.2,298.36 L311.5,298.28 L311.8,298.47 L312.0,298.33 L312.2,297.95 L312.5,298.12 L312.8,298.20 L313.0,297.58 L313.2,297.35 L313.5,297.54 L313.8,297.43 L314.0,297.21 L314.2,296.96 L314.5,296.46 L314.8,295.46 L315.0,294.63 L315.2,294.40 L315.5,293.97 L315.8,293.27 L316.0,292.60 L316.2,291.83 L316.5,290.69 L316.8,289.57 L317.0,288.31 L317.2,286.62 L317.5,284.94 L317.8,283.09 L318.0,281.37 L318.2,279.79 L318.5,277.58 L318.8,275.53 L319.0,274.34 L319.2,273.47 L319.5,272.67 L319.8,272.17 L320.0,271.98 L320.2,272.49 L320.5,274.24 L320.8,275.97 L321.0,276.87 L321.2,278.30 L321.5,280.52 L321.8,281.83 L322.0,282.77 L322.2,284.65 L322.5,286.44 L322.8,288.24 L323.0,290.28 L323.2,291.38 L323.5,291.92 L323.8,292.89 L324.0,293.74 L324.2,294.12 L324.5,294.63 L324.8,295.20 L325.0,295.77 L325.2,296.03 L325.5,296.23 L325.8,296.81 L326.0,297.35 L326.2,297.53 L326.5,297.32 L326.8,297.19 L327.0,297.44 L327.2,297.71 L327.5,297.64 L327.8,297.85 L328.0,298.32 L328.2,298.33 L328.5,298.22 L328.8,298.26 L329.0,298.38 L329.2,298.40 L329.5,297.97 L329.8,297.88 L330.0,298.29 L330.2,298.54 L330.5,298.84 L330.8,299.27 L331.0,299.62 L331.2,299.38 L331.5,298.97 L331.8,298.69 L332.0,298.35 L332.2,298.41 L332.5,298.55 L332.8,298.30 L333.0,297.75 L333.2,297.84 L333.5,298.58 L333.8,298.75 L334.0,298.57 L334.2,298.53 L334.5,298.45 L334.8,298.60 L335.0,298.83 L335.2,298.88 L335.5,298.81 L335.8,298.39 L336.0,298.03 L336.2,298.28 L336.5,298.46 L336.8,298.36 L337.0,298.42 L337.2,298.70 L337.5,299.09 L337.8,299.31 L338.0,299.10 L338.2,298.75 L338.5,298.94 L338.8,299.21 L339.0,298.99 L339.2,298.66 L339.5,298.65 L339.8,298.92 L340.0,299.07 L340.2,299.05 L340.5,299.15 L340.8,299.32 L341.0,298.85 L341.2,298.40 L341.5,298.68 L341.8,299.08 L342.0,299.09 L342.2,298.68 L342.5,298.44 L342.8,298.49 L343.0,298.23 L343.2,298.12 L343.5,298.76 L343.8,299.03 L344.0,298.48 L344.2,298.24 L344.5,298.35 L344.8,298.50 L345.0,298.66 L345.2,298.65 L345.5,298.53 L345.8,298.14 L346.0,297.79 L346.2,297.73 L346.5,298.01 L346.8,298.62 L347.0,298.90 L347.2,298.75 L347.5,298.31 L347.8,298.09 L348.0,298.35 L348.2,298.51 L348.5,299.05 L348.8,299.39 L349.0,298.94 L349.2,298.75 L349.5,298.54 L349.8,297.99 L350.0,297.82 L350.2,298.08 L350.5,298.48 L350.8,298.68 L351.0,298.70 L351.2,298.63 L351.5,298.16 L351.8,297.86 L352.0,298.12 L352.2,298.09 L352.5,298.02 L352.8,298.23 L353.0,298.03 L353.2,297.93 L353.5,298.03 L353.8,298.02 L354.0,298.26 L354.2,298.43 L354.5,298.33 L354.8,298.12 L355.0,297.85 L355.2,297.83 L355.5,298.23 L355.8,298.58 L356.0,298.48 L356.2,298.34 L356.5,298.48 L356.8,298.26 L357.0,297.70 L357.2,297.83 L357.5,298.06 L357.8,297.68 L358.0,297.57 L358.2,297.74 L358.5,297.80 L358.8,297.81 L359.0,297.64 L359.2,297.88 L359.5,298.28 L359.8,297.70 L360.0,296.72 L360.2,296.33 L360.5,296.38 L360.8,296.31 L361.0,296.16 L361.2,296.51 L361.5,296.89 L361.8,296.44 L362.0,295.56 L362.2,295.08 L362.5,294.76 L362.8,294.64 L363.0,294.59 L363.2,293.84 L363.5,293.19 L363.8,293.14 L364.0,293.10 L364.2,293.02 L364.5,292.53 L364.8,291.35 L365.0,290.56 L365.2,290.75 L365.5,291.01 L365.8,290.58 L366.0,289.63 L366.2,289.55 L366.5,290.38 L366.8,290.81 L367.0,290.69 L367.2,290.67 L367.5,290.87 L367.8,290.76 L368.0,290.83 L368.2,291.48 L368.5,292.19 L368.8,292.86 L369.0,293.04 L369.2,292.94 L369.5,293.52 L369.8,293.98 L370.0,293.98 L370.2,294.38 L370.5,294.96 L370.8,295.20 L371.0,295.16 L371.2,295.20 L371.5,295.49 L371.8,295.92 L372.0,296.06 L372.2,296.21 L372.5,296.55 L372.8,296.46 L373.0,296.49 L373.2,297.08 L373.5,297.38 L373.8,297.07 L374.0,296.93 L374.2,297.15 L374.5,296.84 L374.8,296.52 L375.0,297.15 L375.2,297.67 L375.5,297.48 L375.8,297.60 L376.0,297.83 L376.2,297.55 L376.5,297.31 L376.8,297.44 L377.0,297.51 L377.2,297.42 L377.5,297.55 L377.8,297.62 L378.0,297.55 L378.2,297.72 L378.5,297.72 L378.8,297.48 L379.0,297.44 L379.2,297.52 L379.5,297.49 L379.8,297.33 L380.0,297.26 L380.2,297.56 L380.5,297.90 L380.8,297.76 L381.0,297.54 L381.2,297.73 L381.5,297.73 L381.8,297.52 L382.0,297.62 L382.2,297.60 L382.5,297.54 L382.8,297.62 L383.0,297.30 L383.2,297.02 L383.5,297.24 L383.8,297.36 L384.0,297.57 L384.2,297.81 L384.5,297.63 L384.8,297.53 L385.0,297.71 L385.2,297.71 L385.5,297.42 L385.8,297.45 L386.0,297.95 L386.2,298.20 L386.5,298.03 L386.8,297.82 L387.0,297.60 L387.2,297.59 L387.5,297.52 L387.8,297.33 L388.0,297.47 L388.2,297.27 L388.5,296.93 L388.8,297.34 L389.0,297.78 L389.2,297.83 L389.5,297.64 L389.8,297.30 L390.0,297.28 L390.2,297.39 L390.5,297.33 L390.8,297.58 L391.0,297.82 L391.2,297.54 L391.5,297.70 L391.8,298.11 L392.0,297.74 L392.2,297.38 L392.5,297.58 L392.8,297.71 L393.0,297.42 L393.2,297.17 L393.5,297.46 L393.8,297.97 L394.0,298.24 L394.2,297.92 L394.5,297.51 L394.8,297.59 L395.0,297.67 L395.2,297.49 L395.5,297.58 L395.8,297.84 L396.0,297.78 L396.2,297.44 L396.5,297.21 L396.8,297.05 L397.0,297.01 L397.2,297.30 L397.5,297.40 L397.8,297.55 L398.0,297.55 L398.2,297.26 L398.5,297.39 L398.8,297.55 L399.0,297.44 L399.2,297.08 L399.5,297.03 L399.8,297.39 L400.0,297.35 L400.2,296.93 L400.5,296.86 L400.8,297.12 L401.0,296.99 L401.2,296.70 L401.5,296.66 L401.8,296.83 L402.0,296.97 L402.2,296.83 L402.5,296.64 L402.8,296.75 L403.0,297.23 L403.2,297.25 L403.5,296.62 L403.8,296.31 L404.0,296.25 L404.2,296.10 L404.5,296.31 L404.8,296.51 L405.0,296.64 L405.2,297.00 L405.5,297.02 L405.8,296.50 L406.0,296.22 L406.2,296.44 L406.5,296.27 L406.8,295.63 L407.0,295.42 L407.2,295.33 L407.5,294.99 L407.8,295.21 L408.0,295.52 L408.2,295.25 L408.5,295.05 L408.8,294.96 L409.0,294.94 L409.2,294.86 L409.5,294.36 L409.8,293.76 L410.0,293.47 L410.2,293.29 L410.5,293.14 L410.8,292.80 L411.0,292.12 L411.2,291.46 L411.5,290.92 L411.8,290.29 L412.0,289.47 L412.2,288.67 L412.5,287.86 L412.8,287.27 L413.0,286.73 L413.2,285.99 L413.5,285.61 L413.8,284.82 L414.0,283.49 L414.2,282.91 L414.5,282.91 L414.8,282.84 L415.0,283.10 L415.2,283.53 L415.5,283.67 L415.8,283.85 L416.0,284.52 L416.2,285.33 L416.5,286.00 L416.8,287.06 L417.0,287.80 L417.2,287.97 L417.5,288.71 L417.8,289.51 L418.0,289.82 L418.2,290.47 L418.5,291.05 L418.8,291.25 L419.0,291.77 L419.2,292.22 L419.5,292.66 L419.8,293.23 L420.0,293.68 L420.2,294.15 L420.5,294.08 L420.8,293.80 L421.0,293.89 L421.2,294.10 L421.5,294.50 L421.8,294.52 L422.0,294.19 L422.2,294.34 L422.5,294.70 L422.8,294.62 L423.0,294.61 L423.2,295.11 L423.5,295.11 L423.8,294.80 L424.0,294.76 L424.2,294.48 L424.5,294.46 L424.8,294.60 L425.0,294.67 L425.2,294.71 L425.5,294.59 L425.8,294.94 L426.0,295.41 L426.2,295.46 L426.5,295.49 L426.8,295.12 L427.0,294.81 L427.2,295.27 L427.5,295.45 L427.8,295.12 L428.0,294.78 L428.2,294.52 L428.5,294.47 L428.8,294.67 L429.0,294.82 L429.2,294.77 L429.5,294.47 L429.8,294.13 L430.0,294.19 L430.2,294.48 L430.5,294.65 L430.8,294.58 L431.0,294.53 L431.2,294.59 L431.5,294.51 L431.8,294.66 L432.0,294.87 L432.2,294.59 L432.5,294.40 L432.8,294.72 L433.0,294.93 L433.2,294.62 L433.5,294.35 L433.8,294.55 L434.0,294.60 L434.2,294.47 L434.5,294.50 L434.8,294.57 L435.0,294.73 L435.2,294.80 L435.5,294.53 L435.8,294.33 L436.0,294.35 L436.2,294.37 L436.5,294.43 L436.8,294.38 L437.0,294.20 L437.2,294.10 L437.5,294.24 L437.8,294.10 L438.0,293.66 L438.2,293.60 L438.5,293.54 L438.8,293.19 L439.0,293.22 L439.2,293.61 L439.5,293.87 L439.8,293.66 L440.0,293.10 L440.2,292.68 L440.5,292.76 L440.8,293.04 L441.0,292.74 L441.2,292.77 L441.5,293.29 L441.8,292.97 L442.0,292.51 L442.2,292.59 L442.5,292.07 L442.8,291.33 L443.0,291.21 L443.2,291.13 L443.5,290.40 L443.8,289.73 L444.0,289.44 L444.2,288.66 L444.5,288.15 L444.8,287.92 L445.0,287.02 L445.2,285.82 L445.5,284.83 L445.8,284.18 L446.0,283.22 L446.2,281.81 L446.5,280.52 L446.8,279.22 L447.0,277.65 L447.2,276.31 L447.5,275.65 L447.8,274.93 L448.0,273.95 L448.2,273.24 L448.5,272.76 L448.8,272.47 L449.0,272.21 L449.2,272.14 L449.5,272.59 L449.8,273.46 L450.0,274.34 L450.2,275.18 L450.5,276.17 L450.8,277.10 L451.0,278.41 L451.2,280.09 L451.5,281.52 L451.8,282.64 L452.0,283.58 L452.2,284.72 L452.5,285.72 L452.8,286.22 L453.0,287.11 L453.2,288.37 L453.5,289.10 L453.8,289.24 L454.0,289.23 L454.2,289.45 L454.5,289.99 L454.8,290.52 L455.0,290.88 L455.2,291.26 L455.5,291.42 L455.8,291.29 L456.0,291.28 L456.2,291.63 L456.5,292.20 L456.8,292.29 L457.0,292.03 L457.2,292.22 L457.5,292.48 L457.8,292.84 L458.0,293.11 L458.2,292.67 L458.5,292.19 L458.8,292.31 L459.0,292.56 L459.2,292.55 L459.5,292.46 L459.8,292.41 L460.0,292.43 L460.2,292.62 L460.5,292.91 L460.8,293.04 L461.0,292.78 L461.2,292.37 L461.5,292.34 L461.8,292.48 L462.0,292.47 L462.2,292.42 L462.5,292.72 L462.8,293.12 L463.0,292.80 L463.2,292.43 L463.5,292.90 L463.8,293.50 L464.0,293.21 L464.2,292.66 L464.5,292.65 L464.8,292.80 L465.0,292.60 L465.2,292.23 L465.5,292.32 L465.8,292.44 L466.0,292.33 L466.2,292.56 L466.5,292.93 L466.8,293.18 L467.0,293.18 L467.2,292.94 L467.5,292.93 L467.8,293.15 L468.0,293.17 L468.2,292.84 L468.5,292.67 L468.8,292.95 L469.0,293.09 L469.2,292.99 L469.5,293.14 L469.8,293.18 L470.0,292.72 L470.2,292.33 L470.5,292.38 L470.8,292.79 L471.0,292.94 L471.2,292.93 L471.5,293.02 L471.8,292.80 L472.0,292.65 L472.2,292.85 L472.5,292.92 L472.8,292.87 L473.0,292.96 L473.2,292.61 L473.5,292.15 L473.8,292.24 L474.0,292.69 L474.2,292.94 L474.5,292.66 L474.8,292.76 L475.0,293.12 L475.2,292.76 L475.5,292.27 L475.8,292.01 L476.0,292.02 L476.2,292.53 L476.5,292.79 L476.8,292.38 L477.0,292.15 L477.2,292.36 L477.5,292.43 L477.8,292.42 L478.0,292.49 L478.2,292.39 L478.5,292.40 L478.8,292.32 L479.0,291.82 L479.2,291.73 L479.5,291.90 L479.8,292.09 L480.0,292.20 L480.2,291.97 L480.5,292.22 L480.8,292.53 L481.0,292.44 L481.2,292.29 L481.5,292.00 L481.8,292.10 L482.0,292.43 L482.2,292.11 L482.5,291.56 L482.8,291.39 L483.0,291.54" fill="none" stroke="#9f3712" stroke-width="3.3" stroke-linejoin="round" stroke-linecap="butt"/>
<path d="M46.5,453.36 L46.8,453.31 L47.0,453.41 L47.2,453.55 L47.5,453.59 L47.8,453.48 L48.0,453.34 L48.2,453.35 L48.5,453.51 L48.8,453.60 L49.0,453.42 L49.2,453.21 L49.5,453.28 L49.8,453.45 L50.0,453.34 L50.2,453.15 L50.5,453.15 L50.8,453.13 L51.0,453.13 L51.2,453.14 L51.5,453.17 L51.8,453.23 L52.0,453.20 L52.2,453.15 L52.5,453.22 L52.8,453.17 L53.0,453.01 L53.2,452.97 L53.5,452.99 L53.8,452.96 L54.0,452.93 L54.2,452.98 L54.5,453.01 L54.8,452.92 L55.0,452.85 L55.2,452.82 L55.5,452.75 L55.8,452.75 L56.0,452.80 L56.2,452.83 L56.5,452.94 L56.8,452.85 L57.0,452.66 L57.2,452.65 L57.5,452.66 L57.8,452.67 L58.0,452.60 L58.2,452.47 L58.5,452.51 L58.8,452.62 L59.0,452.60 L59.2,452.51 L59.5,452.47 L59.8,452.39 L60.0,452.31 L60.2,452.38 L60.5,452.49 L60.8,452.57 L61.0,452.58 L61.2,452.46 L61.5,452.35 L61.8,452.25 L62.0,452.09 L62.2,452.09 L62.5,452.12 L62.8,452.00 L63.0,451.91 L63.2,451.89 L63.5,451.83 L63.8,451.72 L64.0,451.65 L64.2,451.63 L64.5,451.52 L64.8,451.43 L65.0,451.37 L65.2,451.18 L65.5,450.99 L65.8,451.01 L66.0,451.07 L66.2,450.93 L66.5,450.70 L66.8,450.63 L67.0,450.59 L67.2,450.40 L67.5,450.28 L67.8,450.23 L68.0,450.06 L68.2,449.93 L68.5,449.83 L68.8,449.66 L69.0,449.57 L69.2,449.46 L69.5,449.12 L69.8,448.73 L70.0,448.50 L70.2,448.40 L70.5,448.26 L70.8,448.02 L71.0,447.71 L71.2,447.36 L71.5,447.03 L71.8,446.72 L72.0,446.40 L72.2,445.99 L72.5,445.64 L72.8,445.27 L73.0,444.57 L73.2,443.85 L73.5,443.31 L73.8,442.50 L74.0,441.51 L74.2,440.57 L74.5,439.38 L74.8,437.94 L75.0,436.33 L75.2,434.54 L75.5,432.57 L75.8,430.22 L76.0,427.34 L76.2,424.16 L76.5,420.44 L76.8,416.01 L77.0,411.14 L77.2,405.68 L77.5,399.53 L77.8,392.89 L78.0,385.76 L78.2,378.04 L78.5,369.82 L78.8,361.44 L79.0,353.08 L79.2,344.98 L79.5,337.60 L79.8,331.37 L80.0,326.86 L80.2,324.42 L80.5,324.12 L80.8,326.13 L81.0,330.27 L81.2,336.11 L81.5,343.35 L81.8,351.50 L82.0,360.00 L82.2,368.47 L82.5,376.55 L82.8,384.37 L83.0,391.96 L83.2,398.73 L83.5,404.79 L83.8,410.43 L84.0,415.30 L84.2,419.52 L84.5,423.42 L84.8,426.95 L85.0,429.96 L85.2,432.38 L85.5,434.50 L85.8,436.39 L86.0,437.97 L86.2,439.37 L86.5,440.70 L86.8,441.87 L87.0,442.72 L87.2,443.35 L87.5,444.03 L87.8,444.75 L88.0,445.31 L88.2,445.75 L88.5,446.31 L88.8,446.99 L89.0,447.37 L89.2,447.60 L89.5,448.05 L89.8,448.32 L90.0,448.36 L90.2,448.64 L90.5,449.05 L90.8,449.35 L91.0,449.55 L91.2,449.72 L91.5,450.02 L91.8,450.41 L92.0,450.58 L92.2,450.48 L92.5,450.64 L92.8,450.94 L93.0,450.92 L93.2,450.94 L93.5,451.17 L93.8,451.38 L94.0,451.54 L94.2,451.55 L94.5,451.57 L94.8,451.72 L95.0,451.94 L95.2,452.08 L95.5,452.00 L95.8,451.88 L96.0,452.04 L96.2,452.27 L96.5,452.20 L96.8,452.09 L97.0,452.26 L97.2,452.51 L97.5,452.61 L97.8,452.59 L98.0,452.71 L98.2,452.79 L98.5,452.73 L98.8,452.85 L99.0,453.11 L99.2,453.21 L99.5,453.14 L99.8,453.13 L100.0,453.17 L100.2,453.13 L100.5,453.07 L100.8,453.08 L101.0,453.17 L101.2,453.37 L101.5,453.54 L101.8,453.49 L102.0,453.53 L102.2,453.57 L102.5,453.52 L102.8,453.45 L103.0,453.33 L103.2,453.46 L103.5,453.51 L103.8,453.33 L104.0,453.42 L104.2,453.66 L104.5,453.63 L104.8,453.54 L105.0,453.59 L105.2,453.69 L105.5,453.82 L105.8,453.84 L106.0,453.76 L106.2,453.74 L106.5,453.87 L106.8,454.01 L107.0,454.02 L107.2,453.98 L107.5,453.88 L107.8,453.79 L108.0,453.87 L108.2,454.02 L108.5,454.01 L108.8,453.87 L109.0,453.85 L109.2,453.98 L109.5,454.04 L109.8,454.03 L110.0,454.08 L110.2,454.17 L110.5,454.26 L110.8,454.35 L111.0,454.42 L111.2,454.46 L111.5,454.40 L111.8,454.30 L112.0,454.32 L112.2,454.38 L112.5,454.39 L112.8,454.49 L113.0,454.51 L113.2,454.33 L113.5,454.31 L113.8,454.51 L114.0,454.59 L114.2,454.52 L114.5,454.52 L114.8,454.69 L115.0,454.71 L115.2,454.59 L115.5,454.56 L115.8,454.58 L116.0,454.57 L116.2,454.50 L116.5,454.51 L116.8,454.60 L117.0,454.54 L117.2,454.39 L117.5,454.13 L117.8,453.83 L118.0,453.67 L118.2,453.38 L118.5,452.95 L118.8,452.50 L119.0,452.08 L119.2,451.79 L119.5,451.54 L119.8,451.50 L120.0,451.80 L120.2,452.34 L120.5,452.86 L120.8,453.20 L121.0,453.61 L121.2,454.09 L121.5,454.43 L121.8,454.72 L122.0,454.86 L122.2,454.88 L122.5,455.01 L122.8,455.21 L123.0,455.32 L123.2,455.34 L123.5,455.49 L123.8,455.59 L124.0,455.41 L124.2,455.25 L124.5,455.23 L124.8,455.27 L125.0,455.35 L125.2,455.37 L125.5,455.43 L125.8,455.45 L126.0,455.33 L126.2,455.49 L126.5,455.85 L126.8,455.91 L127.0,455.84 L127.2,455.89 L127.5,455.98 L127.8,455.93 L128.0,455.78 L128.2,455.71 L128.5,455.75 L128.8,455.77 L129.0,455.76 L129.2,455.82 L129.5,455.89 L129.8,455.97 L130.0,455.99 L130.2,455.92 L130.5,456.04 L130.8,456.22 L131.0,456.22 L131.2,456.27 L131.5,456.34 L131.8,456.35 L132.0,456.22 L132.2,456.07 L132.5,456.09 L132.8,456.10 L133.0,456.05 L133.2,456.08 L133.5,456.06 L133.8,456.09 L134.0,456.26 L134.2,456.32 L134.5,456.25 L134.8,456.23 L135.0,456.29 L135.2,456.34 L135.5,456.38 L135.8,456.42 L136.0,456.46 L136.2,456.55 L136.5,456.61 L136.8,456.57 L137.0,456.49 L137.2,456.51 L137.5,456.61 L137.8,456.62 L138.0,456.51 L138.2,456.29 L138.5,456.32 L138.8,456.62 L139.0,456.84 L139.2,456.93 L139.5,456.91 L139.8,456.84 L140.0,456.75 L140.2,456.73 L140.5,456.83 L140.8,456.87 L141.0,456.91 L141.2,456.96 L141.5,457.00 L141.8,457.01 L142.0,456.93 L142.2,456.88 L142.5,456.88 L142.8,457.02 L143.0,457.16 L143.2,457.16 L143.5,457.21 L143.8,457.26 L144.0,457.26 L144.2,457.20 L144.5,457.11 L144.8,457.23 L145.0,457.33 L145.2,457.22 L145.5,457.16 L145.8,457.19 L146.0,457.21 L146.2,457.27 L146.5,457.39 L146.8,457.29 L147.0,457.26 L147.2,457.51 L147.5,457.58 L147.8,457.52 L148.0,457.48 L148.2,457.42 L148.5,457.45 L148.8,457.58 L149.0,457.66 L149.2,457.66 L149.5,457.57 L149.8,457.51 L150.0,457.58 L150.2,457.75 L150.5,457.78 L150.8,457.64 L151.0,457.64 L151.2,457.80 L151.5,457.85 L151.8,457.74 L152.0,457.61 L152.2,457.61 L152.5,457.70 L152.8,457.69 L153.0,457.70 L153.2,457.87 L153.5,457.94 L153.8,457.85 L154.0,457.77 L154.2,457.89 L154.5,457.96 L154.8,457.85 L155.0,457.93 L155.2,458.01 L155.5,457.99 L155.8,458.03 L156.0,458.08 L156.2,458.16 L156.5,458.17 L156.8,458.22 L157.0,458.33 L157.2,458.35 L157.5,458.24 L157.8,458.06 L158.0,458.09 L158.2,458.28 L158.5,458.33 L158.8,458.29 L159.0,458.26 L159.2,458.20 L159.5,458.19 L159.8,458.21 L160.0,458.26 L160.2,458.26 L160.5,458.24 L160.8,458.39 L161.0,458.47 L161.2,458.31 L161.5,458.30 L161.8,458.42 L162.0,458.47 L162.2,458.54 L162.5,458.50 L162.8,458.43 L163.0,458.52 L163.2,458.62 L163.5,458.59 L163.8,458.52 L164.0,458.40 L164.2,458.26 L164.5,458.36 L164.8,458.59 L165.0,458.63 L165.2,458.58 L165.5,458.53 L165.8,458.47 L166.0,458.45 L166.2,458.44 L166.5,458.46 L166.8,458.45 L167.0,458.48 L167.2,458.54 L167.5,458.55 L167.8,458.60 L168.0,458.63 L168.2,458.67 L168.5,458.63 L168.8,458.41 L169.0,458.38 L169.2,458.60 L169.5,458.80 L169.8,458.86 L170.0,458.81 L170.2,458.68 L170.5,458.60 L170.8,458.68 L171.0,458.67 L171.2,458.52 L171.5,458.49 L171.8,458.60 L172.0,458.53 L172.2,458.39 L172.5,458.54 L172.8,458.68 L173.0,458.68 L173.2,458.72 L173.5,458.69 L173.8,458.63 L174.0,458.67 L174.2,458.65 L174.5,458.61 L174.8,458.76 L175.0,458.80 L175.2,458.58 L175.5,458.42 L175.8,458.59 L176.0,458.84 L176.2,458.81 L176.5,458.69 L176.8,458.63 L177.0,458.53 L177.2,458.53 L177.5,458.70 L177.8,458.71 L178.0,458.55 L178.2,458.55 L178.5,458.66 L178.8,458.76 L179.0,458.87 L179.2,458.98 L179.5,459.04 L179.8,459.04 L180.0,458.94 L180.2,458.74 L180.5,458.76 L180.8,458.92 L181.0,458.91 L181.2,458.75 L181.5,458.55 L181.8,458.59 L182.0,458.83 L182.2,458.89 L182.5,458.81 L182.8,458.70 L183.0,458.67 L183.2,458.85 L183.5,459.04 L183.8,459.06 L184.0,458.92 L184.2,458.78 L184.5,458.79 L184.8,458.99 L185.0,459.04 L185.2,458.88 L185.5,458.85 L185.8,458.84 L186.0,458.67 L186.2,458.55 L186.5,458.71 L186.8,458.80 L187.0,458.68 L187.2,458.52 L187.5,458.52 L187.8,458.80 L188.0,458.92 L188.2,458.82 L188.5,458.74 L188.8,458.71 L189.0,458.72 L189.2,458.72 L189.5,458.71 L189.8,458.73 L190.0,458.81 L190.2,458.80 L190.5,458.64 L190.8,458.61 L191.0,458.56 L191.2,458.39 L191.5,458.36 L191.8,458.49 L192.0,458.46 L192.2,458.43 L192.5,458.45 L192.8,458.38 L193.0,458.36 L193.2,458.40 L193.5,458.43 L193.8,458.33 L194.0,458.17 L194.2,458.10 L194.5,457.98 L194.8,457.78 L195.0,457.63 L195.2,457.39 L195.5,457.04 L195.8,456.80 L196.0,456.50 L196.2,456.06 L196.5,455.55 L196.8,454.84 L197.0,454.10 L197.2,453.36 L197.5,452.55 L197.8,451.76 L198.0,451.08 L198.2,450.46 L198.5,449.94 L198.8,449.71 L199.0,449.52 L199.2,449.40 L199.5,449.68 L199.8,450.12 L200.0,450.70 L200.2,451.41 L200.5,451.93 L200.8,452.34 L201.0,452.67 L201.2,453.02 L201.5,453.47 L201.8,453.77 L202.0,453.94 L202.2,454.07 L202.5,454.15 L202.8,454.08 L203.0,453.76 L203.2,453.27 L203.5,452.66 L203.8,452.03 L204.0,451.21 L204.2,450.27 L204.5,449.30 L204.8,447.96 L205.0,446.53 L205.2,445.26 L205.5,443.61 L205.8,441.51 L206.0,439.56 L206.2,437.68 L206.5,435.32 L206.8,432.89 L207.0,430.99 L207.2,429.38 L207.5,427.86 L207.8,426.74 L208.0,426.22 L208.2,426.20 L208.5,426.65 L208.8,427.74 L209.0,429.39 L209.2,431.27 L209.5,433.43 L209.8,435.72 L210.0,437.76 L210.2,439.67 L210.5,441.55 L210.8,443.33 L211.0,444.79 L211.2,445.97 L211.5,447.18 L211.8,448.23 L212.0,448.81 L212.2,449.07 L212.5,449.18 L212.8,449.17 L213.0,449.23 L213.2,449.18 L213.5,448.72 L213.8,448.14 L214.0,447.69 L214.2,447.32 L214.5,447.02 L214.8,446.84 L215.0,446.94 L215.2,447.42 L215.5,448.03 L215.8,448.61 L216.0,449.48 L216.2,450.47 L216.5,451.31 L216.8,452.24 L217.0,453.24 L217.2,454.13 L217.5,454.85 L217.8,455.51 L218.0,456.12 L218.2,456.52 L218.5,456.81 L218.8,457.26 L219.0,457.69 L219.2,457.95 L219.5,458.26 L219.8,458.56 L220.0,458.69 L220.2,458.71 L220.5,458.77 L220.8,458.87 L221.0,458.89 L221.2,458.99 L221.5,459.17 L221.8,459.28 L222.0,459.43 L222.2,459.45 L222.5,459.39 L222.8,459.51 L223.0,459.55 L223.2,459.41 L223.5,459.36 L223.8,459.47 L224.0,459.63 L224.2,459.73 L224.5,459.70 L224.8,459.66 L225.0,459.75 L225.2,459.95 L225.5,460.01 L225.8,459.87 L226.0,459.81 L226.2,459.94 L226.5,460.02 L226.8,460.10 L227.0,460.22 L227.2,460.14 L227.5,459.94 L227.8,459.99 L228.0,460.18 L228.2,460.24 L228.5,460.22 L228.8,460.14 L229.0,460.09 L229.2,460.25 L229.5,460.40 L229.8,460.29 L230.0,460.15 L230.2,460.16 L230.5,460.23 L230.8,460.35 L231.0,460.52 L231.2,460.59 L231.5,460.45 L231.8,460.35 L232.0,460.38 L232.2,460.39 L232.5,460.38 L232.8,460.41 L233.0,460.39 L233.2,460.37 L233.5,460.45 L233.8,460.43 L234.0,460.41 L234.2,460.49 L234.5,460.59 L234.8,460.71 L235.0,460.68 L235.2,460.56 L235.5,460.49 L235.8,460.55 L236.0,460.63 L236.2,460.62 L236.5,460.56 L236.8,460.48 L237.0,460.60 L237.2,460.76 L237.5,460.74 L237.8,460.74 L238.0,460.74 L238.2,460.62 L238.5,460.58 L238.8,460.74 L239.0,460.87 L239.2,460.83 L239.5,460.77 L239.8,460.80 L240.0,460.77 L240.2,460.55 L240.5,460.41 L240.8,460.49 L241.0,460.59 L241.2,460.63 L241.5,460.64 L241.8,460.71 L242.0,460.85 L242.2,460.88 L242.5,460.94 L242.8,461.00 L243.0,460.89 L243.2,460.88 L243.5,460.94 L243.8,460.77 L244.0,460.75 L244.2,460.96 L244.5,461.02 L244.8,461.00 L245.0,461.02 L245.2,460.96 L245.5,460.84 L245.8,460.72 L246.0,460.66 L246.2,460.68 L246.5,460.65 L246.8,460.56 L247.0,460.67 L247.2,460.67 L247.5,460.42 L247.8,460.37 L248.0,460.48 L248.2,460.43 L248.5,460.41 L248.8,460.57 L249.0,460.68 L249.2,460.66 L249.5,460.72 L249.8,460.89 L250.0,461.06 L250.2,461.22 L250.5,461.27 L250.8,461.18 L251.0,461.13 L251.2,461.16 L251.5,461.22 L251.8,461.20 L252.0,461.08 L252.2,461.02 L252.5,461.10 L252.8,461.29 L253.0,461.44 L253.2,461.34 L253.5,461.17 L253.8,461.17 L254.0,461.26 L254.2,461.29 L254.5,461.34 L254.8,461.40 L255.0,461.34 L255.2,461.17 L255.5,461.09 L255.8,461.13 L256.0,461.16 L256.2,461.27 L256.5,461.32 L256.8,461.24 L257.0,461.28 L257.2,461.43 L257.5,461.57 L257.8,461.43 L258.0,461.26 L258.2,461.37 L258.5,461.46 L258.8,461.40 L259.0,461.41 L259.2,461.50 L259.5,461.55 L259.8,461.47 L260.0,461.36 L260.2,461.31 L260.5,461.23 L260.8,461.23 L261.0,461.30 L261.2,461.34 L261.5,461.52 L261.8,461.74 L262.0,461.63 L262.2,461.35 L262.5,461.23 L262.8,461.27 L263.0,461.25 L263.2,461.29 L263.5,461.49 L263.8,461.56 L264.0,461.73 L264.2,461.90 L264.5,461.75 L264.8,461.62 L265.0,461.61 L265.2,461.55 L265.5,461.50 L265.8,461.60 L266.0,461.70 L266.2,461.59 L266.5,461.43 L266.8,461.40 L267.0,461.49 L267.2,461.63 L267.5,461.73 L267.8,461.79 L268.0,461.80 L268.2,461.76 L268.5,461.78 L268.8,461.80 L269.0,461.70 L269.2,461.63 L269.5,461.68 L269.8,461.59 L270.0,461.59 L270.2,461.74 L270.5,461.82 L270.8,461.90 L271.0,461.79 L271.2,461.66 L271.5,461.69 L271.8,461.78 L272.0,461.95 L272.2,462.01 L272.5,461.87 L272.8,461.74 L273.0,461.78 L273.2,461.81 L273.5,461.67 L273.8,461.66 L274.0,461.82 L274.2,461.84 L274.5,461.74 L274.8,461.60 L275.0,461.59 L275.2,461.75 L275.5,461.71 L275.8,461.53 L276.0,461.51 L276.2,461.67 L276.5,461.88 L276.8,461.81 L277.0,461.72 L277.2,461.90 L277.5,461.89 L277.8,461.55 L278.0,461.46 L278.2,461.65 L278.5,461.69 L278.8,461.64 L279.0,461.71 L279.2,461.87 L279.5,461.94 L279.8,461.84 L280.0,461.74 L280.2,461.74 L280.5,461.69 L280.8,461.63 L281.0,461.72 L281.2,461.73 L281.5,461.70 L281.8,461.75 L282.0,461.82 L282.2,461.92 L282.5,461.91 L282.8,461.69 L283.0,461.56 L283.2,461.59 L283.5,461.64 L283.8,461.66 L284.0,461.61 L284.2,461.66 L284.5,461.78 L284.8,461.78 L285.0,461.76 L285.2,461.83 L285.5,461.72 L285.8,461.52 L286.0,461.56 L286.2,461.62 L286.5,461.54 L286.8,461.51 L287.0,461.57 L287.2,461.62 L287.5,461.67 L287.8,461.75 L288.0,461.68 L288.2,461.49 L288.5,461.47 L288.8,461.53 L289.0,461.49 L289.2,461.51 L289.5,461.59 L289.8,461.63 L290.0,461.64 L290.2,461.60 L290.5,461.50 L290.8,461.44 L291.0,461.40 L291.2,461.40 L291.5,461.37 L291.8,461.17 L292.0,461.12 L292.2,461.33 L292.5,461.42 L292.8,461.31 L293.0,461.22 L293.2,461.24 L293.5,461.29 L293.8,461.32 L294.0,461.34 L294.2,461.22 L294.5,461.13 L294.8,461.14 L295.0,461.10 L295.2,461.00 L295.5,460.89 L295.8,460.95 L296.0,461.02 L296.2,460.94 L296.5,460.94 L296.8,460.97 L297.0,460.99 L297.2,461.00 L297.5,460.85 L297.8,460.71 L298.0,460.59 L298.2,460.39 L298.5,460.39 L298.8,460.51 L299.0,460.56 L299.2,460.55 L299.5,460.42 L299.8,460.33 L300.0,460.33 L300.2,460.31 L300.5,460.19 L300.8,459.98 L301.0,459.92 L301.2,459.91 L301.5,459.83 L301.8,459.76 L302.0,459.60 L302.2,459.34 L302.5,459.17 L302.8,459.09 L303.0,458.95 L303.2,458.83 L303.5,458.65 L303.8,458.29 L304.0,457.92 L304.2,457.70 L304.5,457.48 L304.8,457.16 L305.0,456.80 L305.2,456.31 L305.5,455.72 L305.8,455.08 L306.0,454.45 L306.2,453.72 L306.5,452.69 L306.8,451.51 L307.0,450.26 L307.2,448.80 L307.5,446.99 L307.8,445.08 L308.0,443.07 L308.2,440.61 L308.5,437.73 L308.8,434.54 L309.0,431.07 L309.2,427.54 L309.5,423.71 L309.8,419.53 L310.0,415.43 L310.2,411.63 L310.5,408.11 L310.8,404.95 L311.0,402.48 L311.2,400.94 L311.5,400.31 L311.8,400.71 L312.0,402.29 L312.2,404.89 L312.5,408.14 L312.8,411.81 L313.0,415.77 L313.2,419.89 L313.5,423.94 L313.8,427.66 L314.0,431.18 L314.2,434.56 L314.5,437.78 L314.8,440.67 L315.0,442.98 L315.2,445.06 L315.5,447.11 L315.8,448.85 L316.0,450.30 L316.2,451.67 L316.5,452.81 L316.8,453.66 L317.0,454.39 L317.2,455.05 L317.5,455.65 L317.8,456.24 L318.0,456.87 L318.2,457.31 L318.5,457.50 L318.8,457.65 L319.0,457.82 L319.2,458.15 L319.5,458.52 L319.8,458.75 L320.0,458.95 L320.2,459.15 L320.5,459.24 L320.8,459.40 L321.0,459.53 L321.2,459.45 L321.5,459.49 L321.8,459.67 L322.0,459.79 L322.2,459.91 L322.5,460.02 L322.8,460.12 L323.0,460.27 L323.2,460.40 L323.5,460.46 L323.8,460.45 L324.0,460.41 L324.2,460.43 L324.5,460.62 L324.8,460.80 L325.0,460.89 L325.2,460.97 L325.5,461.04 L325.8,461.00 L326.0,460.96 L326.2,461.08 L326.5,461.23 L326.8,461.30 L327.0,461.24 L327.2,461.15 L327.5,461.14 L327.8,461.08 L328.0,461.02 L328.2,461.10 L328.5,461.26 L328.8,461.31 L329.0,461.27 L329.2,461.37 L329.5,461.47 L329.8,461.41 L330.0,461.38 L330.2,461.36 L330.5,461.38 L330.8,461.49 L331.0,461.51 L331.2,461.39 L331.5,461.41 L331.8,461.58 L332.0,461.62 L332.2,461.63 L332.5,461.68 L332.8,461.63 L333.0,461.55 L333.2,461.45 L333.5,461.42 L333.8,461.50 L334.0,461.55 L334.2,461.66 L334.5,461.82 L334.8,461.77 L335.0,461.60 L335.2,461.54 L335.5,461.72 L335.8,461.79 L336.0,461.67 L336.2,461.64 L336.5,461.64 L336.8,461.62 L337.0,461.57 L337.2,461.50 L337.5,461.50 L337.8,461.59 L338.0,461.81 L338.2,461.88 L338.5,461.79 L338.8,461.76 L339.0,461.76 L339.2,461.76 L339.5,461.75 L339.8,461.72 L340.0,461.65 L340.2,461.57 L340.5,461.56 L340.8,461.66 L341.0,461.73 L341.2,461.82 L341.5,461.91 L341.8,461.82 L342.0,461.74 L342.2,461.84 L342.5,461.97 L342.8,462.04 L343.0,461.92 L343.2,461.75 L343.5,461.78 L343.8,461.87 L344.0,461.88 L344.2,461.85 L344.5,461.87 L344.8,461.98 L345.0,462.03 L345.2,461.95 L345.5,461.76 L345.8,461.55 L346.0,461.57 L346.2,461.75 L346.5,461.69 L346.8,461.49 L347.0,461.62 L347.2,461.87 L347.5,461.86 L347.8,461.76 L348.0,461.77 L348.2,461.75 L348.5,461.75 L348.8,461.86 L349.0,461.84 L349.2,461.66 L349.5,461.52 L349.8,461.46 L350.0,461.55 L350.2,461.82 L350.5,461.91 L350.8,461.81 L351.0,461.72 L351.2,461.62 L351.5,461.63 L351.8,461.71 L352.0,461.68 L352.2,461.53 L352.5,461.35 L352.8,461.33 L353.0,461.42 L353.2,461.46 L353.5,461.46 L353.8,461.43 L354.0,461.44 L354.2,461.49 L354.5,461.51 L354.8,461.44 L355.0,461.35 L355.2,461.38 L355.5,461.43 L355.8,461.32 L356.0,461.17 L356.2,461.17 L356.5,461.27 L356.8,461.36 L357.0,461.33 L357.2,461.27 L357.5,461.24 L357.8,461.13 L358.0,461.00 L358.2,460.99 L358.5,461.06 L358.8,461.06 L359.0,460.92 L359.2,460.73 L359.5,460.64 L359.8,460.67 L360.0,460.65 L360.2,460.56 L360.5,460.45 L360.8,460.36 L361.0,460.36 L361.2,460.40 L361.5,460.36 L361.8,460.22 L362.0,460.09 L362.2,459.95 L362.5,459.77 L362.8,459.64 L363.0,459.64 L363.2,459.61 L363.5,459.42 L363.8,459.12 L364.0,458.85 L364.2,458.62 L364.5,458.41 L364.8,458.18 L365.0,457.88 L365.2,457.52 L365.5,457.09 L365.8,456.61 L366.0,456.09 L366.2,455.45 L366.5,454.74 L366.8,454.04 L367.0,453.15 L367.2,452.04 L367.5,450.97 L367.8,449.94 L368.0,448.62 L368.2,447.04 L368.5,445.50 L368.8,444.02 L369.0,442.42 L369.2,440.67 L369.5,438.84 L369.8,436.99 L370.0,434.94 L370.2,432.74 L370.5,430.84 L370.8,429.11 L371.0,427.33 L371.2,425.93 L371.5,425.07 L371.8,424.56 L372.0,424.19 L372.2,424.08 L372.5,424.58 L372.8,425.59 L373.0,426.85 L373.2,428.35 L373.5,430.07 L373.8,431.87 L374.0,433.58 L374.2,435.31 L374.5,437.12 L374.8,438.80 L375.0,440.30 L375.2,441.76 L375.5,443.03 L375.8,444.23 L376.0,445.44 L376.2,446.42 L376.5,447.11 L376.8,447.59 L377.0,447.90 L377.2,448.07 L377.5,448.02 L377.8,447.86 L378.0,447.51 L378.2,446.93 L378.5,446.21 L378.8,445.28 L379.0,444.15 L379.2,442.88 L379.5,441.49 L379.8,439.95 L380.0,438.11 L380.2,436.17 L380.5,434.34 L380.8,432.34 L381.0,430.28 L381.2,428.57 L381.5,426.84 L381.8,425.09 L382.0,423.87 L382.2,423.02 L382.5,422.40 L382.8,422.32 L383.0,422.80 L383.2,423.76 L383.5,425.04 L383.8,426.53 L384.0,428.35 L384.2,430.41 L384.5,432.49 L384.8,434.63 L385.0,436.76 L385.2,438.74 L385.5,440.76 L385.8,442.71 L386.0,444.52 L386.2,446.27 L386.5,447.97 L386.8,449.54 L387.0,450.77 L387.2,451.90 L387.5,453.04 L387.8,453.85 L388.0,454.48 L388.2,455.30 L388.5,456.05 L388.8,456.57 L389.0,457.07 L389.2,457.52 L389.5,457.86 L389.8,458.05 L390.0,458.29 L390.2,458.72 L390.5,459.15 L390.8,459.43 L391.0,459.50 L391.2,459.64 L391.5,459.89 L391.8,460.11 L392.0,460.28 L392.2,460.22 L392.5,460.13 L392.8,460.25 L393.0,460.37 L393.2,460.44 L393.5,460.57 L393.8,460.71 L394.0,460.81 L394.2,460.93 L394.5,461.07 L394.8,461.17 L395.0,461.22 L395.2,461.17 L395.5,461.04 L395.8,461.05 L396.0,461.24 L396.2,461.35 L396.5,461.34 L396.8,461.43 L397.0,461.67 L397.2,461.83 L397.5,461.75 L397.8,461.70 L398.0,461.81 L398.2,461.82 L398.5,461.83 L398.8,461.87 L399.0,461.83 L399.2,461.86 L399.5,461.97 L399.8,461.97 L400.0,461.84 L400.2,461.79 L400.5,461.90 L400.8,461.99 L401.0,462.02 L401.2,462.06 L401.5,462.14 L401.8,462.20 L402.0,462.13 L402.2,462.11 L402.5,462.14 L402.8,462.07 L403.0,462.14 L403.2,462.25 L403.5,462.26 L403.8,462.42 L404.0,462.56 L404.2,462.52 L404.5,462.43 L404.8,462.37 L405.0,462.31 L405.2,462.34 L405.5,462.38 L405.8,462.37 L406.0,462.35 L406.2,462.24 L406.5,462.18 L406.8,462.33 L407.0,462.52 L407.2,462.63 L407.5,462.56 L407.8,462.48 L408.0,462.53 L408.2,462.52 L408.5,462.44 L408.8,462.33 L409.0,462.29 L409.2,462.47 L409.5,462.53 L409.8,462.31 L410.0,462.32 L410.2,462.51 L410.5,462.55 L410.8,462.45 L411.0,462.31 L411.2,462.38 L411.5,462.55 L411.8,462.60 L412.0,462.53 L412.2,462.47 L412.5,462.47 L412.8,462.39 L413.0,462.33 L413.2,462.45 L413.5,462.60 L413.8,462.58 L414.0,462.43 L414.2,462.40 L414.5,462.58 L414.8,462.58 L415.0,462.35 L415.2,462.41 L415.5,462.61 L415.8,462.65 L416.0,462.68 L416.2,462.50 L416.5,462.37 L416.8,462.60 L417.0,462.72 L417.2,462.65 L417.5,462.57 L417.8,462.60 L418.0,462.64 L418.2,462.47 L418.5,462.42 L418.8,462.57 L419.0,462.65 L419.2,462.68 L419.5,462.60 L419.8,462.53 L420.0,462.45 L420.2,462.43 L420.5,462.58 L420.8,462.60 L421.0,462.64 L421.2,462.76 L421.5,462.74 L421.8,462.73 L422.0,462.73 L422.2,462.73 L422.5,462.74 L422.8,462.74 L423.0,462.68 L423.2,462.63 L423.5,462.64 L423.8,462.60 L424.0,462.48 L424.2,462.56 L424.5,462.69 L424.8,462.68 L425.0,462.71 L425.2,462.86 L425.5,462.87 L425.8,462.58 L426.0,462.36 L426.2,462.39 L426.5,462.49 L426.8,462.57 L427.0,462.67 L427.2,462.71 L427.5,462.63 L427.8,462.61 L428.0,462.59 L428.2,462.53 L428.5,462.68 L428.8,462.87 L429.0,462.70 L429.2,462.42 L429.5,462.41 L429.8,462.59 L430.0,462.60 L430.2,462.65 L430.5,462.88 L430.8,462.78 L431.0,462.49 L431.2,462.53 L431.5,462.72 L431.8,462.67 L432.0,462.61 L432.2,462.80 L432.5,462.80 L432.8,462.48 L433.0,462.29 L433.2,462.39 L433.5,462.62 L433.8,462.72 L434.0,462.61 L434.2,462.51 L434.5,462.55 L434.8,462.55 L435.0,462.38 L435.2,462.32 L435.5,462.51 L435.8,462.66 L436.0,462.62 L436.2,462.52 L436.5,462.51 L436.8,462.49 L437.0,462.38 L437.2,462.38 L437.5,462.42 L437.8,462.40 L438.0,462.42 L438.2,462.49 L438.5,462.46 L438.8,462.42 L439.0,462.46 L439.2,462.43 L439.5,462.34 L439.8,462.37 L440.0,462.40 L440.2,462.33 L440.5,462.30 L440.8,462.35 L441.0,462.36 L441.2,462.44 L441.5,462.44 L441.8,462.28 L442.0,462.27 L442.2,462.36 L442.5,462.30 L442.8,462.21 L443.0,462.21 L443.2,462.17 L443.5,462.22 L443.8,462.26 L444.0,462.14 L444.2,462.02 L444.5,462.00 L444.8,462.01 L445.0,461.89 L445.2,461.71 L445.5,461.76 L445.8,461.99 L446.0,462.07 L446.2,461.98 L446.5,461.90 L446.8,461.87 L447.0,461.84 L447.2,461.72 L447.5,461.55 L447.8,461.43 L448.0,461.38 L448.2,461.36 L448.5,461.27 L448.8,461.27 L449.0,461.26 L449.2,461.11 L449.5,461.05 L449.8,460.85 L450.0,460.40 L450.2,460.16 L450.5,460.09 L450.8,459.87 L451.0,459.67 L451.2,459.38 L451.5,458.99 L451.8,458.74 L452.0,458.45 L452.2,457.90 L452.5,457.25 L452.8,456.72 L453.0,456.30 L453.2,455.86 L453.5,455.21 L453.8,454.55 L454.0,454.05 L454.2,453.52 L454.5,452.93 L454.8,452.40 L455.0,451.94 L455.2,451.55 L455.5,451.14 L455.8,450.64 L456.0,450.19 L456.2,449.79 L456.5,449.40 L456.8,449.06 L457.0,448.58 L457.2,447.84 L457.5,447.14 L457.8,446.66 L458.0,445.91 L458.2,444.78 L458.5,443.56 L458.8,442.41 L459.0,441.13 L459.2,439.55 L459.5,438.04 L459.8,436.62 L460.0,435.19 L460.2,433.87 L460.5,432.79 L460.8,432.04 L461.0,431.69 L461.2,431.85 L461.5,432.23 L461.8,432.76 L462.0,433.81 L462.2,435.39 L462.5,437.07 L462.8,438.81 L463.0,440.72 L463.2,442.47 L463.5,444.05 L463.8,445.68 L464.0,447.36 L464.2,448.96 L464.5,450.45 L464.8,451.75 L465.0,452.85 L465.2,453.94 L465.5,454.95 L465.8,455.70 L466.0,456.36 L466.2,457.00 L466.5,457.55 L466.8,458.07 L467.0,458.45 L467.2,458.79 L467.5,459.20 L467.8,459.56 L468.0,459.75 L468.2,459.93 L468.5,460.26 L468.8,460.49 L469.0,460.52 L469.2,460.62 L469.5,460.77 L469.8,460.93 L470.0,461.04 L470.2,461.01 L470.5,461.03 L470.8,461.28 L471.0,461.49 L471.2,461.42 L471.5,461.32 L471.8,461.42 L472.0,461.63 L472.2,461.74 L472.5,461.70 L472.8,461.75 L473.0,461.86 L473.2,461.91 L473.5,461.98 L473.8,462.07 L474.0,462.05 L474.2,462.09 L474.5,462.17 L474.8,461.99 L475.0,461.95 L475.2,462.17 L475.5,462.20 L475.8,462.17 L476.0,462.24 L476.2,462.28 L476.5,462.21 L476.8,462.13 L477.0,462.11 L477.2,462.13 L477.5,462.26 L477.8,462.43 L478.0,462.47 L478.2,462.41 L478.5,462.41 L478.8,462.41 L479.0,462.34 L479.2,462.44 L479.5,462.51 L479.8,462.39 L480.0,462.37 L480.2,462.45 L480.5,462.41 L480.8,462.39 L481.0,462.42 L481.2,462.41 L481.5,462.57 L481.8,462.72 L482.0,462.66 L482.2,462.58 L482.5,462.52 L482.8,462.53 L483.0,462.57" fill="none" stroke="#000000" stroke-width="3.3" stroke-linejoin="round" stroke-linecap="butt"/>
<rect x="46.0" y="8.7" width="437.8" height="460.8" fill="none" stroke="#000" stroke-width="3.0"/>
<line x1="76.4" y1="469.5" x2="76.4" y2="474.6" stroke="#000" stroke-width="2.6"/>
<line x1="127.4" y1="469.5" x2="127.4" y2="478.4" stroke="#000" stroke-width="2.6"/>
<line x1="178.3" y1="469.5" x2="178.3" y2="474.6" stroke="#000" stroke-width="2.6"/>
<line x1="229.3" y1="469.5" x2="229.3" y2="478.4" stroke="#000" stroke-width="2.6"/>
<line x1="280.2" y1="469.5" x2="280.2" y2="474.6" stroke="#000" stroke-width="2.6"/>
<line x1="331.2" y1="469.5" x2="331.2" y2="478.4" stroke="#000" stroke-width="2.6"/>
<line x1="382.1" y1="469.5" x2="382.1" y2="474.6" stroke="#000" stroke-width="2.6"/>
<line x1="433.1" y1="469.5" x2="433.1" y2="478.4" stroke="#000" stroke-width="2.6"/>
<line x1="484.1" y1="469.5" x2="484.1" y2="474.6" stroke="#000" stroke-width="2.6"/>
<line x1="40.0" y1="8.8" x2="46.0" y2="8.8" stroke="#000" stroke-width="2.6"/>
<line x1="36.2" y1="60.0" x2="46.0" y2="60.0" stroke="#000" stroke-width="2.6"/>
<line x1="40.0" y1="111.2" x2="46.0" y2="111.2" stroke="#000" stroke-width="2.6"/>
<line x1="36.2" y1="162.4" x2="46.0" y2="162.4" stroke="#000" stroke-width="2.6"/>
<line x1="40.0" y1="213.5" x2="46.0" y2="213.5" stroke="#000" stroke-width="2.6"/>
<line x1="36.2" y1="264.7" x2="46.0" y2="264.7" stroke="#000" stroke-width="2.6"/>
<line x1="40.0" y1="315.9" x2="46.0" y2="315.9" stroke="#000" stroke-width="2.6"/>
<line x1="36.2" y1="367.1" x2="46.0" y2="367.1" stroke="#000" stroke-width="2.6"/>
<line x1="40.0" y1="418.3" x2="46.0" y2="418.3" stroke="#000" stroke-width="2.6"/>
<line x1="36.2" y1="469.4" x2="46.0" y2="469.4" stroke="#000" stroke-width="2.6"/>
<g font-family='"Liberation Sans", sans-serif' font-weight="700" fill="#000" stroke="#000" stroke-width="0.3" stroke-linejoin="round">
<text x="0" y="0" font-size="18.7" text-anchor="middle" transform="translate(127.4,498.5) scale(1.0,1)">30</text>
<text x="0" y="0" font-size="18.7" text-anchor="middle" transform="translate(229.3,498.5) scale(1.0,1)">40</text>
<text x="0" y="0" font-size="18.7" text-anchor="middle" transform="translate(331.2,498.5) scale(1.0,1)">50</text>
<text x="0" y="0" font-size="18.7" text-anchor="middle" transform="translate(433.1,498.5) scale(1.0,1)">60</text>
<text font-size="25.9" letter-spacing="0.66" transform="translate(193.5,540.4) scale(1,1)">2<tspan font-family='"Liberation Serif", serif' font-weight="400">θ</tspan> (degree)</text>
<text font-size="27" transform="translate(27,348) rotate(-90) scale(1.03,1)">Intensity (a.u)</text>
<text font-size="15" letter-spacing="0.5" transform="translate(351.3,25.6) scale(1.0,1)">CuO-TiO<tspan font-size="12.3" dy="8.2" dx="-0.9">2</tspan></text>
<text font-size="15" letter-spacing="0.15" transform="translate(426.2,25.6) scale(1.0,1)">70/30</text>
<text font-size="15" letter-spacing="0.5" transform="translate(345.3,94.5) scale(1.0,1)">CuO-TiO<tspan font-size="12.3" dy="8.2" dx="-0.9">2</tspan></text>
<text font-size="15" letter-spacing="0.15" transform="translate(420.9,94.5) scale(1.0,1)">50/50</text>
<text font-size="15" letter-spacing="0.5" transform="translate(366.4,164.0) scale(1.0,1)">CuO-TiO<tspan font-size="12.3" dy="8.2" dx="-0.9">2</tspan></text>
<text font-size="15" letter-spacing="0.15" transform="translate(442.0,164.0) scale(1.0,1)">30/70</text>
<text font-size="15" letter-spacing="0.5" transform="translate(64.3,245.9) scale(1.0,1)">CuO</text>
<text font-size="15" letter-spacing="0.5" transform="translate(97.2,394) scale(1.0,1)">TiO<tspan font-size="12.3" dy="8.2" dx="-0.9">2</tspan></text>
<text font-size="15" letter-spacing="0.5" transform="translate(398.7,327.9) scale(1.0,1)">TiO<tspan font-size="12.3" dy="8.2" dx="-0.9">2</tspan></text>
<text font-size="15" letter-spacing="0.5" transform="translate(394.1,358.3) scale(1.0,1)">CuO</text>
<text font-size="19" text-anchor="middle" x="81.6" y="32.3">*</text>
<text font-size="19" text-anchor="middle" x="200" y="52.9">*</text>
<text font-size="19" text-anchor="middle" x="207.7" y="49.5">*</text>
<text font-size="19" text-anchor="middle" x="309.4" y="54.1">*</text>
<text font-size="19" text-anchor="middle" x="382" y="54.6">*</text>
<text font-size="19" text-anchor="middle" x="461.9" y="52.9">*</text>
<text font-size="19" text-anchor="middle" x="79.2" y="75.3">*</text>
<text font-size="19" text-anchor="middle" x="195" y="137.3">*</text>
<text font-size="19" text-anchor="middle" x="207" y="129.3">*</text>
<text font-size="19" text-anchor="middle" x="311" y="110.8">*</text>
<text font-size="19" text-anchor="middle" x="386.6" y="128.5">*</text>
<text font-size="19" text-anchor="middle" x="458.2" y="134.2">*</text>
<text font-size="19" text-anchor="middle" x="79" y="163.3">*</text>
<text font-size="19" text-anchor="middle" x="199.2" y="183.6">*</text>
<text font-size="19" text-anchor="middle" x="206.6" y="178.7">*</text>
<text font-size="19" text-anchor="middle" x="309.9" y="179.9">*</text>
<text font-size="19" text-anchor="middle" x="382.4" y="182.4">*</text>
<text font-size="19" text-anchor="middle" x="460.7" y="186.6">*</text>
<text font-size="19" text-anchor="middle" x="81.7" y="326.0">*</text>
<text font-size="19" text-anchor="middle" x="201" y="452.8">*</text>
<text font-size="19" text-anchor="middle" x="207.6" y="421.0">*</text>
<text font-size="19" text-anchor="middle" x="217.4" y="444.3">*</text>
<text font-size="19" text-anchor="middle" x="312" y="396.0">*</text>
<text font-size="19" text-anchor="middle" x="370.8" y="427.8">*</text>
<text font-size="19" text-anchor="middle" x="382.3" y="423.4">*</text>
<text font-size="19" text-anchor="middle" x="461.4" y="425.9">*</text>
<text font-size="19" text-anchor="middle" x="385.5" y="332.3">*</text>
<text font-size="19" text-anchor="middle" x="185" y="35.5">+</text>
<text font-size="19" text-anchor="middle" x="216.8" y="35.5">+</text>
<text font-size="19" text-anchor="middle" x="319.2" y="49.5">+</text>
<text font-size="19" text-anchor="middle" x="373.8" y="45.1">+</text>
<text font-size="19" text-anchor="middle" x="413.6" y="51.2">+</text>
<text font-size="19" text-anchor="middle" x="448" y="50.5">+</text>
<text font-size="19" text-anchor="middle" x="183.8" y="126.5">+</text>
<text font-size="19" text-anchor="middle" x="219.5" y="127.8">+</text>
<text font-size="19" text-anchor="middle" x="321" y="139.9">+</text>
<text font-size="19" text-anchor="middle" x="371" y="122.6">+</text>
<text font-size="19" text-anchor="middle" x="418.3" y="140.1">+</text>
<text font-size="19" text-anchor="middle" x="449.7" y="141.8">+</text>
<text font-size="19" text-anchor="middle" x="183.3" y="175.3">+</text>
<text font-size="19" text-anchor="middle" x="217.1" y="179.7">+</text>
<text font-size="19" text-anchor="middle" x="319.2" y="180.9">+</text>
<text font-size="19" text-anchor="middle" x="370.2" y="181.4">+</text>
<text font-size="19" text-anchor="middle" x="419" y="189.5">+</text>
<text font-size="19" text-anchor="middle" x="62" y="290.3">+</text>
<text font-size="19" text-anchor="middle" x="119.6" y="291.5">+</text>
<text font-size="19" text-anchor="middle" x="150.3" y="287.9">+</text>
<text font-size="19" text-anchor="middle" x="167" y="293.4">+</text>
<text font-size="19" text-anchor="middle" x="184.1" y="208.9">+</text>
<text font-size="19" text-anchor="middle" x="216.2" y="204.5">+</text>
<text font-size="19" text-anchor="middle" x="319.8" y="262.6">+</text>
<text font-size="19" text-anchor="middle" x="367.2" y="280.9">+</text>
<text font-size="19" text-anchor="middle" x="414.6" y="273.1">+</text>
<text font-size="19" text-anchor="middle" x="449.7" y="265.5">+</text>
<text font-size="19" text-anchor="middle" x="383.9" y="359.2">+</text>
</g>
<line x1="394.5" y1="27" x2="399.9" y2="45.3" stroke="#000" stroke-width="1.2"/>
<polygon points="402.6,54.4 397.1,46.1 402.7,44.5" fill="#000"/>
<line x1="389.6" y1="100.3" x2="407.5" y2="136.0" stroke="#000" stroke-width="1.2"/>
<polygon points="411.7,144.5 404.9,137.3 410.0,134.7" fill="#000"/>
<line x1="397.5" y1="171.9" x2="398.4" y2="180.4" stroke="#000" stroke-width="1.2"/>
<polygon points="399.4,189.8 395.5,180.7 401.3,180.0" fill="#000"/>
<line x1="84.1" y1="251.8" x2="89.7" y2="293.3" stroke="#000" stroke-width="1.2"/>
<polygon points="91.0,302.7 86.9,293.7 92.6,292.9" fill="#000"/>
<line x1="124.4" y1="413" x2="143.1" y2="448.3" stroke="#000" stroke-width="1.2"/>
<polygon points="147.6,456.7 140.6,449.7 145.7,446.9" fill="#000"/>
</svg>
</body></html>
